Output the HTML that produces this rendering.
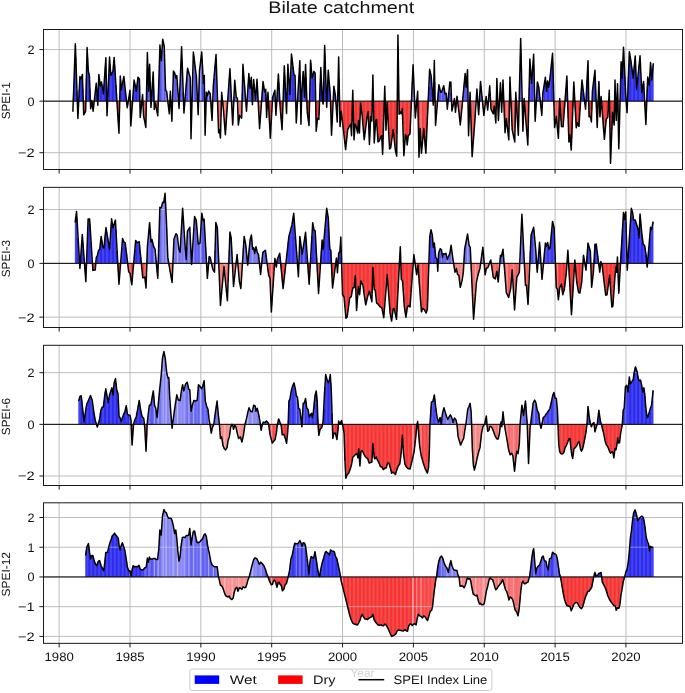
<!DOCTYPE html>
<html><head><meta charset="utf-8"><title>Bilate catchment</title>
<style>html,body{margin:0;padding:0;background:#fff}svg{display:block}text{font-family:"Liberation Sans",sans-serif;fill:#111;text-rendering:geometricPrecision;filter:grayscale(1)}</style></head><body>
<svg width="685" height="693" viewBox="0 0 685 693">
<rect width="685" height="693" fill="#fff"/>
<defs>
<clipPath id="ca0"><rect x="43.5" y="29.5" width="639.0" height="71.65"/></clipPath>
<clipPath id="cb0"><rect x="43.5" y="101.15" width="639.0" height="68.35"/></clipPath>
<linearGradient id="gb0" gradientUnits="userSpaceOnUse" x1="0" y1="0" x2="685" y2="0">
<stop offset="0.1066" stop-color="#2c2cee"/>
<stop offset="0.2044" stop-color="#2c2cee"/>
<stop offset="0.2131" stop-color="#3737ef"/>
<stop offset="0.2219" stop-color="#4141f0"/>
<stop offset="0.2380" stop-color="#5656f1"/>
<stop offset="0.2628" stop-color="#5a5af2"/>
<stop offset="0.2686" stop-color="#5454f1"/>
<stop offset="0.2774" stop-color="#4a4af0"/>
<stop offset="0.3095" stop-color="#4545f0"/>
<stop offset="0.3182" stop-color="#4c4cf1"/>
<stop offset="0.3241" stop-color="#5a5af2"/>
<stop offset="0.3650" stop-color="#5b5bf2"/>
<stop offset="0.3766" stop-color="#5656f1"/>
<stop offset="0.3854" stop-color="#4646f0"/>
<stop offset="0.3971" stop-color="#3939ef"/>
<stop offset="0.4088" stop-color="#2f2fee"/>
<stop offset="0.4380" stop-color="#3131ee"/>
<stop offset="0.4964" stop-color="#2c2cee"/>
<stop offset="0.6029" stop-color="#2c2cee"/>
<stop offset="0.6131" stop-color="#3333ef"/>
<stop offset="0.6365" stop-color="#3939ef"/>
<stop offset="0.6438" stop-color="#4141f0"/>
<stop offset="0.6526" stop-color="#5252f1"/>
<stop offset="0.6686" stop-color="#5656f1"/>
<stop offset="0.7095" stop-color="#5454f1"/>
<stop offset="0.7299" stop-color="#4a4af0"/>
<stop offset="0.7591" stop-color="#4545f0"/>
<stop offset="0.7679" stop-color="#4a4af0"/>
<stop offset="0.7752" stop-color="#3c3cef"/>
<stop offset="0.7956" stop-color="#3737ef"/>
<stop offset="0.8175" stop-color="#3131ee"/>
<stop offset="0.8234" stop-color="#2c2cee"/>
<stop offset="0.9562" stop-color="#2c2cee"/>
</linearGradient>
<linearGradient id="gr0" gradientUnits="userSpaceOnUse" x1="0" y1="0" x2="685" y2="0">
<stop offset="0.1066" stop-color="#f53434"/>
<stop offset="0.2044" stop-color="#f53434"/>
<stop offset="0.2131" stop-color="#f63e3e"/>
<stop offset="0.2219" stop-color="#f64848"/>
<stop offset="0.2380" stop-color="#f75d5d"/>
<stop offset="0.2628" stop-color="#f76161"/>
<stop offset="0.2686" stop-color="#f75b5b"/>
<stop offset="0.2774" stop-color="#f65050"/>
<stop offset="0.3095" stop-color="#f64c4c"/>
<stop offset="0.3182" stop-color="#f65252"/>
<stop offset="0.3241" stop-color="#f76161"/>
<stop offset="0.3650" stop-color="#f76262"/>
<stop offset="0.3766" stop-color="#f75d5d"/>
<stop offset="0.3854" stop-color="#f64d4d"/>
<stop offset="0.3971" stop-color="#f64040"/>
<stop offset="0.4088" stop-color="#f53737"/>
<stop offset="0.4380" stop-color="#f53939"/>
<stop offset="0.4964" stop-color="#f53434"/>
<stop offset="0.6029" stop-color="#f53434"/>
<stop offset="0.6131" stop-color="#f53b3b"/>
<stop offset="0.6365" stop-color="#f64040"/>
<stop offset="0.6438" stop-color="#f64848"/>
<stop offset="0.6526" stop-color="#f75959"/>
<stop offset="0.6686" stop-color="#f75d5d"/>
<stop offset="0.7095" stop-color="#f75b5b"/>
<stop offset="0.7299" stop-color="#f65050"/>
<stop offset="0.7591" stop-color="#f64c4c"/>
<stop offset="0.7679" stop-color="#f65050"/>
<stop offset="0.7752" stop-color="#f64343"/>
<stop offset="0.7956" stop-color="#f63e3e"/>
<stop offset="0.8175" stop-color="#f53939"/>
<stop offset="0.8234" stop-color="#f53434"/>
<stop offset="0.9562" stop-color="#f53434"/>
</linearGradient>
<clipPath id="ca1"><rect x="43.5" y="187.35" width="639.0" height="76.00000000000003"/></clipPath>
<clipPath id="cb1"><rect x="43.5" y="263.35" width="639.0" height="64.14999999999998"/></clipPath>
<linearGradient id="gb1" gradientUnits="userSpaceOnUse" x1="0" y1="0" x2="685" y2="0">
<stop offset="0.1066" stop-color="#2c2cee"/>
<stop offset="0.2044" stop-color="#2c2cee"/>
<stop offset="0.2131" stop-color="#3d3def"/>
<stop offset="0.2219" stop-color="#4e4ef1"/>
<stop offset="0.2380" stop-color="#7070f3"/>
<stop offset="0.2628" stop-color="#7676f4"/>
<stop offset="0.2686" stop-color="#6c6cf3"/>
<stop offset="0.2774" stop-color="#5b5bf2"/>
<stop offset="0.3095" stop-color="#5555f1"/>
<stop offset="0.3182" stop-color="#5f5ff2"/>
<stop offset="0.3241" stop-color="#7676f4"/>
<stop offset="0.3650" stop-color="#7878f4"/>
<stop offset="0.3766" stop-color="#7070f3"/>
<stop offset="0.3854" stop-color="#5656f1"/>
<stop offset="0.3971" stop-color="#4040f0"/>
<stop offset="0.4088" stop-color="#3131ee"/>
<stop offset="0.4380" stop-color="#3434ef"/>
<stop offset="0.4964" stop-color="#2c2cee"/>
<stop offset="0.6029" stop-color="#2c2cee"/>
<stop offset="0.6131" stop-color="#3838ef"/>
<stop offset="0.6365" stop-color="#4040f0"/>
<stop offset="0.6438" stop-color="#4e4ef1"/>
<stop offset="0.6526" stop-color="#6969f3"/>
<stop offset="0.6686" stop-color="#7070f3"/>
<stop offset="0.7095" stop-color="#6c6cf3"/>
<stop offset="0.7299" stop-color="#5b5bf2"/>
<stop offset="0.7591" stop-color="#5555f1"/>
<stop offset="0.7679" stop-color="#5b5bf2"/>
<stop offset="0.7752" stop-color="#4545f0"/>
<stop offset="0.7956" stop-color="#3d3def"/>
<stop offset="0.8175" stop-color="#3434ef"/>
<stop offset="0.8234" stop-color="#2c2cee"/>
<stop offset="0.9562" stop-color="#2c2cee"/>
</linearGradient>
<linearGradient id="gr1" gradientUnits="userSpaceOnUse" x1="0" y1="0" x2="685" y2="0">
<stop offset="0.1066" stop-color="#f53434"/>
<stop offset="0.2044" stop-color="#f53434"/>
<stop offset="0.2131" stop-color="#f64444"/>
<stop offset="0.2219" stop-color="#f75454"/>
<stop offset="0.2380" stop-color="#f87575"/>
<stop offset="0.2628" stop-color="#f97b7b"/>
<stop offset="0.2686" stop-color="#f87272"/>
<stop offset="0.2774" stop-color="#f76161"/>
<stop offset="0.3095" stop-color="#f75b5b"/>
<stop offset="0.3182" stop-color="#f76565"/>
<stop offset="0.3241" stop-color="#f97b7b"/>
<stop offset="0.3650" stop-color="#f97d7d"/>
<stop offset="0.3766" stop-color="#f87575"/>
<stop offset="0.3854" stop-color="#f75d5d"/>
<stop offset="0.3971" stop-color="#f64747"/>
<stop offset="0.4088" stop-color="#f53939"/>
<stop offset="0.4380" stop-color="#f53c3c"/>
<stop offset="0.4964" stop-color="#f53434"/>
<stop offset="0.6029" stop-color="#f53434"/>
<stop offset="0.6131" stop-color="#f63f3f"/>
<stop offset="0.6365" stop-color="#f64747"/>
<stop offset="0.6438" stop-color="#f75454"/>
<stop offset="0.6526" stop-color="#f86e6e"/>
<stop offset="0.6686" stop-color="#f87575"/>
<stop offset="0.7095" stop-color="#f87272"/>
<stop offset="0.7299" stop-color="#f76161"/>
<stop offset="0.7591" stop-color="#f75b5b"/>
<stop offset="0.7679" stop-color="#f76161"/>
<stop offset="0.7752" stop-color="#f64c4c"/>
<stop offset="0.7956" stop-color="#f64444"/>
<stop offset="0.8175" stop-color="#f53c3c"/>
<stop offset="0.8234" stop-color="#f53434"/>
<stop offset="0.9562" stop-color="#f53434"/>
</linearGradient>
<clipPath id="ca2"><rect x="43.5" y="345.3" width="639.0" height="79.05000000000001"/></clipPath>
<clipPath id="cb2"><rect x="43.5" y="424.35" width="639.0" height="61.14999999999998"/></clipPath>
<linearGradient id="gb2" gradientUnits="userSpaceOnUse" x1="0" y1="0" x2="685" y2="0">
<stop offset="0.1066" stop-color="#2c2cee"/>
<stop offset="0.2044" stop-color="#2c2cee"/>
<stop offset="0.2131" stop-color="#4141f0"/>
<stop offset="0.2219" stop-color="#5656f1"/>
<stop offset="0.2380" stop-color="#8080f5"/>
<stop offset="0.2628" stop-color="#8989f5"/>
<stop offset="0.2686" stop-color="#7c7cf4"/>
<stop offset="0.2774" stop-color="#6767f3"/>
<stop offset="0.3095" stop-color="#5f5ff2"/>
<stop offset="0.3182" stop-color="#6b6bf3"/>
<stop offset="0.3241" stop-color="#8989f5"/>
<stop offset="0.3650" stop-color="#8b8bf6"/>
<stop offset="0.3766" stop-color="#8080f5"/>
<stop offset="0.3854" stop-color="#6161f2"/>
<stop offset="0.3971" stop-color="#4545f0"/>
<stop offset="0.4088" stop-color="#3232ef"/>
<stop offset="0.4380" stop-color="#3737ef"/>
<stop offset="0.4964" stop-color="#2c2cee"/>
<stop offset="0.6029" stop-color="#2c2cee"/>
<stop offset="0.6131" stop-color="#3b3bef"/>
<stop offset="0.6365" stop-color="#4545f0"/>
<stop offset="0.6438" stop-color="#5656f1"/>
<stop offset="0.6526" stop-color="#7878f4"/>
<stop offset="0.6686" stop-color="#8080f5"/>
<stop offset="0.7095" stop-color="#7c7cf4"/>
<stop offset="0.7299" stop-color="#6767f3"/>
<stop offset="0.7591" stop-color="#5f5ff2"/>
<stop offset="0.7679" stop-color="#6767f3"/>
<stop offset="0.7752" stop-color="#4c4cf1"/>
<stop offset="0.7956" stop-color="#4141f0"/>
<stop offset="0.8175" stop-color="#3737ef"/>
<stop offset="0.8234" stop-color="#2c2cee"/>
<stop offset="0.9562" stop-color="#2c2cee"/>
</linearGradient>
<linearGradient id="gr2" gradientUnits="userSpaceOnUse" x1="0" y1="0" x2="685" y2="0">
<stop offset="0.1066" stop-color="#f53434"/>
<stop offset="0.2044" stop-color="#f53434"/>
<stop offset="0.2131" stop-color="#f64848"/>
<stop offset="0.2219" stop-color="#f75d5d"/>
<stop offset="0.2380" stop-color="#f98585"/>
<stop offset="0.2628" stop-color="#f98d8d"/>
<stop offset="0.2686" stop-color="#f98181"/>
<stop offset="0.2774" stop-color="#f86d6d"/>
<stop offset="0.3095" stop-color="#f76565"/>
<stop offset="0.3182" stop-color="#f87171"/>
<stop offset="0.3241" stop-color="#f98d8d"/>
<stop offset="0.3650" stop-color="#fa8f8f"/>
<stop offset="0.3766" stop-color="#f98585"/>
<stop offset="0.3854" stop-color="#f86767"/>
<stop offset="0.3971" stop-color="#f64c4c"/>
<stop offset="0.4088" stop-color="#f53a3a"/>
<stop offset="0.4380" stop-color="#f63e3e"/>
<stop offset="0.4964" stop-color="#f53434"/>
<stop offset="0.6029" stop-color="#f53434"/>
<stop offset="0.6131" stop-color="#f64242"/>
<stop offset="0.6365" stop-color="#f64c4c"/>
<stop offset="0.6438" stop-color="#f75d5d"/>
<stop offset="0.6526" stop-color="#f97d7d"/>
<stop offset="0.6686" stop-color="#f98585"/>
<stop offset="0.7095" stop-color="#f98181"/>
<stop offset="0.7299" stop-color="#f86d6d"/>
<stop offset="0.7591" stop-color="#f76565"/>
<stop offset="0.7679" stop-color="#f86d6d"/>
<stop offset="0.7752" stop-color="#f65252"/>
<stop offset="0.7956" stop-color="#f64848"/>
<stop offset="0.8175" stop-color="#f63e3e"/>
<stop offset="0.8234" stop-color="#f53434"/>
<stop offset="0.9562" stop-color="#f53434"/>
</linearGradient>
<clipPath id="ca3"><rect x="43.5" y="502.8" width="639.0" height="74.15000000000003"/></clipPath>
<clipPath id="cb3"><rect x="43.5" y="576.95" width="639.0" height="66.39999999999998"/></clipPath>
<linearGradient id="gb3" gradientUnits="userSpaceOnUse" x1="0" y1="0" x2="685" y2="0">
<stop offset="0.1066" stop-color="#2c2cee"/>
<stop offset="0.2044" stop-color="#2c2cee"/>
<stop offset="0.2131" stop-color="#4141f0"/>
<stop offset="0.2219" stop-color="#5656f1"/>
<stop offset="0.2380" stop-color="#8080f5"/>
<stop offset="0.2628" stop-color="#8989f5"/>
<stop offset="0.2686" stop-color="#7c7cf4"/>
<stop offset="0.2774" stop-color="#6767f3"/>
<stop offset="0.3095" stop-color="#5f5ff2"/>
<stop offset="0.3182" stop-color="#6b6bf3"/>
<stop offset="0.3241" stop-color="#8989f5"/>
<stop offset="0.3650" stop-color="#8b8bf6"/>
<stop offset="0.3766" stop-color="#8080f5"/>
<stop offset="0.3854" stop-color="#6161f2"/>
<stop offset="0.3971" stop-color="#4545f0"/>
<stop offset="0.4088" stop-color="#3232ef"/>
<stop offset="0.4380" stop-color="#3737ef"/>
<stop offset="0.4964" stop-color="#2c2cee"/>
<stop offset="0.6029" stop-color="#2c2cee"/>
<stop offset="0.6131" stop-color="#3b3bef"/>
<stop offset="0.6365" stop-color="#4545f0"/>
<stop offset="0.6438" stop-color="#5656f1"/>
<stop offset="0.6526" stop-color="#7878f4"/>
<stop offset="0.6686" stop-color="#8080f5"/>
<stop offset="0.7095" stop-color="#7c7cf4"/>
<stop offset="0.7299" stop-color="#6767f3"/>
<stop offset="0.7591" stop-color="#5f5ff2"/>
<stop offset="0.7679" stop-color="#6767f3"/>
<stop offset="0.7752" stop-color="#4c4cf1"/>
<stop offset="0.7956" stop-color="#4141f0"/>
<stop offset="0.8175" stop-color="#3737ef"/>
<stop offset="0.8234" stop-color="#2c2cee"/>
<stop offset="0.9562" stop-color="#2c2cee"/>
</linearGradient>
<linearGradient id="gr3" gradientUnits="userSpaceOnUse" x1="0" y1="0" x2="685" y2="0">
<stop offset="0.1066" stop-color="#f53434"/>
<stop offset="0.2044" stop-color="#f53434"/>
<stop offset="0.2131" stop-color="#f64848"/>
<stop offset="0.2219" stop-color="#f75d5d"/>
<stop offset="0.2380" stop-color="#f98585"/>
<stop offset="0.2628" stop-color="#f98d8d"/>
<stop offset="0.2686" stop-color="#f98181"/>
<stop offset="0.2774" stop-color="#f86d6d"/>
<stop offset="0.3095" stop-color="#f76565"/>
<stop offset="0.3182" stop-color="#f87171"/>
<stop offset="0.3241" stop-color="#f98d8d"/>
<stop offset="0.3650" stop-color="#fa8f8f"/>
<stop offset="0.3766" stop-color="#f98585"/>
<stop offset="0.3854" stop-color="#f86767"/>
<stop offset="0.3971" stop-color="#f64c4c"/>
<stop offset="0.4088" stop-color="#f53a3a"/>
<stop offset="0.4380" stop-color="#f63e3e"/>
<stop offset="0.4964" stop-color="#f53434"/>
<stop offset="0.6029" stop-color="#f53434"/>
<stop offset="0.6131" stop-color="#f64242"/>
<stop offset="0.6365" stop-color="#f64c4c"/>
<stop offset="0.6438" stop-color="#f75d5d"/>
<stop offset="0.6526" stop-color="#f97d7d"/>
<stop offset="0.6686" stop-color="#f98585"/>
<stop offset="0.7095" stop-color="#f98181"/>
<stop offset="0.7299" stop-color="#f86d6d"/>
<stop offset="0.7591" stop-color="#f76565"/>
<stop offset="0.7679" stop-color="#f86d6d"/>
<stop offset="0.7752" stop-color="#f65252"/>
<stop offset="0.7956" stop-color="#f64848"/>
<stop offset="0.8175" stop-color="#f63e3e"/>
<stop offset="0.8234" stop-color="#f53434"/>
<stop offset="0.9562" stop-color="#f53434"/>
</linearGradient>
</defs>
<text x="341.3" y="13.2" font-size="16.6" text-anchor="middle" textLength="146" lengthAdjust="spacingAndGlyphs">Bilate catchment</text>
<line x1="59.15" y1="29.5" x2="59.15" y2="169.5" stroke="#b4b4b4" stroke-width="0.9"/>
<line x1="130.00" y1="29.5" x2="130.00" y2="169.5" stroke="#b4b4b4" stroke-width="0.9"/>
<line x1="200.85" y1="29.5" x2="200.85" y2="169.5" stroke="#b4b4b4" stroke-width="0.9"/>
<line x1="271.70" y1="29.5" x2="271.70" y2="169.5" stroke="#b4b4b4" stroke-width="0.9"/>
<line x1="342.55" y1="29.5" x2="342.55" y2="169.5" stroke="#b4b4b4" stroke-width="0.9"/>
<line x1="413.40" y1="29.5" x2="413.40" y2="169.5" stroke="#b4b4b4" stroke-width="0.9"/>
<line x1="484.25" y1="29.5" x2="484.25" y2="169.5" stroke="#b4b4b4" stroke-width="0.9"/>
<line x1="555.10" y1="29.5" x2="555.10" y2="169.5" stroke="#b4b4b4" stroke-width="0.9"/>
<line x1="625.95" y1="29.5" x2="625.95" y2="169.5" stroke="#b4b4b4" stroke-width="0.9"/>
<line x1="43.5" y1="49.59" x2="682.5" y2="49.59" stroke="#b4b4b4" stroke-width="0.9"/>
<line x1="43.5" y1="101.15" x2="682.5" y2="101.15" stroke="#b4b4b4" stroke-width="0.9"/>
<line x1="43.5" y1="152.71" x2="682.5" y2="152.71" stroke="#b4b4b4" stroke-width="0.9"/>
<path d="M72.81,101.15V97.22H73.99V64.50H75.17V56.46H76.35V90.94H77.53V113.46H78.71V89.26H79.89V77.57H81.08V77.01H82.26V88.66H83.44V114.19H84.62V111.89H85.80V78.21H86.98V56.89H88.16V72.98H89.34V89.48H90.52V105.37H91.70V104.65H92.88V108.00H94.06V97.53H95.24V87.05H96.43V93.84H97.61V93.60H98.79V79.08H99.97V84.46H101.15V83.98H102.33V90.89H103.51V83.99H104.69V66.62H105.87V87.77H107.05V101.18H108.23V74.02H109.41V63.74H110.60V74.71H111.78V72.46H112.96V64.37H114.14V66.37H115.32V85.01H116.50V103.65H117.68V122.30H118.86V112.13H120.04V80.60H121.22V87.18H122.40V81.04H123.58V79.34H124.76V90.25H125.95V101.17H127.13V104.66H128.31V97.23H129.49V93.72H130.67V119.85H131.85V103.24H133.03V86.63H134.21V83.64H135.39V89.55H136.57V84.17H137.75V77.69H138.93V84.84H140.12V112.65H141.30V101.20H142.48V104.95H143.66V119.21H144.84V125.28H146.02V89.73H147.20V65.74H148.38V81.42H149.56V81.51H150.74V101.29H151.92V82.67H153.10V88.51H154.28V106.27H155.47V106.39H156.65V112.81H157.83V95.32H159.01V56.40H160.19V54.23H161.37V51.15H162.55V41.25H163.73V49.29H164.91V88.35H166.09V92.13H167.27V101.75H168.45V111.37H169.64V94.35H170.82V111.68H172.00V98.65H173.18V71.59H174.36V74.25H175.54V77.15H176.72V82.92H177.90V100.20H179.08V93.39H180.26V64.96H181.44V58.96H182.62V92.22H183.80V107.57H184.99V92.79H186.17V78.01H187.35V69.75H188.53V73.90H189.71V78.79H190.89V121.30H192.07V77.66H193.25V55.94H194.43V65.58H195.61V75.22H196.79V97.96H197.97V101.38H199.16V68.70H200.34V58.78H201.52V59.02H202.70V81.53H203.88V88.41H205.06V116.34H206.24V94.07H207.42V93.55H208.60V92.02H209.78V96.09H210.96V113.15H212.14V101.55H213.32V78.96H214.51V65.40H215.69V61.67H216.87V97.80H218.05V132.56H219.23V133.07H220.41V117.05H221.59V97.36H222.77V108.84H223.95V124.08H225.13V129.27H226.31V112.29H227.49V95.31H228.68V78.33H229.86V78.97H231.04V103.11H232.22V122.67H233.40V96.80H234.58V85.05H235.76V97.50H236.94V102.07H238.12V122.17H239.30V115.67H240.48V117.32H241.66V93.45H242.84V71.02H244.03V86.54H245.21V102.06H246.39V103.48H247.57V84.48H248.75V79.40H249.93V84.21H251.11V87.03H252.29V95.21H253.47V84.16H254.65V97.28H255.83V87.32H257.01V90.55H258.20V113.36H259.38V123.32H260.56V107.34H261.74V91.36H262.92V84.67H264.10V91.58H265.28V94.29H266.46V109.35H267.64V97.76H268.82V120.85H270.00V133.10H271.18V111.63H272.36V96.22H273.55V92.63H274.73V100.38H275.91V105.70H277.09V85.77H278.27V82.87H279.45V104.85H280.63V119.87H281.81V119.87H282.99V86.33H284.17V75.47H285.35V100.53H286.53V92.33H287.72V70.47H288.90V87.89H290.08V74.87H291.26V57.20H292.44V66.88H293.62V75.06H294.80V89.22H295.98V117.60H297.16V97.02H298.34V76.44H299.52V76.23H300.70V109.96H301.88V81.93H303.07V80.12H304.25V87.86H305.43V77.22H306.61V110.00H307.79V120.72H308.97V103.16H310.15V62.16H311.33V75.94H312.51V74.41H313.69V71.96H314.87V90.24H316.05V126.78H317.24V118.63H318.42V115.12H319.60V83.61H320.78V79.89H321.96V101.14H323.14V81.45H324.32V52.78H325.50V88.38H326.68V93.75H327.86V72.89H329.04V87.36H330.22V112.44H331.40V125.26H332.59V100.62H333.77V89.14H334.95V97.39H336.13V114.45H337.31V92.02H338.49V78.52H339.67V123.31H340.85V113.09H342.03V123.21H343.21V133.33H344.39V143.83H345.57V144.25H346.76V132.74H347.94V127.91H349.12V125.55H350.30V126.29H351.48V116.42H352.66V109.54H353.84V133.78H355.02V125.11H356.20V128.98H357.38V127.53H358.56V129.35H359.74V110.54H360.92V110.12H362.11V122.14H363.29V135.72H364.47V132.81H365.65V123.20H366.83V114.96H368.01V122.32H369.19V136.55H370.37V117.97H371.55V106.13H372.73V96.40H373.91V138.94H375.09V121.62H376.28V123.86H377.46V141.87H378.64V141.03H379.82V137.78H381.00V135.83H382.18V149.16H383.36V111.77H384.54V99.58H385.72V122.77H386.90V108.14H388.08V131.50H389.26V148.73H390.44V145.22H391.63V136.47H392.81V132.01H393.99V142.79H395.17V152.22H396.35V133.93H397.53V46.74H398.71V113.93H399.89V112.41H401.07V112.04H402.25V124.30H403.43V153.54H404.61V137.41H405.80V135.73H406.98V141.45H408.16V135.19H409.34V133.80H410.52V108.74H411.70V82.19H412.88V74.31H414.06V102.22H415.24V112.02H416.42V98.67H417.60V117.59H418.78V148.31H419.96V135.34H421.15V150.10H422.33V137.78H423.51V132.24H424.69V146.41H425.87V139.39H427.05V113.22H428.23V87.05H429.41V71.00H430.59V76.39H431.77V92.41H432.95V94.38H434.13V81.92H435.32V121.20H436.50V106.88H437.68V92.57H438.86V87.00H440.04V92.21H441.22V91.43H442.40V87.89H443.58V88.46H444.76V93.74H445.94V97.33H447.12V104.76H448.30V92.15H449.48V81.96H450.67V92.91H451.85V108.59H453.03V103.05H454.21V103.15H455.39V106.96H456.57V97.48H457.75V107.12H458.93V117.76H460.11V120.55H461.29V108.13H462.47V95.70H463.65V83.28H464.84V76.73H466.02V81.88H467.20V86.21H468.38V124.01H469.56V94.32H470.74V131.51H471.92V151.71H473.10V136.18H474.28V120.66H475.46V102.57H476.64V93.53H477.82V111.03H479.00V98.12H480.19V84.26H481.37V96.06H482.55V107.87H483.73V111.67H484.91V101.74H486.09V101.36H487.27V107.86H488.45V93.69H489.63V94.80H490.81V109.95H491.99V112.36H493.17V110.19H494.36V113.17H495.54V110.49H496.72V90.74H497.90V118.69H499.08V96.85H500.26V92.59H501.44V103.37H502.62V85.72H503.80V116.12H504.98V126.92H506.16V121.80H507.34V132.13H508.52V123.16H509.71V85.32H510.89V112.97H512.07V131.88H513.25V137.55H514.43V128.53H515.61V99.64H516.79V119.47H517.97V125.30H519.15V76.63H520.33V48.82H521.51V97.55H522.69V121.40H523.88V102.52H525.06V117.45H526.24V132.37H527.42V137.21H528.60V87.61H529.78V66.07H530.96V82.39H532.14V67.25H533.32V65.85H534.50V117.41H535.68V102.13H536.86V82.01H538.04V86.74H539.23V96.93H540.41V107.75H541.59V107.70H542.77V90.11H543.95V82.65H545.13V80.90H546.31V88.56H547.49V83.70H548.67V83.12H549.85V73.72H551.03V62.30H552.21V62.39H553.40V105.31H554.58V123.92H555.76V116.47H556.94V129.17H558.12V128.44H559.30V101.41H560.48V120.51H561.66V126.67H562.84V122.04H564.02V106.18H565.20V90.32H566.38V79.65H567.56V117.73H568.75V138.88H569.93V141.56H571.11V138.29H572.29V106.88H573.47V86.77H574.65V108.76H575.83V127.07H577.01V123.20H578.19V126.04H579.37V110.59H580.55V92.76H581.73V82.86H582.92V92.52H584.10V102.13H585.28V103.14H586.46V79.77H587.64V72.50H588.82V116.72H590.00V117.60H591.18V110.40H592.36V86.85H593.54V77.16H594.72V79.31H595.90V109.37H597.08V114.51H598.27V81.94H599.45V115.63H600.63V98.05H601.81V113.55H602.99V129.05H604.17V135.05H605.35V122.25H606.53V118.19H607.71V107.36H608.89V103.09H610.07V159.12H611.25V129.60H612.44V116.07H613.62V123.24H614.80V92.82H615.98V110.97H617.16V93.97H618.34V143.33H619.52V99.54H620.70V64.24H621.88V70.67H623.06V51.04H624.24V76.35H625.42V98.61H626.60V109.05H627.79V76.95H628.97V53.13H630.15V60.06H631.33V68.63H632.51V77.36H633.69V66.30H634.87V61.35H636.05V88.76H637.23V77.68H638.41V65.96H639.59V58.87H640.77V83.74H641.96V87.83H643.14V83.78H644.32V106.33H645.50V118.65H646.68V88.14H647.86V81.00H649.04V78.39H650.22V66.08H651.40V77.82H652.58V64.83H653.62V101.15Z" fill="url(#gb0)" clip-path="url(#ca0)"/>
<path d="M72.81,101.15V97.22H73.99V64.50H75.17V56.46H76.35V90.94H77.53V113.46H78.71V89.26H79.89V77.57H81.08V77.01H82.26V88.66H83.44V114.19H84.62V111.89H85.80V78.21H86.98V56.89H88.16V72.98H89.34V89.48H90.52V105.37H91.70V104.65H92.88V108.00H94.06V97.53H95.24V87.05H96.43V93.84H97.61V93.60H98.79V79.08H99.97V84.46H101.15V83.98H102.33V90.89H103.51V83.99H104.69V66.62H105.87V87.77H107.05V101.18H108.23V74.02H109.41V63.74H110.60V74.71H111.78V72.46H112.96V64.37H114.14V66.37H115.32V85.01H116.50V103.65H117.68V122.30H118.86V112.13H120.04V80.60H121.22V87.18H122.40V81.04H123.58V79.34H124.76V90.25H125.95V101.17H127.13V104.66H128.31V97.23H129.49V93.72H130.67V119.85H131.85V103.24H133.03V86.63H134.21V83.64H135.39V89.55H136.57V84.17H137.75V77.69H138.93V84.84H140.12V112.65H141.30V101.20H142.48V104.95H143.66V119.21H144.84V125.28H146.02V89.73H147.20V65.74H148.38V81.42H149.56V81.51H150.74V101.29H151.92V82.67H153.10V88.51H154.28V106.27H155.47V106.39H156.65V112.81H157.83V95.32H159.01V56.40H160.19V54.23H161.37V51.15H162.55V41.25H163.73V49.29H164.91V88.35H166.09V92.13H167.27V101.75H168.45V111.37H169.64V94.35H170.82V111.68H172.00V98.65H173.18V71.59H174.36V74.25H175.54V77.15H176.72V82.92H177.90V100.20H179.08V93.39H180.26V64.96H181.44V58.96H182.62V92.22H183.80V107.57H184.99V92.79H186.17V78.01H187.35V69.75H188.53V73.90H189.71V78.79H190.89V121.30H192.07V77.66H193.25V55.94H194.43V65.58H195.61V75.22H196.79V97.96H197.97V101.38H199.16V68.70H200.34V58.78H201.52V59.02H202.70V81.53H203.88V88.41H205.06V116.34H206.24V94.07H207.42V93.55H208.60V92.02H209.78V96.09H210.96V113.15H212.14V101.55H213.32V78.96H214.51V65.40H215.69V61.67H216.87V97.80H218.05V132.56H219.23V133.07H220.41V117.05H221.59V97.36H222.77V108.84H223.95V124.08H225.13V129.27H226.31V112.29H227.49V95.31H228.68V78.33H229.86V78.97H231.04V103.11H232.22V122.67H233.40V96.80H234.58V85.05H235.76V97.50H236.94V102.07H238.12V122.17H239.30V115.67H240.48V117.32H241.66V93.45H242.84V71.02H244.03V86.54H245.21V102.06H246.39V103.48H247.57V84.48H248.75V79.40H249.93V84.21H251.11V87.03H252.29V95.21H253.47V84.16H254.65V97.28H255.83V87.32H257.01V90.55H258.20V113.36H259.38V123.32H260.56V107.34H261.74V91.36H262.92V84.67H264.10V91.58H265.28V94.29H266.46V109.35H267.64V97.76H268.82V120.85H270.00V133.10H271.18V111.63H272.36V96.22H273.55V92.63H274.73V100.38H275.91V105.70H277.09V85.77H278.27V82.87H279.45V104.85H280.63V119.87H281.81V119.87H282.99V86.33H284.17V75.47H285.35V100.53H286.53V92.33H287.72V70.47H288.90V87.89H290.08V74.87H291.26V57.20H292.44V66.88H293.62V75.06H294.80V89.22H295.98V117.60H297.16V97.02H298.34V76.44H299.52V76.23H300.70V109.96H301.88V81.93H303.07V80.12H304.25V87.86H305.43V77.22H306.61V110.00H307.79V120.72H308.97V103.16H310.15V62.16H311.33V75.94H312.51V74.41H313.69V71.96H314.87V90.24H316.05V126.78H317.24V118.63H318.42V115.12H319.60V83.61H320.78V79.89H321.96V101.14H323.14V81.45H324.32V52.78H325.50V88.38H326.68V93.75H327.86V72.89H329.04V87.36H330.22V112.44H331.40V125.26H332.59V100.62H333.77V89.14H334.95V97.39H336.13V114.45H337.31V92.02H338.49V78.52H339.67V123.31H340.85V113.09H342.03V123.21H343.21V133.33H344.39V143.83H345.57V144.25H346.76V132.74H347.94V127.91H349.12V125.55H350.30V126.29H351.48V116.42H352.66V109.54H353.84V133.78H355.02V125.11H356.20V128.98H357.38V127.53H358.56V129.35H359.74V110.54H360.92V110.12H362.11V122.14H363.29V135.72H364.47V132.81H365.65V123.20H366.83V114.96H368.01V122.32H369.19V136.55H370.37V117.97H371.55V106.13H372.73V96.40H373.91V138.94H375.09V121.62H376.28V123.86H377.46V141.87H378.64V141.03H379.82V137.78H381.00V135.83H382.18V149.16H383.36V111.77H384.54V99.58H385.72V122.77H386.90V108.14H388.08V131.50H389.26V148.73H390.44V145.22H391.63V136.47H392.81V132.01H393.99V142.79H395.17V152.22H396.35V133.93H397.53V46.74H398.71V113.93H399.89V112.41H401.07V112.04H402.25V124.30H403.43V153.54H404.61V137.41H405.80V135.73H406.98V141.45H408.16V135.19H409.34V133.80H410.52V108.74H411.70V82.19H412.88V74.31H414.06V102.22H415.24V112.02H416.42V98.67H417.60V117.59H418.78V148.31H419.96V135.34H421.15V150.10H422.33V137.78H423.51V132.24H424.69V146.41H425.87V139.39H427.05V113.22H428.23V87.05H429.41V71.00H430.59V76.39H431.77V92.41H432.95V94.38H434.13V81.92H435.32V121.20H436.50V106.88H437.68V92.57H438.86V87.00H440.04V92.21H441.22V91.43H442.40V87.89H443.58V88.46H444.76V93.74H445.94V97.33H447.12V104.76H448.30V92.15H449.48V81.96H450.67V92.91H451.85V108.59H453.03V103.05H454.21V103.15H455.39V106.96H456.57V97.48H457.75V107.12H458.93V117.76H460.11V120.55H461.29V108.13H462.47V95.70H463.65V83.28H464.84V76.73H466.02V81.88H467.20V86.21H468.38V124.01H469.56V94.32H470.74V131.51H471.92V151.71H473.10V136.18H474.28V120.66H475.46V102.57H476.64V93.53H477.82V111.03H479.00V98.12H480.19V84.26H481.37V96.06H482.55V107.87H483.73V111.67H484.91V101.74H486.09V101.36H487.27V107.86H488.45V93.69H489.63V94.80H490.81V109.95H491.99V112.36H493.17V110.19H494.36V113.17H495.54V110.49H496.72V90.74H497.90V118.69H499.08V96.85H500.26V92.59H501.44V103.37H502.62V85.72H503.80V116.12H504.98V126.92H506.16V121.80H507.34V132.13H508.52V123.16H509.71V85.32H510.89V112.97H512.07V131.88H513.25V137.55H514.43V128.53H515.61V99.64H516.79V119.47H517.97V125.30H519.15V76.63H520.33V48.82H521.51V97.55H522.69V121.40H523.88V102.52H525.06V117.45H526.24V132.37H527.42V137.21H528.60V87.61H529.78V66.07H530.96V82.39H532.14V67.25H533.32V65.85H534.50V117.41H535.68V102.13H536.86V82.01H538.04V86.74H539.23V96.93H540.41V107.75H541.59V107.70H542.77V90.11H543.95V82.65H545.13V80.90H546.31V88.56H547.49V83.70H548.67V83.12H549.85V73.72H551.03V62.30H552.21V62.39H553.40V105.31H554.58V123.92H555.76V116.47H556.94V129.17H558.12V128.44H559.30V101.41H560.48V120.51H561.66V126.67H562.84V122.04H564.02V106.18H565.20V90.32H566.38V79.65H567.56V117.73H568.75V138.88H569.93V141.56H571.11V138.29H572.29V106.88H573.47V86.77H574.65V108.76H575.83V127.07H577.01V123.20H578.19V126.04H579.37V110.59H580.55V92.76H581.73V82.86H582.92V92.52H584.10V102.13H585.28V103.14H586.46V79.77H587.64V72.50H588.82V116.72H590.00V117.60H591.18V110.40H592.36V86.85H593.54V77.16H594.72V79.31H595.90V109.37H597.08V114.51H598.27V81.94H599.45V115.63H600.63V98.05H601.81V113.55H602.99V129.05H604.17V135.05H605.35V122.25H606.53V118.19H607.71V107.36H608.89V103.09H610.07V159.12H611.25V129.60H612.44V116.07H613.62V123.24H614.80V92.82H615.98V110.97H617.16V93.97H618.34V143.33H619.52V99.54H620.70V64.24H621.88V70.67H623.06V51.04H624.24V76.35H625.42V98.61H626.60V109.05H627.79V76.95H628.97V53.13H630.15V60.06H631.33V68.63H632.51V77.36H633.69V66.30H634.87V61.35H636.05V88.76H637.23V77.68H638.41V65.96H639.59V58.87H640.77V83.74H641.96V87.83H643.14V83.78H644.32V106.33H645.50V118.65H646.68V88.14H647.86V81.00H649.04V78.39H650.22V66.08H651.40V77.82H652.58V64.83H653.62V101.15Z" fill="url(#gr0)" clip-path="url(#cb0)"/>
<clipPath id="cf0"><path d="M72.81,101.15V97.22H73.99V64.50H75.17V56.46H76.35V90.94H77.53V113.46H78.71V89.26H79.89V77.57H81.08V77.01H82.26V88.66H83.44V114.19H84.62V111.89H85.80V78.21H86.98V56.89H88.16V72.98H89.34V89.48H90.52V105.37H91.70V104.65H92.88V108.00H94.06V97.53H95.24V87.05H96.43V93.84H97.61V93.60H98.79V79.08H99.97V84.46H101.15V83.98H102.33V90.89H103.51V83.99H104.69V66.62H105.87V87.77H107.05V101.18H108.23V74.02H109.41V63.74H110.60V74.71H111.78V72.46H112.96V64.37H114.14V66.37H115.32V85.01H116.50V103.65H117.68V122.30H118.86V112.13H120.04V80.60H121.22V87.18H122.40V81.04H123.58V79.34H124.76V90.25H125.95V101.17H127.13V104.66H128.31V97.23H129.49V93.72H130.67V119.85H131.85V103.24H133.03V86.63H134.21V83.64H135.39V89.55H136.57V84.17H137.75V77.69H138.93V84.84H140.12V112.65H141.30V101.20H142.48V104.95H143.66V119.21H144.84V125.28H146.02V89.73H147.20V65.74H148.38V81.42H149.56V81.51H150.74V101.29H151.92V82.67H153.10V88.51H154.28V106.27H155.47V106.39H156.65V112.81H157.83V95.32H159.01V56.40H160.19V54.23H161.37V51.15H162.55V41.25H163.73V49.29H164.91V88.35H166.09V92.13H167.27V101.75H168.45V111.37H169.64V94.35H170.82V111.68H172.00V98.65H173.18V71.59H174.36V74.25H175.54V77.15H176.72V82.92H177.90V100.20H179.08V93.39H180.26V64.96H181.44V58.96H182.62V92.22H183.80V107.57H184.99V92.79H186.17V78.01H187.35V69.75H188.53V73.90H189.71V78.79H190.89V121.30H192.07V77.66H193.25V55.94H194.43V65.58H195.61V75.22H196.79V97.96H197.97V101.38H199.16V68.70H200.34V58.78H201.52V59.02H202.70V81.53H203.88V88.41H205.06V116.34H206.24V94.07H207.42V93.55H208.60V92.02H209.78V96.09H210.96V113.15H212.14V101.55H213.32V78.96H214.51V65.40H215.69V61.67H216.87V97.80H218.05V132.56H219.23V133.07H220.41V117.05H221.59V97.36H222.77V108.84H223.95V124.08H225.13V129.27H226.31V112.29H227.49V95.31H228.68V78.33H229.86V78.97H231.04V103.11H232.22V122.67H233.40V96.80H234.58V85.05H235.76V97.50H236.94V102.07H238.12V122.17H239.30V115.67H240.48V117.32H241.66V93.45H242.84V71.02H244.03V86.54H245.21V102.06H246.39V103.48H247.57V84.48H248.75V79.40H249.93V84.21H251.11V87.03H252.29V95.21H253.47V84.16H254.65V97.28H255.83V87.32H257.01V90.55H258.20V113.36H259.38V123.32H260.56V107.34H261.74V91.36H262.92V84.67H264.10V91.58H265.28V94.29H266.46V109.35H267.64V97.76H268.82V120.85H270.00V133.10H271.18V111.63H272.36V96.22H273.55V92.63H274.73V100.38H275.91V105.70H277.09V85.77H278.27V82.87H279.45V104.85H280.63V119.87H281.81V119.87H282.99V86.33H284.17V75.47H285.35V100.53H286.53V92.33H287.72V70.47H288.90V87.89H290.08V74.87H291.26V57.20H292.44V66.88H293.62V75.06H294.80V89.22H295.98V117.60H297.16V97.02H298.34V76.44H299.52V76.23H300.70V109.96H301.88V81.93H303.07V80.12H304.25V87.86H305.43V77.22H306.61V110.00H307.79V120.72H308.97V103.16H310.15V62.16H311.33V75.94H312.51V74.41H313.69V71.96H314.87V90.24H316.05V126.78H317.24V118.63H318.42V115.12H319.60V83.61H320.78V79.89H321.96V101.14H323.14V81.45H324.32V52.78H325.50V88.38H326.68V93.75H327.86V72.89H329.04V87.36H330.22V112.44H331.40V125.26H332.59V100.62H333.77V89.14H334.95V97.39H336.13V114.45H337.31V92.02H338.49V78.52H339.67V123.31H340.85V113.09H342.03V123.21H343.21V133.33H344.39V143.83H345.57V144.25H346.76V132.74H347.94V127.91H349.12V125.55H350.30V126.29H351.48V116.42H352.66V109.54H353.84V133.78H355.02V125.11H356.20V128.98H357.38V127.53H358.56V129.35H359.74V110.54H360.92V110.12H362.11V122.14H363.29V135.72H364.47V132.81H365.65V123.20H366.83V114.96H368.01V122.32H369.19V136.55H370.37V117.97H371.55V106.13H372.73V96.40H373.91V138.94H375.09V121.62H376.28V123.86H377.46V141.87H378.64V141.03H379.82V137.78H381.00V135.83H382.18V149.16H383.36V111.77H384.54V99.58H385.72V122.77H386.90V108.14H388.08V131.50H389.26V148.73H390.44V145.22H391.63V136.47H392.81V132.01H393.99V142.79H395.17V152.22H396.35V133.93H397.53V46.74H398.71V113.93H399.89V112.41H401.07V112.04H402.25V124.30H403.43V153.54H404.61V137.41H405.80V135.73H406.98V141.45H408.16V135.19H409.34V133.80H410.52V108.74H411.70V82.19H412.88V74.31H414.06V102.22H415.24V112.02H416.42V98.67H417.60V117.59H418.78V148.31H419.96V135.34H421.15V150.10H422.33V137.78H423.51V132.24H424.69V146.41H425.87V139.39H427.05V113.22H428.23V87.05H429.41V71.00H430.59V76.39H431.77V92.41H432.95V94.38H434.13V81.92H435.32V121.20H436.50V106.88H437.68V92.57H438.86V87.00H440.04V92.21H441.22V91.43H442.40V87.89H443.58V88.46H444.76V93.74H445.94V97.33H447.12V104.76H448.30V92.15H449.48V81.96H450.67V92.91H451.85V108.59H453.03V103.05H454.21V103.15H455.39V106.96H456.57V97.48H457.75V107.12H458.93V117.76H460.11V120.55H461.29V108.13H462.47V95.70H463.65V83.28H464.84V76.73H466.02V81.88H467.20V86.21H468.38V124.01H469.56V94.32H470.74V131.51H471.92V151.71H473.10V136.18H474.28V120.66H475.46V102.57H476.64V93.53H477.82V111.03H479.00V98.12H480.19V84.26H481.37V96.06H482.55V107.87H483.73V111.67H484.91V101.74H486.09V101.36H487.27V107.86H488.45V93.69H489.63V94.80H490.81V109.95H491.99V112.36H493.17V110.19H494.36V113.17H495.54V110.49H496.72V90.74H497.90V118.69H499.08V96.85H500.26V92.59H501.44V103.37H502.62V85.72H503.80V116.12H504.98V126.92H506.16V121.80H507.34V132.13H508.52V123.16H509.71V85.32H510.89V112.97H512.07V131.88H513.25V137.55H514.43V128.53H515.61V99.64H516.79V119.47H517.97V125.30H519.15V76.63H520.33V48.82H521.51V97.55H522.69V121.40H523.88V102.52H525.06V117.45H526.24V132.37H527.42V137.21H528.60V87.61H529.78V66.07H530.96V82.39H532.14V67.25H533.32V65.85H534.50V117.41H535.68V102.13H536.86V82.01H538.04V86.74H539.23V96.93H540.41V107.75H541.59V107.70H542.77V90.11H543.95V82.65H545.13V80.90H546.31V88.56H547.49V83.70H548.67V83.12H549.85V73.72H551.03V62.30H552.21V62.39H553.40V105.31H554.58V123.92H555.76V116.47H556.94V129.17H558.12V128.44H559.30V101.41H560.48V120.51H561.66V126.67H562.84V122.04H564.02V106.18H565.20V90.32H566.38V79.65H567.56V117.73H568.75V138.88H569.93V141.56H571.11V138.29H572.29V106.88H573.47V86.77H574.65V108.76H575.83V127.07H577.01V123.20H578.19V126.04H579.37V110.59H580.55V92.76H581.73V82.86H582.92V92.52H584.10V102.13H585.28V103.14H586.46V79.77H587.64V72.50H588.82V116.72H590.00V117.60H591.18V110.40H592.36V86.85H593.54V77.16H594.72V79.31H595.90V109.37H597.08V114.51H598.27V81.94H599.45V115.63H600.63V98.05H601.81V113.55H602.99V129.05H604.17V135.05H605.35V122.25H606.53V118.19H607.71V107.36H608.89V103.09H610.07V159.12H611.25V129.60H612.44V116.07H613.62V123.24H614.80V92.82H615.98V110.97H617.16V93.97H618.34V143.33H619.52V99.54H620.70V64.24H621.88V70.67H623.06V51.04H624.24V76.35H625.42V98.61H626.60V109.05H627.79V76.95H628.97V53.13H630.15V60.06H631.33V68.63H632.51V77.36H633.69V66.30H634.87V61.35H636.05V88.76H637.23V77.68H638.41V65.96H639.59V58.87H640.77V83.74H641.96V87.83H643.14V83.78H644.32V106.33H645.50V118.65H646.68V88.14H647.86V81.00H649.04V78.39H650.22V66.08H651.40V77.82H652.58V64.83H653.62V101.15Z"/></clipPath>
<path d="M71.70,29.5V169.5 M75.62,29.5V169.5 M79.54,29.5V169.5 M83.46,29.5V169.5 M87.38,29.5V169.5 M91.30,29.5V169.5 M95.22,29.5V169.5 M99.14,29.5V169.5 M103.06,29.5V169.5 M106.98,29.5V169.5 M110.90,29.5V169.5 M114.82,29.5V169.5 M118.74,29.5V169.5 M122.66,29.5V169.5 M126.58,29.5V169.5 M130.50,29.5V169.5 M134.42,29.5V169.5 M138.34,29.5V169.5 M142.26,29.5V169.5 M146.18,29.5V169.5 M150.10,29.5V169.5 M154.02,29.5V169.5 M157.94,29.5V169.5 M161.86,29.5V169.5 M165.78,29.5V169.5 M169.70,29.5V169.5 M173.62,29.5V169.5 M177.54,29.5V169.5 M181.46,29.5V169.5 M185.38,29.5V169.5 M189.30,29.5V169.5 M193.22,29.5V169.5 M197.14,29.5V169.5 M201.06,29.5V169.5 M204.98,29.5V169.5 M208.90,29.5V169.5 M212.82,29.5V169.5 M216.74,29.5V169.5 M220.66,29.5V169.5 M224.58,29.5V169.5 M228.50,29.5V169.5 M232.42,29.5V169.5 M236.34,29.5V169.5 M240.26,29.5V169.5 M244.18,29.5V169.5 M248.10,29.5V169.5 M252.02,29.5V169.5 M255.94,29.5V169.5 M259.86,29.5V169.5 M263.78,29.5V169.5 M267.70,29.5V169.5 M271.62,29.5V169.5 M275.54,29.5V169.5 M279.46,29.5V169.5 M283.38,29.5V169.5 M287.30,29.5V169.5 M291.22,29.5V169.5 M295.14,29.5V169.5 M299.06,29.5V169.5 M302.98,29.5V169.5 M306.90,29.5V169.5 M310.82,29.5V169.5 M314.74,29.5V169.5 M318.66,29.5V169.5 M322.58,29.5V169.5 M326.50,29.5V169.5 M330.42,29.5V169.5 M334.34,29.5V169.5 M338.26,29.5V169.5 M342.18,29.5V169.5 M346.10,29.5V169.5 M350.02,29.5V169.5 M353.94,29.5V169.5 M357.86,29.5V169.5 M361.78,29.5V169.5 M365.70,29.5V169.5 M369.62,29.5V169.5 M373.54,29.5V169.5 M377.46,29.5V169.5 M381.38,29.5V169.5 M385.30,29.5V169.5 M389.22,29.5V169.5 M393.14,29.5V169.5 M397.06,29.5V169.5 M400.98,29.5V169.5 M404.90,29.5V169.5 M408.82,29.5V169.5 M412.74,29.5V169.5 M416.66,29.5V169.5 M420.58,29.5V169.5 M424.50,29.5V169.5 M428.42,29.5V169.5 M432.34,29.5V169.5 M436.26,29.5V169.5 M440.18,29.5V169.5 M444.10,29.5V169.5 M448.02,29.5V169.5 M451.94,29.5V169.5 M455.86,29.5V169.5 M459.78,29.5V169.5 M463.70,29.5V169.5 M467.62,29.5V169.5 M471.54,29.5V169.5 M475.46,29.5V169.5 M479.38,29.5V169.5 M483.30,29.5V169.5 M487.22,29.5V169.5 M491.14,29.5V169.5 M495.06,29.5V169.5 M498.98,29.5V169.5 M502.90,29.5V169.5 M506.82,29.5V169.5 M510.74,29.5V169.5 M514.66,29.5V169.5 M518.58,29.5V169.5 M522.50,29.5V169.5 M526.42,29.5V169.5 M530.34,29.5V169.5 M534.26,29.5V169.5 M538.18,29.5V169.5 M542.10,29.5V169.5 M546.02,29.5V169.5 M549.94,29.5V169.5 M553.86,29.5V169.5 M557.78,29.5V169.5 M561.70,29.5V169.5 M565.62,29.5V169.5 M569.54,29.5V169.5 M573.46,29.5V169.5 M577.38,29.5V169.5 M581.30,29.5V169.5 M585.22,29.5V169.5 M589.14,29.5V169.5 M593.06,29.5V169.5 M596.98,29.5V169.5 M600.90,29.5V169.5 M604.82,29.5V169.5 M608.74,29.5V169.5 M612.66,29.5V169.5 M616.58,29.5V169.5 M620.50,29.5V169.5 M624.42,29.5V169.5 M628.34,29.5V169.5 M632.26,29.5V169.5 M636.18,29.5V169.5 M640.10,29.5V169.5 M644.02,29.5V169.5 M647.94,29.5V169.5 M651.86,29.5V169.5 M655.78,29.5V169.5 M659.70,29.5V169.5" stroke="#fff" stroke-opacity="0.12" stroke-width="1.9" fill="none" clip-path="url(#cf0)"/>
<path d="M144.97,29.5V169.5 M148.92,29.5V169.5 M154.38,29.5V169.5 M158.09,29.5V169.5 M163.20,29.5V169.5 M166.17,29.5V169.5 M172.96,29.5V169.5 M177.63,29.5V169.5 M184.08,29.5V169.5 M188.89,29.5V169.5 M193.80,29.5V169.5 M200.21,29.5V169.5 M208.43,29.5V169.5 M213.49,29.5V169.5 M218.99,29.5V169.5 M224.84,29.5V169.5 M232.15,29.5V169.5 M238.74,29.5V169.5 M247.64,29.5V169.5 M252.83,29.5V169.5 M261.26,29.5V169.5 M296.43,29.5V169.5 M300.11,29.5V169.5 M304.07,29.5V169.5 M412.54,29.5V169.5 M416.79,29.5V169.5 M421.14,29.5V169.5 M441.64,29.5V169.5 M446.89,29.5V169.5 M452.13,29.5V169.5 M457.96,29.5V169.5 M461.28,29.5V169.5 M467.85,29.5V169.5 M475.78,29.5V169.5 M483.05,29.5V169.5 M489.55,29.5V169.5 M498.52,29.5V169.5 M507.01,29.5V169.5 M513.23,29.5V169.5 M521.11,29.5V169.5 M528.73,29.5V169.5 M534.19,29.5V169.5 M543.20,29.5V169.5 M557.07,29.5V169.5" stroke="#fff" stroke-opacity="0.55" stroke-width="0.7" fill="none" clip-path="url(#cf0)"/>
<g clip-path="url(#cf0)">
<line x1="59.15" y1="29.5" x2="59.15" y2="169.5" stroke="#dcdcf0" stroke-width="0.9" stroke-opacity="0.55"/>
<line x1="130.00" y1="29.5" x2="130.00" y2="169.5" stroke="#dcdcf0" stroke-width="0.9" stroke-opacity="0.55"/>
<line x1="200.85" y1="29.5" x2="200.85" y2="169.5" stroke="#dcdcf0" stroke-width="0.9" stroke-opacity="0.55"/>
<line x1="271.70" y1="29.5" x2="271.70" y2="169.5" stroke="#dcdcf0" stroke-width="0.9" stroke-opacity="0.55"/>
<line x1="342.55" y1="29.5" x2="342.55" y2="169.5" stroke="#dcdcf0" stroke-width="0.9" stroke-opacity="0.55"/>
<line x1="413.40" y1="29.5" x2="413.40" y2="169.5" stroke="#dcdcf0" stroke-width="0.9" stroke-opacity="0.55"/>
<line x1="484.25" y1="29.5" x2="484.25" y2="169.5" stroke="#dcdcf0" stroke-width="0.9" stroke-opacity="0.55"/>
<line x1="555.10" y1="29.5" x2="555.10" y2="169.5" stroke="#dcdcf0" stroke-width="0.9" stroke-opacity="0.55"/>
<line x1="625.95" y1="29.5" x2="625.95" y2="169.5" stroke="#dcdcf0" stroke-width="0.9" stroke-opacity="0.55"/>
<line x1="43.5" y1="49.59" x2="682.5" y2="49.59" stroke="#dcdcf0" stroke-width="0.9" stroke-opacity="0.55"/>
<line x1="43.5" y1="152.71" x2="682.5" y2="152.71" stroke="#dcdcf0" stroke-width="0.9" stroke-opacity="0.55"/>
</g>
<line x1="43.5" y1="101.15" x2="682.5" y2="101.15" stroke="#000" stroke-width="1"/>
<path d="M72.88,111.75 L75.33,43.80 L77.88,118.39 L79.93,76.49 L81.15,78.85 L82.38,74.45 L83.71,114.82 L85.65,111.04 L87.08,47.58 L88.31,70.87 L89.43,76.19 L90.66,108.69 L91.78,100.51 L93.11,111.24 L96.28,83.14 L97.81,105.31 L98.83,74.45 L100.16,85.69 L101.39,81.91 L103.43,93.87 L105.88,57.79 L107.01,115.84 L109.56,57.08 L110.79,75.47 L112.93,71.39 L114.16,57.39 L118.96,133.21 L120.29,75.98 L121.31,89.78 L123.87,76.49 L127.24,107.66 L130.00,90.29 L130.82,126.06 L134.09,80.07 L136.34,91.31 L137.97,77.21 L139.40,79.05 L140.22,117.37 L142.57,94.58 L143.59,115.84 L145.84,127.39 L147.37,52.48 L148.60,91.31 L149.62,64.23 L150.95,107.36 L153.20,71.90 L154.32,109.40 L155.44,103.07 L157.79,115.84 L159.94,45.12 L161.37,60.66 L162.70,39.20 L164.23,46.35 L165.56,90.29 L166.58,91.31 L169.34,113.80 L170.36,91.31 L171.90,121.25 L173.43,71.08 L174.66,72.92 L175.78,78.03 L176.80,75.47 L179.05,108.38 L181.60,46.86 L183.95,113.08 L187.53,68.32 L190.29,78.03 L191.01,138.83 L193.36,51.97 L196.42,77.01 L198.16,114.82 L199.49,70.87 L201.74,51.97 L203.37,83.14 L204.29,75.47 L205.11,135.25 L206.34,92.33 L207.36,95.91 L208.69,91.11 L210.22,93.87 L212.06,120.44 L213.28,86.20 L216.04,54.52 L218.60,132.70 L219.42,129.84 L220.44,138.01 L221.66,92.33 L223.50,110.22 L225.34,134.74 L229.94,68.63 L232.70,125.04 L234.74,80.28 L236.28,97.44 L237.40,98.26 L238.32,125.04 L239.65,115.33 L241.69,118.19 L242.92,64.23 L246.49,111.24 L248.85,73.43 L250.07,88.25 L251.30,77.21 L252.42,104.60 L253.65,79.56 L255.49,100.00 L257.02,79.25 L259.57,128.61 L263.05,81.60 L264.58,91.82 L265.71,89.27 L266.63,117.37 L267.95,92.33 L270.31,138.32 L272.55,97.44 L274.90,90.29 L275.93,115.33 L278.38,73.94 L280.22,108.17 L282.06,129.63 L284.31,65.77 L286.55,113.49 L287.88,64.23 L289.93,94.38 L291.46,54.01 L294.01,74.96 L295.04,75.47 L296.26,122.99 L299.84,60.66 L300.96,124.32 L301.68,93.36 L303.21,71.39 L304.54,97.44 L305.56,64.54 L307.30,112.77 L309.04,125.55 L310.57,60.15 L312.10,78.03 L313.94,71.39 L315.17,73.43 L316.19,131.17 L317.52,118.39 L318.85,119.42 L320.79,67.60 L322.32,100.00 L323.14,104.09 L324.67,45.53 L326.71,107.15 L328.25,70.36 L330.29,95.40 L331.52,135.25 L333.87,86.20 L335.40,95.40 L337.24,121.97 L338.67,57.08 L340.00,126.57 L341.23,111.24 L344.09,135.77 L345.62,149.56 L347.66,129.63 L349.71,125.55 L350.73,124.01 L351.55,135.77 L352.77,90.29 L354.00,139.85 L355.12,124.01 L356.35,126.77 L357.58,132.90 L358.50,120.44 L359.42,132.90 L360.64,103.07 L361.97,113.80 L364.22,139.65 L367.08,116.35 L368.20,111.75 L369.43,144.45 L370.66,116.86 L371.78,120.95 L372.90,74.96 L374.23,142.92 L375.77,120.44 L376.58,119.42 L378.01,141.90 L379.44,140.87 L380.87,136.28 L381.69,135.77 L382.61,154.16 L384.76,86.20 L385.98,130.15 L387.21,102.55 L389.56,149.05 L390.68,147.82 L393.14,129.63 L395.49,151.09 L396.71,156.20 L397.94,35.11 L399.17,114.31 L400.09,111.75 L401.31,113.80 L402.33,108.69 L403.87,155.69 L405.40,134.74 L406.42,135.77 L407.14,144.96 L408.26,135.77 L410.00,133.72 L413.07,64.74 L415.31,117.88 L417.66,91.31 L418.99,157.22 L420.22,128.61 L421.44,153.14 L423.80,128.61 L425.84,153.14 L429.62,69.34 L431.15,75.98 L433.30,105.11 L434.32,60.45 L435.55,125.55 L438.92,84.67 L440.66,92.33 L441.68,91.82 L443.72,85.69 L445.05,93.87 L446.28,93.36 L447.30,109.20 L449.85,81.91 L450.87,82.12 L451.90,111.04 L453.43,104.09 L454.45,98.47 L455.47,112.26 L457.01,96.22 L458.85,111.24 L460.28,125.04 L465.18,73.43 L466.20,87.22 L467.53,69.65 L468.55,135.77 L470.09,92.33 L472.13,156.71 L474.89,120.44 L476.93,89.06 L478.67,114.82 L480.51,81.60 L483.88,115.33 L486.13,96.42 L487.66,110.22 L489.71,85.69 L491.04,109.20 L493.28,113.80 L494.31,106.13 L495.84,122.99 L496.86,78.54 L498.39,120.44 L500.44,82.63 L501.66,112.26 L502.99,80.07 L505.04,132.70 L506.36,118.39 L508.82,139.85 L509.94,77.01 L512.19,129.63 L514.74,141.90 L515.77,92.33 L518.32,135.25 L520.67,38.38 L522.92,131.17 L524.14,98.47 L527.82,144.96 L529.87,59.12 L531.60,83.14 L533.65,54.32 L535.18,121.25 L537.43,81.91 L538.76,87.22 L541.82,115.33 L542.84,93.36 L545.40,77.21 L546.63,91.31 L547.65,81.09 L548.67,87.22 L550.00,78.03 L552.55,53.30 L554.60,127.59 L556.34,116.35 L558.38,138.32 L559.71,98.47 L561.44,126.57 L563.08,126.77 L566.86,75.98 L568.90,141.90 L569.93,134.74 L571.25,150.07 L573.81,82.12 L576.26,127.79 L577.39,122.69 L578.92,126.36 L581.98,80.07 L584.23,98.47 L585.56,109.20 L588.01,60.66 L589.04,116.86 L590.36,116.35 L591.39,121.97 L592.41,91.31 L594.96,70.36 L597.21,127.59 L598.85,81.60 L599.97,116.86 L601.09,96.42 L604.36,139.34 L606.20,119.42 L607.74,117.37 L609.27,90.29 L610.49,163.36 L612.54,112.26 L614.17,125.04 L615.00,80.07 L616.23,120.44 L617.55,83.65 L618.78,148.85 L621.13,61.68 L622.15,78.03 L623.48,47.37 L625.63,93.36 L627.06,112.77 L629.31,51.66 L630.84,60.66 L633.19,78.03 L635.23,56.06 L636.66,89.27 L638.30,72.92 L640.04,55.75 L641.77,92.33 L643.61,81.60 L645.86,124.52 L647.70,77.01 L649.23,85.18 L650.56,62.50 L651.79,80.07 L653.32,63.21" fill="none" stroke="#000" stroke-width="1.5" stroke-linejoin="round" stroke-linecap="butt"/>
<rect x="43.5" y="29.5" width="639.00" height="140.00" fill="none" stroke="#1a1a1a" stroke-width="1"/>
<line x1="59.15" y1="169.5" x2="59.15" y2="173.6" stroke="#000" stroke-width="0.9"/>
<line x1="130.00" y1="169.5" x2="130.00" y2="173.6" stroke="#000" stroke-width="0.9"/>
<line x1="200.85" y1="169.5" x2="200.85" y2="173.6" stroke="#000" stroke-width="0.9"/>
<line x1="271.70" y1="169.5" x2="271.70" y2="173.6" stroke="#000" stroke-width="0.9"/>
<line x1="342.55" y1="169.5" x2="342.55" y2="173.6" stroke="#000" stroke-width="0.9"/>
<line x1="413.40" y1="169.5" x2="413.40" y2="173.6" stroke="#000" stroke-width="0.9"/>
<line x1="484.25" y1="169.5" x2="484.25" y2="173.6" stroke="#000" stroke-width="0.9"/>
<line x1="555.10" y1="169.5" x2="555.10" y2="173.6" stroke="#000" stroke-width="0.9"/>
<line x1="625.95" y1="169.5" x2="625.95" y2="173.6" stroke="#000" stroke-width="0.9"/>
<line x1="39.4" y1="49.59" x2="43.5" y2="49.59" stroke="#000" stroke-width="0.9"/>
<text x="34.5" y="53.99" font-size="12.3" text-anchor="end" textLength="7.0" lengthAdjust="spacingAndGlyphs">2</text>
<line x1="39.4" y1="101.15" x2="43.5" y2="101.15" stroke="#000" stroke-width="0.9"/>
<text x="34.5" y="105.55" font-size="12.3" text-anchor="end" textLength="7.0" lengthAdjust="spacingAndGlyphs">0</text>
<line x1="39.4" y1="152.71" x2="43.5" y2="152.71" stroke="#000" stroke-width="0.9"/>
<text x="34.5" y="157.11" font-size="12.3" text-anchor="end" textLength="16.6" lengthAdjust="spacingAndGlyphs">−2</text>
<text transform="translate(9.8,100.70) rotate(-90)" font-size="11.9" text-anchor="middle" textLength="37.2" lengthAdjust="spacingAndGlyphs">SPEI-1</text>
<line x1="59.15" y1="187.35" x2="59.15" y2="327.5" stroke="#b4b4b4" stroke-width="0.9"/>
<line x1="130.00" y1="187.35" x2="130.00" y2="327.5" stroke="#b4b4b4" stroke-width="0.9"/>
<line x1="200.85" y1="187.35" x2="200.85" y2="327.5" stroke="#b4b4b4" stroke-width="0.9"/>
<line x1="271.70" y1="187.35" x2="271.70" y2="327.5" stroke="#b4b4b4" stroke-width="0.9"/>
<line x1="342.55" y1="187.35" x2="342.55" y2="327.5" stroke="#b4b4b4" stroke-width="0.9"/>
<line x1="413.40" y1="187.35" x2="413.40" y2="327.5" stroke="#b4b4b4" stroke-width="0.9"/>
<line x1="484.25" y1="187.35" x2="484.25" y2="327.5" stroke="#b4b4b4" stroke-width="0.9"/>
<line x1="555.10" y1="187.35" x2="555.10" y2="327.5" stroke="#b4b4b4" stroke-width="0.9"/>
<line x1="625.95" y1="187.35" x2="625.95" y2="327.5" stroke="#b4b4b4" stroke-width="0.9"/>
<line x1="43.5" y1="209.55" x2="682.5" y2="209.55" stroke="#b4b4b4" stroke-width="0.9"/>
<line x1="43.5" y1="263.35" x2="682.5" y2="263.35" stroke="#b4b4b4" stroke-width="0.9"/>
<line x1="43.5" y1="317.15" x2="682.5" y2="317.15" stroke="#b4b4b4" stroke-width="0.9"/>
<path d="M74.87,263.35V222.66H75.17V217.64H76.35V217.97H77.53V237.90H78.71V257.83H79.89V260.28H81.08V243.23H82.26V241.93H83.44V257.51H84.62V273.10H85.80V266.72H86.98V233.87H88.16V219.08H89.34V223.74H90.52V242.26H91.70V260.79H92.88V270.28H94.06V270.07H95.24V262.83H96.43V256.29H97.61V252.06H98.79V249.87H99.97V241.85H101.15V240.06H102.33V247.69H103.51V246.58H104.69V234.66H105.87V230.48H107.05V237.68H108.23V244.81H109.41V242.61H110.60V225.01H111.78V223.93H112.96V225.85H114.14V222.16H115.32V229.50H116.50V250.68H117.68V271.87H118.86V278.01H120.04V262.90H121.22V247.78H122.40V239.72H123.58V242.19H124.76V243.92H125.95V253.82H127.13V263.72H128.31V271.97H129.49V273.73H130.67V281.08H131.85V277.67H133.03V263.89H134.21V250.10H135.39V241.02H136.57V242.58H137.75V242.11H138.93V245.07H140.12V256.98H141.30V268.89H142.48V277.74H143.66V277.32H144.84V282.58H146.02V270.63H147.20V242.61H148.38V229.73H149.56V230.43H150.74V241.11H151.92V241.87H153.10V246.54H154.28V248.90H155.47V259.99H156.65V272.46H157.83V256.71H159.01V215.67H160.19V207.69H161.37V204.93H162.55V202.44H163.73V198.44H164.91V202.20H166.09V228.13H167.27V257.74H168.45V264.98H169.64V272.12H170.82V278.62H172.00V270.96H173.18V243.07H174.36V236.38H175.54V233.84H176.72V235.79H177.90V246.13H179.08V251.29H180.26V238.79H181.44V218.39H182.62V217.13H183.80V235.18H184.99V251.92H186.17V246.75H187.35V230.46H188.53V228.40H189.71V237.80H190.89V261.74H192.07V247.66H193.25V228.53H194.43V217.49H195.61V220.07H196.79V233.81H197.97V243.94H199.16V243.24H200.34V228.05H201.52V214.86H202.70V220.28H203.88V225.99H205.06V247.39H206.24V268.80H207.42V270.61H208.60V256.64H209.78V258.11H210.96V263.54H212.14V268.97H213.32V271.17H214.51V250.28H215.69V223.97H216.87V229.94H218.05V259.85H219.23V289.77H220.41V299.32H221.59V286.50H222.77V273.68H223.95V271.93H225.13V283.85H226.31V295.76H227.49V281.87H228.68V250.18H229.86V234.50H231.04V247.49H232.22V271.88H233.40V282.31H234.58V271.75H235.76V261.19H236.94V259.77H238.12V273.88H239.30V283.99H240.48V285.40H241.66V266.58H242.84V247.76H244.03V238.96H245.21V245.31H246.39V257.43H247.57V260.41H248.75V247.83H249.93V238.30H251.11V238.43H252.29V248.84H253.47V249.97H254.65V250.45H255.83V248.62H257.01V252.92H258.20V257.47H259.38V268.55H260.56V269.04H261.74V257.39H262.92V251.76H264.10V250.81H265.28V253.85H266.46V262.89H267.64V271.93H268.82V277.00H270.00V293.45H271.18V305.38H272.36V287.67H273.55V269.96H274.73V260.92H275.91V265.69H277.09V258.59H278.27V255.52H279.45V256.79H280.63V269.13H281.81V281.48H282.99V284.07H284.17V273.51H285.35V262.94H286.53V252.38H287.72V241.81H288.90V234.22H290.08V229.69H291.26V225.17H292.44V217.73H293.62V220.05H294.80V236.01H295.98V251.98H297.16V267.95H298.34V262.01H299.52V238.54H300.70V247.53H301.88V252.47H303.07V244.78H304.25V237.08H305.43V238.99H306.61V256.13H307.79V273.27H308.97V277.00H310.15V256.65H311.33V236.31H312.51V224.92H313.69V230.09H314.87V236.36H316.05V258.29H317.24V280.23H318.42V286.48H319.60V268.84H320.78V251.19H321.96V243.93H323.14V242.45H324.32V228.96H325.50V215.46H326.68V211.70H327.86V221.81H329.04V246.21H330.22V250.53H331.40V276.24H332.59V283.11H333.77V273.94H334.95V264.77H336.13V262.22H337.31V265.51H338.49V252.68H339.67V246.68H340.85V257.71H342.03V294.81H343.21V296.78H344.39V307.46H345.57V318.00H346.76V315.72H347.94V306.74H349.12V297.77H350.30V296.98H351.48V292.05H352.66V287.87H353.84V284.40H355.02V283.82H356.20V307.43H357.38V292.02H358.56V291.59H359.74V287.28H360.92V282.18H362.11V284.84H363.29V292.31H364.47V300.46H365.65V302.75H366.83V297.50H368.01V293.66H369.19V292.66H370.37V297.82H371.55V293.14H372.73V274.55H373.91V289.73H375.09V294.24H376.28V303.12H377.46V304.17H378.64V305.54H379.82V306.99H381.00V307.78H382.18V312.59H383.36V315.04H384.54V300.46H385.72V285.87H386.90V278.56H388.08V294.37H389.26V310.19H390.44V318.10H391.63V316.25H392.81V308.88H393.99V310.41H395.17V315.80H396.35V310.97H397.53V288.32H398.71V265.66H399.89V252.79H401.07V279.81H402.25V285.22H403.43V301.95H404.61V312.48H405.80V314.01H406.98V306.81H408.16V305.52H409.34V306.88H410.52V291.97H411.70V276.04H412.88V260.11H414.06V260.17H415.24V268.83H416.42V272.06H417.60V268.07H418.78V283.98H419.96V299.88H421.15V311.13H422.33V308.59H423.51V309.38H424.69V311.41H425.87V312.05H427.05V300.78H428.23V264.59H429.41V235.33H430.59V230.71H431.77V235.96H432.95V246.20H434.13V247.14H435.32V257.64H436.50V259.56H437.68V260.86H438.86V250.80H440.04V249.09H441.22V252.26H442.40V255.67H443.58V253.99H444.76V253.72H445.94V255.91H447.12V258.45H448.30V255.61H449.48V251.83H450.67V246.50H451.85V255.55H453.03V263.34H454.21V271.14H455.39V269.85H456.57V272.30H457.75V274.90H458.93V280.98H460.11V285.73H461.29V281.27H462.47V274.07H463.65V256.58H464.84V245.23H466.02V238.99H467.20V235.94H468.38V244.45H469.56V247.40H470.74V270.43H471.92V296.26H473.10V317.54H474.28V302.36H475.46V287.18H476.64V278.65H477.82V273.67H479.00V269.54H480.19V262.44H481.37V253.80H482.55V250.57H483.73V265.07H484.91V272.82H486.09V268.36H487.27V267.37H488.45V264.68H489.63V261.37H490.81V264.54H491.99V272.57H493.17V277.69H494.36V278.57H495.54V274.87H496.72V274.80H497.90V278.40H499.08V264.44H500.26V255.77H501.44V253.71H502.62V252.05H503.80V267.26H504.98V282.46H506.16V293.51H507.34V296.08H508.52V295.35H509.71V290.15H510.89V278.45H512.07V277.71H513.25V297.99H514.43V303.05H515.61V285.87H516.79V276.14H517.97V273.78H519.15V263.14H520.33V236.35H521.51V218.41H522.69V241.92H523.88V265.44H525.06V285.42H526.24V289.20H527.42V304.16H528.60V278.09H529.78V251.33H530.96V233.55H532.14V230.01H533.32V230.09H534.50V242.79H535.68V257.95H536.86V269.29H538.04V254.25H539.23V245.92H540.41V263.78H541.59V277.76H542.77V265.05H543.95V252.35H545.13V244.05H546.31V244.76H547.49V244.75H548.67V248.94H549.85V243.56H551.03V231.18H552.21V222.46H553.40V227.34H554.58V256.46H555.76V287.56H556.94V290.87H558.12V296.77H559.30V287.17H560.48V284.74H561.66V290.48H562.84V292.50H564.02V286.98H565.20V276.95H566.38V263.27H567.56V255.15H568.75V276.41H569.93V297.66H571.11V310.76H572.29V291.62H573.47V272.47H574.65V264.69H575.83V278.36H577.01V287.04H578.19V292.73H579.37V292.44H580.55V285.55H581.73V272.91H582.92V255.53H584.10V262.42H585.28V269.56H586.46V255.89H587.64V243.84H588.82V247.95H590.00V257.93H591.18V285.85H592.36V276.14H593.54V259.42H594.72V244.26H595.90V246.52H597.08V255.80H598.27V265.08H599.45V269.36H600.63V262.65H601.81V267.47H602.99V277.51H604.17V287.45H605.35V295.11H606.53V293.93H607.71V284.96H608.89V275.98H610.07V290.63H611.25V306.95H612.44V303.88H613.62V287.05H614.80V272.34H615.98V271.81H617.16V265.23H618.34V290.46H619.52V270.22H620.70V249.98H621.88V229.74H623.06V213.64H624.24V217.53H625.42V222.75H626.60V267.62H627.79V253.33H628.97V235.47H630.15V217.61H631.33V210.24H632.51V216.36H633.69V220.10H634.87V220.84H636.05V224.66H637.23V228.34H638.41V237.86H639.59V215.58H640.77V228.43H641.96V239.41H643.14V244.74H644.32V247.38H645.50V254.86H646.68V266.16H647.86V252.21H649.04V238.25H650.22V227.88H651.40V227.63H652.58V221.63H653.42V263.35Z" fill="url(#gb1)" clip-path="url(#ca1)"/>
<path d="M74.87,263.35V222.66H75.17V217.64H76.35V217.97H77.53V237.90H78.71V257.83H79.89V260.28H81.08V243.23H82.26V241.93H83.44V257.51H84.62V273.10H85.80V266.72H86.98V233.87H88.16V219.08H89.34V223.74H90.52V242.26H91.70V260.79H92.88V270.28H94.06V270.07H95.24V262.83H96.43V256.29H97.61V252.06H98.79V249.87H99.97V241.85H101.15V240.06H102.33V247.69H103.51V246.58H104.69V234.66H105.87V230.48H107.05V237.68H108.23V244.81H109.41V242.61H110.60V225.01H111.78V223.93H112.96V225.85H114.14V222.16H115.32V229.50H116.50V250.68H117.68V271.87H118.86V278.01H120.04V262.90H121.22V247.78H122.40V239.72H123.58V242.19H124.76V243.92H125.95V253.82H127.13V263.72H128.31V271.97H129.49V273.73H130.67V281.08H131.85V277.67H133.03V263.89H134.21V250.10H135.39V241.02H136.57V242.58H137.75V242.11H138.93V245.07H140.12V256.98H141.30V268.89H142.48V277.74H143.66V277.32H144.84V282.58H146.02V270.63H147.20V242.61H148.38V229.73H149.56V230.43H150.74V241.11H151.92V241.87H153.10V246.54H154.28V248.90H155.47V259.99H156.65V272.46H157.83V256.71H159.01V215.67H160.19V207.69H161.37V204.93H162.55V202.44H163.73V198.44H164.91V202.20H166.09V228.13H167.27V257.74H168.45V264.98H169.64V272.12H170.82V278.62H172.00V270.96H173.18V243.07H174.36V236.38H175.54V233.84H176.72V235.79H177.90V246.13H179.08V251.29H180.26V238.79H181.44V218.39H182.62V217.13H183.80V235.18H184.99V251.92H186.17V246.75H187.35V230.46H188.53V228.40H189.71V237.80H190.89V261.74H192.07V247.66H193.25V228.53H194.43V217.49H195.61V220.07H196.79V233.81H197.97V243.94H199.16V243.24H200.34V228.05H201.52V214.86H202.70V220.28H203.88V225.99H205.06V247.39H206.24V268.80H207.42V270.61H208.60V256.64H209.78V258.11H210.96V263.54H212.14V268.97H213.32V271.17H214.51V250.28H215.69V223.97H216.87V229.94H218.05V259.85H219.23V289.77H220.41V299.32H221.59V286.50H222.77V273.68H223.95V271.93H225.13V283.85H226.31V295.76H227.49V281.87H228.68V250.18H229.86V234.50H231.04V247.49H232.22V271.88H233.40V282.31H234.58V271.75H235.76V261.19H236.94V259.77H238.12V273.88H239.30V283.99H240.48V285.40H241.66V266.58H242.84V247.76H244.03V238.96H245.21V245.31H246.39V257.43H247.57V260.41H248.75V247.83H249.93V238.30H251.11V238.43H252.29V248.84H253.47V249.97H254.65V250.45H255.83V248.62H257.01V252.92H258.20V257.47H259.38V268.55H260.56V269.04H261.74V257.39H262.92V251.76H264.10V250.81H265.28V253.85H266.46V262.89H267.64V271.93H268.82V277.00H270.00V293.45H271.18V305.38H272.36V287.67H273.55V269.96H274.73V260.92H275.91V265.69H277.09V258.59H278.27V255.52H279.45V256.79H280.63V269.13H281.81V281.48H282.99V284.07H284.17V273.51H285.35V262.94H286.53V252.38H287.72V241.81H288.90V234.22H290.08V229.69H291.26V225.17H292.44V217.73H293.62V220.05H294.80V236.01H295.98V251.98H297.16V267.95H298.34V262.01H299.52V238.54H300.70V247.53H301.88V252.47H303.07V244.78H304.25V237.08H305.43V238.99H306.61V256.13H307.79V273.27H308.97V277.00H310.15V256.65H311.33V236.31H312.51V224.92H313.69V230.09H314.87V236.36H316.05V258.29H317.24V280.23H318.42V286.48H319.60V268.84H320.78V251.19H321.96V243.93H323.14V242.45H324.32V228.96H325.50V215.46H326.68V211.70H327.86V221.81H329.04V246.21H330.22V250.53H331.40V276.24H332.59V283.11H333.77V273.94H334.95V264.77H336.13V262.22H337.31V265.51H338.49V252.68H339.67V246.68H340.85V257.71H342.03V294.81H343.21V296.78H344.39V307.46H345.57V318.00H346.76V315.72H347.94V306.74H349.12V297.77H350.30V296.98H351.48V292.05H352.66V287.87H353.84V284.40H355.02V283.82H356.20V307.43H357.38V292.02H358.56V291.59H359.74V287.28H360.92V282.18H362.11V284.84H363.29V292.31H364.47V300.46H365.65V302.75H366.83V297.50H368.01V293.66H369.19V292.66H370.37V297.82H371.55V293.14H372.73V274.55H373.91V289.73H375.09V294.24H376.28V303.12H377.46V304.17H378.64V305.54H379.82V306.99H381.00V307.78H382.18V312.59H383.36V315.04H384.54V300.46H385.72V285.87H386.90V278.56H388.08V294.37H389.26V310.19H390.44V318.10H391.63V316.25H392.81V308.88H393.99V310.41H395.17V315.80H396.35V310.97H397.53V288.32H398.71V265.66H399.89V252.79H401.07V279.81H402.25V285.22H403.43V301.95H404.61V312.48H405.80V314.01H406.98V306.81H408.16V305.52H409.34V306.88H410.52V291.97H411.70V276.04H412.88V260.11H414.06V260.17H415.24V268.83H416.42V272.06H417.60V268.07H418.78V283.98H419.96V299.88H421.15V311.13H422.33V308.59H423.51V309.38H424.69V311.41H425.87V312.05H427.05V300.78H428.23V264.59H429.41V235.33H430.59V230.71H431.77V235.96H432.95V246.20H434.13V247.14H435.32V257.64H436.50V259.56H437.68V260.86H438.86V250.80H440.04V249.09H441.22V252.26H442.40V255.67H443.58V253.99H444.76V253.72H445.94V255.91H447.12V258.45H448.30V255.61H449.48V251.83H450.67V246.50H451.85V255.55H453.03V263.34H454.21V271.14H455.39V269.85H456.57V272.30H457.75V274.90H458.93V280.98H460.11V285.73H461.29V281.27H462.47V274.07H463.65V256.58H464.84V245.23H466.02V238.99H467.20V235.94H468.38V244.45H469.56V247.40H470.74V270.43H471.92V296.26H473.10V317.54H474.28V302.36H475.46V287.18H476.64V278.65H477.82V273.67H479.00V269.54H480.19V262.44H481.37V253.80H482.55V250.57H483.73V265.07H484.91V272.82H486.09V268.36H487.27V267.37H488.45V264.68H489.63V261.37H490.81V264.54H491.99V272.57H493.17V277.69H494.36V278.57H495.54V274.87H496.72V274.80H497.90V278.40H499.08V264.44H500.26V255.77H501.44V253.71H502.62V252.05H503.80V267.26H504.98V282.46H506.16V293.51H507.34V296.08H508.52V295.35H509.71V290.15H510.89V278.45H512.07V277.71H513.25V297.99H514.43V303.05H515.61V285.87H516.79V276.14H517.97V273.78H519.15V263.14H520.33V236.35H521.51V218.41H522.69V241.92H523.88V265.44H525.06V285.42H526.24V289.20H527.42V304.16H528.60V278.09H529.78V251.33H530.96V233.55H532.14V230.01H533.32V230.09H534.50V242.79H535.68V257.95H536.86V269.29H538.04V254.25H539.23V245.92H540.41V263.78H541.59V277.76H542.77V265.05H543.95V252.35H545.13V244.05H546.31V244.76H547.49V244.75H548.67V248.94H549.85V243.56H551.03V231.18H552.21V222.46H553.40V227.34H554.58V256.46H555.76V287.56H556.94V290.87H558.12V296.77H559.30V287.17H560.48V284.74H561.66V290.48H562.84V292.50H564.02V286.98H565.20V276.95H566.38V263.27H567.56V255.15H568.75V276.41H569.93V297.66H571.11V310.76H572.29V291.62H573.47V272.47H574.65V264.69H575.83V278.36H577.01V287.04H578.19V292.73H579.37V292.44H580.55V285.55H581.73V272.91H582.92V255.53H584.10V262.42H585.28V269.56H586.46V255.89H587.64V243.84H588.82V247.95H590.00V257.93H591.18V285.85H592.36V276.14H593.54V259.42H594.72V244.26H595.90V246.52H597.08V255.80H598.27V265.08H599.45V269.36H600.63V262.65H601.81V267.47H602.99V277.51H604.17V287.45H605.35V295.11H606.53V293.93H607.71V284.96H608.89V275.98H610.07V290.63H611.25V306.95H612.44V303.88H613.62V287.05H614.80V272.34H615.98V271.81H617.16V265.23H618.34V290.46H619.52V270.22H620.70V249.98H621.88V229.74H623.06V213.64H624.24V217.53H625.42V222.75H626.60V267.62H627.79V253.33H628.97V235.47H630.15V217.61H631.33V210.24H632.51V216.36H633.69V220.10H634.87V220.84H636.05V224.66H637.23V228.34H638.41V237.86H639.59V215.58H640.77V228.43H641.96V239.41H643.14V244.74H644.32V247.38H645.50V254.86H646.68V266.16H647.86V252.21H649.04V238.25H650.22V227.88H651.40V227.63H652.58V221.63H653.42V263.35Z" fill="url(#gr1)" clip-path="url(#cb1)"/>
<clipPath id="cf1"><path d="M74.87,263.35V222.66H75.17V217.64H76.35V217.97H77.53V237.90H78.71V257.83H79.89V260.28H81.08V243.23H82.26V241.93H83.44V257.51H84.62V273.10H85.80V266.72H86.98V233.87H88.16V219.08H89.34V223.74H90.52V242.26H91.70V260.79H92.88V270.28H94.06V270.07H95.24V262.83H96.43V256.29H97.61V252.06H98.79V249.87H99.97V241.85H101.15V240.06H102.33V247.69H103.51V246.58H104.69V234.66H105.87V230.48H107.05V237.68H108.23V244.81H109.41V242.61H110.60V225.01H111.78V223.93H112.96V225.85H114.14V222.16H115.32V229.50H116.50V250.68H117.68V271.87H118.86V278.01H120.04V262.90H121.22V247.78H122.40V239.72H123.58V242.19H124.76V243.92H125.95V253.82H127.13V263.72H128.31V271.97H129.49V273.73H130.67V281.08H131.85V277.67H133.03V263.89H134.21V250.10H135.39V241.02H136.57V242.58H137.75V242.11H138.93V245.07H140.12V256.98H141.30V268.89H142.48V277.74H143.66V277.32H144.84V282.58H146.02V270.63H147.20V242.61H148.38V229.73H149.56V230.43H150.74V241.11H151.92V241.87H153.10V246.54H154.28V248.90H155.47V259.99H156.65V272.46H157.83V256.71H159.01V215.67H160.19V207.69H161.37V204.93H162.55V202.44H163.73V198.44H164.91V202.20H166.09V228.13H167.27V257.74H168.45V264.98H169.64V272.12H170.82V278.62H172.00V270.96H173.18V243.07H174.36V236.38H175.54V233.84H176.72V235.79H177.90V246.13H179.08V251.29H180.26V238.79H181.44V218.39H182.62V217.13H183.80V235.18H184.99V251.92H186.17V246.75H187.35V230.46H188.53V228.40H189.71V237.80H190.89V261.74H192.07V247.66H193.25V228.53H194.43V217.49H195.61V220.07H196.79V233.81H197.97V243.94H199.16V243.24H200.34V228.05H201.52V214.86H202.70V220.28H203.88V225.99H205.06V247.39H206.24V268.80H207.42V270.61H208.60V256.64H209.78V258.11H210.96V263.54H212.14V268.97H213.32V271.17H214.51V250.28H215.69V223.97H216.87V229.94H218.05V259.85H219.23V289.77H220.41V299.32H221.59V286.50H222.77V273.68H223.95V271.93H225.13V283.85H226.31V295.76H227.49V281.87H228.68V250.18H229.86V234.50H231.04V247.49H232.22V271.88H233.40V282.31H234.58V271.75H235.76V261.19H236.94V259.77H238.12V273.88H239.30V283.99H240.48V285.40H241.66V266.58H242.84V247.76H244.03V238.96H245.21V245.31H246.39V257.43H247.57V260.41H248.75V247.83H249.93V238.30H251.11V238.43H252.29V248.84H253.47V249.97H254.65V250.45H255.83V248.62H257.01V252.92H258.20V257.47H259.38V268.55H260.56V269.04H261.74V257.39H262.92V251.76H264.10V250.81H265.28V253.85H266.46V262.89H267.64V271.93H268.82V277.00H270.00V293.45H271.18V305.38H272.36V287.67H273.55V269.96H274.73V260.92H275.91V265.69H277.09V258.59H278.27V255.52H279.45V256.79H280.63V269.13H281.81V281.48H282.99V284.07H284.17V273.51H285.35V262.94H286.53V252.38H287.72V241.81H288.90V234.22H290.08V229.69H291.26V225.17H292.44V217.73H293.62V220.05H294.80V236.01H295.98V251.98H297.16V267.95H298.34V262.01H299.52V238.54H300.70V247.53H301.88V252.47H303.07V244.78H304.25V237.08H305.43V238.99H306.61V256.13H307.79V273.27H308.97V277.00H310.15V256.65H311.33V236.31H312.51V224.92H313.69V230.09H314.87V236.36H316.05V258.29H317.24V280.23H318.42V286.48H319.60V268.84H320.78V251.19H321.96V243.93H323.14V242.45H324.32V228.96H325.50V215.46H326.68V211.70H327.86V221.81H329.04V246.21H330.22V250.53H331.40V276.24H332.59V283.11H333.77V273.94H334.95V264.77H336.13V262.22H337.31V265.51H338.49V252.68H339.67V246.68H340.85V257.71H342.03V294.81H343.21V296.78H344.39V307.46H345.57V318.00H346.76V315.72H347.94V306.74H349.12V297.77H350.30V296.98H351.48V292.05H352.66V287.87H353.84V284.40H355.02V283.82H356.20V307.43H357.38V292.02H358.56V291.59H359.74V287.28H360.92V282.18H362.11V284.84H363.29V292.31H364.47V300.46H365.65V302.75H366.83V297.50H368.01V293.66H369.19V292.66H370.37V297.82H371.55V293.14H372.73V274.55H373.91V289.73H375.09V294.24H376.28V303.12H377.46V304.17H378.64V305.54H379.82V306.99H381.00V307.78H382.18V312.59H383.36V315.04H384.54V300.46H385.72V285.87H386.90V278.56H388.08V294.37H389.26V310.19H390.44V318.10H391.63V316.25H392.81V308.88H393.99V310.41H395.17V315.80H396.35V310.97H397.53V288.32H398.71V265.66H399.89V252.79H401.07V279.81H402.25V285.22H403.43V301.95H404.61V312.48H405.80V314.01H406.98V306.81H408.16V305.52H409.34V306.88H410.52V291.97H411.70V276.04H412.88V260.11H414.06V260.17H415.24V268.83H416.42V272.06H417.60V268.07H418.78V283.98H419.96V299.88H421.15V311.13H422.33V308.59H423.51V309.38H424.69V311.41H425.87V312.05H427.05V300.78H428.23V264.59H429.41V235.33H430.59V230.71H431.77V235.96H432.95V246.20H434.13V247.14H435.32V257.64H436.50V259.56H437.68V260.86H438.86V250.80H440.04V249.09H441.22V252.26H442.40V255.67H443.58V253.99H444.76V253.72H445.94V255.91H447.12V258.45H448.30V255.61H449.48V251.83H450.67V246.50H451.85V255.55H453.03V263.34H454.21V271.14H455.39V269.85H456.57V272.30H457.75V274.90H458.93V280.98H460.11V285.73H461.29V281.27H462.47V274.07H463.65V256.58H464.84V245.23H466.02V238.99H467.20V235.94H468.38V244.45H469.56V247.40H470.74V270.43H471.92V296.26H473.10V317.54H474.28V302.36H475.46V287.18H476.64V278.65H477.82V273.67H479.00V269.54H480.19V262.44H481.37V253.80H482.55V250.57H483.73V265.07H484.91V272.82H486.09V268.36H487.27V267.37H488.45V264.68H489.63V261.37H490.81V264.54H491.99V272.57H493.17V277.69H494.36V278.57H495.54V274.87H496.72V274.80H497.90V278.40H499.08V264.44H500.26V255.77H501.44V253.71H502.62V252.05H503.80V267.26H504.98V282.46H506.16V293.51H507.34V296.08H508.52V295.35H509.71V290.15H510.89V278.45H512.07V277.71H513.25V297.99H514.43V303.05H515.61V285.87H516.79V276.14H517.97V273.78H519.15V263.14H520.33V236.35H521.51V218.41H522.69V241.92H523.88V265.44H525.06V285.42H526.24V289.20H527.42V304.16H528.60V278.09H529.78V251.33H530.96V233.55H532.14V230.01H533.32V230.09H534.50V242.79H535.68V257.95H536.86V269.29H538.04V254.25H539.23V245.92H540.41V263.78H541.59V277.76H542.77V265.05H543.95V252.35H545.13V244.05H546.31V244.76H547.49V244.75H548.67V248.94H549.85V243.56H551.03V231.18H552.21V222.46H553.40V227.34H554.58V256.46H555.76V287.56H556.94V290.87H558.12V296.77H559.30V287.17H560.48V284.74H561.66V290.48H562.84V292.50H564.02V286.98H565.20V276.95H566.38V263.27H567.56V255.15H568.75V276.41H569.93V297.66H571.11V310.76H572.29V291.62H573.47V272.47H574.65V264.69H575.83V278.36H577.01V287.04H578.19V292.73H579.37V292.44H580.55V285.55H581.73V272.91H582.92V255.53H584.10V262.42H585.28V269.56H586.46V255.89H587.64V243.84H588.82V247.95H590.00V257.93H591.18V285.85H592.36V276.14H593.54V259.42H594.72V244.26H595.90V246.52H597.08V255.80H598.27V265.08H599.45V269.36H600.63V262.65H601.81V267.47H602.99V277.51H604.17V287.45H605.35V295.11H606.53V293.93H607.71V284.96H608.89V275.98H610.07V290.63H611.25V306.95H612.44V303.88H613.62V287.05H614.80V272.34H615.98V271.81H617.16V265.23H618.34V290.46H619.52V270.22H620.70V249.98H621.88V229.74H623.06V213.64H624.24V217.53H625.42V222.75H626.60V267.62H627.79V253.33H628.97V235.47H630.15V217.61H631.33V210.24H632.51V216.36H633.69V220.10H634.87V220.84H636.05V224.66H637.23V228.34H638.41V237.86H639.59V215.58H640.77V228.43H641.96V239.41H643.14V244.74H644.32V247.38H645.50V254.86H646.68V266.16H647.86V252.21H649.04V238.25H650.22V227.88H651.40V227.63H652.58V221.63H653.42V263.35Z"/></clipPath>
<path d="M71.70,187.35V327.5 M75.62,187.35V327.5 M79.54,187.35V327.5 M83.46,187.35V327.5 M87.38,187.35V327.5 M91.30,187.35V327.5 M95.22,187.35V327.5 M99.14,187.35V327.5 M103.06,187.35V327.5 M106.98,187.35V327.5 M110.90,187.35V327.5 M114.82,187.35V327.5 M118.74,187.35V327.5 M122.66,187.35V327.5 M126.58,187.35V327.5 M130.50,187.35V327.5 M134.42,187.35V327.5 M138.34,187.35V327.5 M142.26,187.35V327.5 M146.18,187.35V327.5 M150.10,187.35V327.5 M154.02,187.35V327.5 M157.94,187.35V327.5 M161.86,187.35V327.5 M165.78,187.35V327.5 M169.70,187.35V327.5 M173.62,187.35V327.5 M177.54,187.35V327.5 M181.46,187.35V327.5 M185.38,187.35V327.5 M189.30,187.35V327.5 M193.22,187.35V327.5 M197.14,187.35V327.5 M201.06,187.35V327.5 M204.98,187.35V327.5 M208.90,187.35V327.5 M212.82,187.35V327.5 M216.74,187.35V327.5 M220.66,187.35V327.5 M224.58,187.35V327.5 M228.50,187.35V327.5 M232.42,187.35V327.5 M236.34,187.35V327.5 M240.26,187.35V327.5 M244.18,187.35V327.5 M248.10,187.35V327.5 M252.02,187.35V327.5 M255.94,187.35V327.5 M259.86,187.35V327.5 M263.78,187.35V327.5 M267.70,187.35V327.5 M271.62,187.35V327.5 M275.54,187.35V327.5 M279.46,187.35V327.5 M283.38,187.35V327.5 M287.30,187.35V327.5 M291.22,187.35V327.5 M295.14,187.35V327.5 M299.06,187.35V327.5 M302.98,187.35V327.5 M306.90,187.35V327.5 M310.82,187.35V327.5 M314.74,187.35V327.5 M318.66,187.35V327.5 M322.58,187.35V327.5 M326.50,187.35V327.5 M330.42,187.35V327.5 M334.34,187.35V327.5 M338.26,187.35V327.5 M342.18,187.35V327.5 M346.10,187.35V327.5 M350.02,187.35V327.5 M353.94,187.35V327.5 M357.86,187.35V327.5 M361.78,187.35V327.5 M365.70,187.35V327.5 M369.62,187.35V327.5 M373.54,187.35V327.5 M377.46,187.35V327.5 M381.38,187.35V327.5 M385.30,187.35V327.5 M389.22,187.35V327.5 M393.14,187.35V327.5 M397.06,187.35V327.5 M400.98,187.35V327.5 M404.90,187.35V327.5 M408.82,187.35V327.5 M412.74,187.35V327.5 M416.66,187.35V327.5 M420.58,187.35V327.5 M424.50,187.35V327.5 M428.42,187.35V327.5 M432.34,187.35V327.5 M436.26,187.35V327.5 M440.18,187.35V327.5 M444.10,187.35V327.5 M448.02,187.35V327.5 M451.94,187.35V327.5 M455.86,187.35V327.5 M459.78,187.35V327.5 M463.70,187.35V327.5 M467.62,187.35V327.5 M471.54,187.35V327.5 M475.46,187.35V327.5 M479.38,187.35V327.5 M483.30,187.35V327.5 M487.22,187.35V327.5 M491.14,187.35V327.5 M495.06,187.35V327.5 M498.98,187.35V327.5 M502.90,187.35V327.5 M506.82,187.35V327.5 M510.74,187.35V327.5 M514.66,187.35V327.5 M518.58,187.35V327.5 M522.50,187.35V327.5 M526.42,187.35V327.5 M530.34,187.35V327.5 M534.26,187.35V327.5 M538.18,187.35V327.5 M542.10,187.35V327.5 M546.02,187.35V327.5 M549.94,187.35V327.5 M553.86,187.35V327.5 M557.78,187.35V327.5 M561.70,187.35V327.5 M565.62,187.35V327.5 M569.54,187.35V327.5 M573.46,187.35V327.5 M577.38,187.35V327.5 M581.30,187.35V327.5 M585.22,187.35V327.5 M589.14,187.35V327.5 M593.06,187.35V327.5 M596.98,187.35V327.5 M600.90,187.35V327.5 M604.82,187.35V327.5 M608.74,187.35V327.5 M612.66,187.35V327.5 M616.58,187.35V327.5 M620.50,187.35V327.5 M624.42,187.35V327.5 M628.34,187.35V327.5 M632.26,187.35V327.5 M636.18,187.35V327.5 M640.10,187.35V327.5 M644.02,187.35V327.5 M647.94,187.35V327.5 M651.86,187.35V327.5 M655.78,187.35V327.5 M659.70,187.35V327.5" stroke="#fff" stroke-opacity="0.12" stroke-width="1.9" fill="none" clip-path="url(#cf1)"/>
<path d="M144.97,187.35V327.5 M148.92,187.35V327.5 M154.38,187.35V327.5 M158.09,187.35V327.5 M163.20,187.35V327.5 M166.17,187.35V327.5 M172.96,187.35V327.5 M177.63,187.35V327.5 M184.08,187.35V327.5 M188.89,187.35V327.5 M193.80,187.35V327.5 M200.21,187.35V327.5 M208.43,187.35V327.5 M213.49,187.35V327.5 M218.99,187.35V327.5 M224.84,187.35V327.5 M232.15,187.35V327.5 M238.74,187.35V327.5 M247.64,187.35V327.5 M252.83,187.35V327.5 M261.26,187.35V327.5 M296.43,187.35V327.5 M300.11,187.35V327.5 M304.07,187.35V327.5 M412.54,187.35V327.5 M416.79,187.35V327.5 M421.14,187.35V327.5 M441.64,187.35V327.5 M446.89,187.35V327.5 M452.13,187.35V327.5 M457.96,187.35V327.5 M461.28,187.35V327.5 M467.85,187.35V327.5 M475.78,187.35V327.5 M483.05,187.35V327.5 M489.55,187.35V327.5 M498.52,187.35V327.5 M507.01,187.35V327.5 M513.23,187.35V327.5 M521.11,187.35V327.5 M528.73,187.35V327.5 M534.19,187.35V327.5 M543.20,187.35V327.5 M557.07,187.35V327.5" stroke="#fff" stroke-opacity="0.55" stroke-width="0.7" fill="none" clip-path="url(#cf1)"/>
<g clip-path="url(#cf1)">
<line x1="59.15" y1="187.35" x2="59.15" y2="327.5" stroke="#dcdcf0" stroke-width="0.9" stroke-opacity="0.55"/>
<line x1="130.00" y1="187.35" x2="130.00" y2="327.5" stroke="#dcdcf0" stroke-width="0.9" stroke-opacity="0.55"/>
<line x1="200.85" y1="187.35" x2="200.85" y2="327.5" stroke="#dcdcf0" stroke-width="0.9" stroke-opacity="0.55"/>
<line x1="271.70" y1="187.35" x2="271.70" y2="327.5" stroke="#dcdcf0" stroke-width="0.9" stroke-opacity="0.55"/>
<line x1="342.55" y1="187.35" x2="342.55" y2="327.5" stroke="#dcdcf0" stroke-width="0.9" stroke-opacity="0.55"/>
<line x1="413.40" y1="187.35" x2="413.40" y2="327.5" stroke="#dcdcf0" stroke-width="0.9" stroke-opacity="0.55"/>
<line x1="484.25" y1="187.35" x2="484.25" y2="327.5" stroke="#dcdcf0" stroke-width="0.9" stroke-opacity="0.55"/>
<line x1="555.10" y1="187.35" x2="555.10" y2="327.5" stroke="#dcdcf0" stroke-width="0.9" stroke-opacity="0.55"/>
<line x1="625.95" y1="187.35" x2="625.95" y2="327.5" stroke="#dcdcf0" stroke-width="0.9" stroke-opacity="0.55"/>
<line x1="43.5" y1="209.55" x2="682.5" y2="209.55" stroke="#dcdcf0" stroke-width="0.9" stroke-opacity="0.55"/>
<line x1="43.5" y1="317.15" x2="682.5" y2="317.15" stroke="#dcdcf0" stroke-width="0.9" stroke-opacity="0.55"/>
</g>
<line x1="43.5" y1="263.35" x2="682.5" y2="263.35" stroke="#000" stroke-width="1"/>
<path d="M75.12,222.66 L76.55,211.42 L79.93,268.34 L82.28,234.41 L85.85,281.62 L88.10,219.08 L89.63,219.08 L92.90,270.38 L95.25,269.97 L96.28,257.40 L97.30,255.87 L98.63,250.25 L99.65,249.74 L101.18,236.45 L102.92,247.69 L103.94,248.20 L105.98,227.56 L108.03,240.03 L109.56,249.22 L111.60,218.77 L112.93,227.77 L115.39,220.10 L118.96,284.28 L122.54,238.49 L123.87,242.07 L125.20,242.58 L128.67,271.71 L130.00,273.24 L131.84,284.69 L135.62,240.54 L137.15,242.58 L139.20,241.76 L142.77,277.84 L144.82,277.12 L146.04,288.06 L147.37,247.18 L149.62,222.66 L150.95,242.07 L151.97,239.52 L153.50,246.16 L155.04,249.22 L157.79,278.35 L159.84,207.33 L161.17,207.84 L162.70,202.22 L163.72,202.73 L165.05,193.23 L166.28,217.55 L167.81,257.40 L170.06,271.20 L172.10,282.44 L173.94,239.01 L175.98,233.69 L177.21,234.92 L178.85,249.22 L180.07,252.29 L182.63,208.15 L185.18,247.18 L186.20,259.44 L187.43,231.34 L189.78,227.25 L191.62,264.55 L194.58,216.52 L196.22,220.10 L198.26,244.12 L200.00,243.09 L201.84,213.25 L203.07,220.61 L204.09,219.08 L207.36,278.35 L209.20,256.58 L210.22,257.40 L212.77,269.15 L214.51,272.22 L215.84,222.45 L217.37,227.77 L220.44,305.43 L224.01,266.60 L227.39,300.63 L229.94,232.06 L231.17,237.98 L233.52,286.52 L237.09,254.54 L239.34,281.42 L240.87,288.57 L244.14,236.45 L245.78,245.14 L247.72,265.07 L250.07,240.03 L251.40,234.92 L252.63,249.22 L253.65,247.69 L254.67,253.31 L256.00,246.67 L257.22,252.29 L258.45,254.33 L260.60,274.47 L262.84,252.29 L265.40,250.25 L268.67,275.28 L270.00,278.35 L271.33,312.07 L274.90,258.42 L276.34,267.11 L277.15,259.95 L279.71,253.31 L283.08,288.57 L288.90,236.45 L291.97,224.70 L293.71,213.25 L298.41,276.82 L299.84,236.45 L302.19,254.33 L305.56,232.36 L309.14,284.28 L312.71,222.66 L313.94,229.81 L315.17,230.83 L318.54,293.47 L322.12,240.03 L323.14,249.22 L326.71,208.35 L328.25,217.55 L329.78,249.22 L330.80,250.25 L332.54,288.06 L336.42,257.91 L337.44,272.73 L338.67,253.31 L340.00,251.27 L340.82,236.96 L342.55,294.70 L344.09,297.25 L345.93,318.20 L347.15,317.18 L349.71,297.77 L351.24,296.74 L352.77,288.06 L354.10,287.55 L355.33,275.80 L356.55,310.54 L358.39,286.52 L359.62,294.70 L360.95,280.90 L362.99,285.50 L364.32,295.72 L365.75,304.92 L367.59,296.74 L369.43,291.12 L371.88,301.85 L372.90,267.62 L374.23,289.59 L375.25,290.10 L376.58,302.87 L378.32,304.41 L380.36,306.96 L381.90,307.98 L383.74,317.69 L387.21,274.77 L390.07,313.09 L391.60,321.06 L393.14,309.01 L394.16,308.49 L396.51,319.22 L400.29,246.67 L401.31,279.37 L402.54,280.90 L404.38,306.96 L405.91,317.18 L407.44,306.96 L408.67,305.43 L410.00,306.96 L413.88,254.54 L416.64,274.77 L417.97,265.07 L421.44,311.87 L422.77,308.49 L424.31,309.52 L426.15,313.09 L427.37,309.01 L429.72,236.96 L430.95,229.81 L432.28,234.92 L433.30,247.18 L434.32,243.09 L435.75,257.40 L437.08,259.44 L437.79,271.20 L438.61,253.31 L440.15,248.71 L441.47,249.74 L442.50,257.40 L443.52,253.82 L444.74,254.13 L445.97,253.31 L447.30,259.44 L449.85,253.31 L451.08,245.14 L452.41,255.36 L454.96,272.22 L456.49,268.64 L457.52,274.26 L458.85,275.28 L460.28,287.34 L462.12,280.39 L463.34,272.22 L464.67,249.22 L467.53,234.10 L469.06,245.14 L470.29,247.69 L473.56,319.22 L476.42,282.44 L477.95,275.28 L480.00,268.13 L482.86,247.18 L485.11,274.77 L486.34,268.64 L488.17,267.11 L490.73,259.95 L493.28,277.33 L495.33,278.86 L496.86,271.20 L498.19,281.93 L500.44,255.36 L501.46,256.38 L502.99,249.22 L506.36,292.66 L508.61,297.56 L510.66,288.57 L512.19,269.66 L514.54,310.03 L516.79,277.33 L519.34,272.22 L521.90,214.28 L525.47,285.50 L526.49,284.99 L528.03,304.41 L531.09,234.92 L533.65,227.25 L535.69,249.22 L537.22,272.22 L539.57,242.28 L542.03,279.37 L545.40,243.09 L546.42,246.16 L547.65,242.58 L548.98,249.22 L550.00,248.20 L552.55,221.43 L554.09,227.77 L556.34,287.55 L557.36,289.08 L558.38,299.81 L559.71,287.55 L561.44,283.97 L562.77,294.70 L564.31,289.59 L566.35,272.22 L567.88,250.25 L571.46,314.63 L574.83,259.95 L576.77,282.44 L578.61,292.66 L579.84,293.17 L581.68,282.44 L583.52,255.36 L585.97,270.17 L588.01,243.09 L590.36,251.27 L591.59,287.34 L593.43,272.22 L594.96,244.32 L596.19,244.12 L599.76,272.22 L600.79,261.49 L602.12,265.07 L604.16,282.44 L605.69,295.21 L607.02,294.70 L609.57,275.28 L611.82,306.96 L612.84,306.45 L614.89,277.33 L615.91,267.11 L616.63,272.22 L617.44,256.89 L618.77,293.17 L623.48,212.44 L624.50,219.59 L625.73,211.93 L627.26,270.17 L631.35,208.35 L632.58,212.44 L633.60,220.10 L635.23,220.10 L636.97,225.72 L638.30,229.81 L639.01,237.98 L640.04,213.97 L641.77,232.87 L643.10,244.12 L644.63,245.65 L646.17,255.36 L647.19,267.11 L650.56,227.25 L651.58,229.81 L653.12,221.63" fill="none" stroke="#000" stroke-width="1.5" stroke-linejoin="round" stroke-linecap="butt"/>
<rect x="43.5" y="187.35" width="639.00" height="140.15" fill="none" stroke="#1a1a1a" stroke-width="1"/>
<line x1="59.15" y1="327.5" x2="59.15" y2="331.6" stroke="#000" stroke-width="0.9"/>
<line x1="130.00" y1="327.5" x2="130.00" y2="331.6" stroke="#000" stroke-width="0.9"/>
<line x1="200.85" y1="327.5" x2="200.85" y2="331.6" stroke="#000" stroke-width="0.9"/>
<line x1="271.70" y1="327.5" x2="271.70" y2="331.6" stroke="#000" stroke-width="0.9"/>
<line x1="342.55" y1="327.5" x2="342.55" y2="331.6" stroke="#000" stroke-width="0.9"/>
<line x1="413.40" y1="327.5" x2="413.40" y2="331.6" stroke="#000" stroke-width="0.9"/>
<line x1="484.25" y1="327.5" x2="484.25" y2="331.6" stroke="#000" stroke-width="0.9"/>
<line x1="555.10" y1="327.5" x2="555.10" y2="331.6" stroke="#000" stroke-width="0.9"/>
<line x1="625.95" y1="327.5" x2="625.95" y2="331.6" stroke="#000" stroke-width="0.9"/>
<line x1="39.4" y1="209.55" x2="43.5" y2="209.55" stroke="#000" stroke-width="0.9"/>
<text x="34.5" y="213.95" font-size="12.3" text-anchor="end" textLength="7.0" lengthAdjust="spacingAndGlyphs">2</text>
<line x1="39.4" y1="263.35" x2="43.5" y2="263.35" stroke="#000" stroke-width="0.9"/>
<text x="34.5" y="267.75" font-size="12.3" text-anchor="end" textLength="7.0" lengthAdjust="spacingAndGlyphs">0</text>
<line x1="39.4" y1="317.15" x2="43.5" y2="317.15" stroke="#000" stroke-width="0.9"/>
<text x="34.5" y="321.55" font-size="12.3" text-anchor="end" textLength="16.6" lengthAdjust="spacingAndGlyphs">−2</text>
<text transform="translate(9.8,258.62) rotate(-90)" font-size="11.9" text-anchor="middle" textLength="37.2" lengthAdjust="spacingAndGlyphs">SPEI-3</text>
<line x1="59.15" y1="345.3" x2="59.15" y2="485.5" stroke="#b4b4b4" stroke-width="0.9"/>
<line x1="130.00" y1="345.3" x2="130.00" y2="485.5" stroke="#b4b4b4" stroke-width="0.9"/>
<line x1="200.85" y1="345.3" x2="200.85" y2="485.5" stroke="#b4b4b4" stroke-width="0.9"/>
<line x1="271.70" y1="345.3" x2="271.70" y2="485.5" stroke="#b4b4b4" stroke-width="0.9"/>
<line x1="342.55" y1="345.3" x2="342.55" y2="485.5" stroke="#b4b4b4" stroke-width="0.9"/>
<line x1="413.40" y1="345.3" x2="413.40" y2="485.5" stroke="#b4b4b4" stroke-width="0.9"/>
<line x1="484.25" y1="345.3" x2="484.25" y2="485.5" stroke="#b4b4b4" stroke-width="0.9"/>
<line x1="555.10" y1="345.3" x2="555.10" y2="485.5" stroke="#b4b4b4" stroke-width="0.9"/>
<line x1="625.95" y1="345.3" x2="625.95" y2="485.5" stroke="#b4b4b4" stroke-width="0.9"/>
<line x1="43.5" y1="372.69" x2="682.5" y2="372.69" stroke="#b4b4b4" stroke-width="0.9"/>
<line x1="43.5" y1="424.35" x2="682.5" y2="424.35" stroke="#b4b4b4" stroke-width="0.9"/>
<line x1="43.5" y1="476.01" x2="682.5" y2="476.01" stroke="#b4b4b4" stroke-width="0.9"/>
<path d="M78.35,424.35V401.09H78.71V398.65H79.89V396.19H81.08V399.61H82.26V410.77H83.44V421.99H84.62V413.69H85.80V406.40H86.98V402.39H88.16V399.73H89.34V396.77H90.52V397.22H91.70V400.83H92.88V409.49H94.06V416.91H95.24V422.35H96.43V426.10H97.61V424.14H98.79V420.27H99.97V412.40H101.15V408.13H102.33V406.91H103.51V400.84H104.69V392.00H105.87V392.81H107.05V399.44H108.23V399.21H109.41V393.60H110.60V389.98H111.78V390.47H112.96V390.04H114.14V380.95H115.32V382.47H116.50V391.01H117.68V398.96H118.86V416.91H120.04V419.17H121.22V419.97H122.40V416.19H123.58V413.20H124.76V409.67H125.95V407.95H127.13V414.49H128.31V414.96H129.49V415.80H130.67V426.22H131.85V439.72H133.03V424.17H134.21V420.03H135.39V417.25H136.57V411.97H137.75V405.42H138.93V402.66H140.12V410.14H141.30V415.63H142.48V417.61H143.66V422.79H144.84V439.69H146.02V437.67H147.20V418.26H148.38V408.51H149.56V404.94H150.74V402.17H151.92V395.10H153.10V395.49H154.28V406.06H155.47V410.36H156.65V415.75H157.83V403.03H159.01V390.24H160.19V379.17H161.37V365.18H162.55V355.18H163.73V353.51H164.91V360.65H166.09V372.46H167.27V377.54H168.45V382.40H169.64V404.16H170.82V419.80H172.00V424.51H173.18V415.50H174.36V407.00H175.54V399.20H176.72V396.65H177.90V400.14H179.08V400.47H180.26V394.87H181.44V387.71H182.62V387.68H183.80V388.67H184.99V384.13H186.17V382.74H187.35V385.52H188.53V389.52H189.71V398.25H190.89V409.45H192.07V404.20H193.25V400.66H194.43V400.87H195.61V400.87H196.79V398.26H197.97V384.84H199.16V386.02H200.34V387.82H201.52V387.51H202.70V383.99H203.88V387.01H205.06V402.39H206.24V406.64H207.42V409.64H208.60V420.46H209.78V426.90H210.96V431.61H212.14V426.62H213.32V423.44H214.51V414.59H215.69V406.35H216.87V405.32H218.05V417.54H219.23V429.91H220.41V437.73H221.59V440.29H222.77V446.44H223.95V448.88H225.13V449.62H226.31V447.89H227.49V440.60H228.68V436.90H229.86V428.77H231.04V424.93H232.22V425.69H233.40V427.75H234.58V426.00H235.76V428.95H236.94V434.22H238.12V438.36H239.30V437.32H240.48V439.27H241.66V440.46H242.84V435.33H244.03V426.83H245.21V421.66H246.39V416.35H247.57V411.08H248.75V408.41H249.93V411.17H251.11V411.64H252.29V409.01H253.47V405.40H254.65V406.40H255.83V410.25H257.01V409.83H258.20V415.16H259.38V421.91H260.56V430.07H261.74V424.36H262.92V422.14H264.10V422.53H265.28V421.62H266.46V421.70H267.64V423.27H268.82V429.94H270.00V436.73H271.18V441.26H272.36V442.22H273.55V440.76H274.73V438.42H275.91V431.90H277.09V423.05H278.27V419.48H279.45V422.63H280.63V425.92H281.81V434.81H282.99V434.42H284.17V436.93H285.35V440.90H286.53V437.75H287.72V420.56H288.90V399.93H290.08V394.49H291.26V388.65H292.44V385.07H293.62V383.78H294.80V389.17H295.98V396.19H297.16V400.36H298.34V408.51H299.52V411.61H300.70V421.68H301.88V416.18H303.07V403.14H304.25V401.05H305.43V402.15H306.61V408.59H307.79V411.38H308.97V416.61H310.15V414.65H311.33V415.50H312.51V413.27H313.69V402.77H314.87V393.98H316.05V395.55H317.24V418.59H318.42V434.57H319.60V429.12H320.78V427.94H321.96V424.59H323.14V408.66H324.32V387.15H325.50V376.06H326.68V380.26H327.86V382.29H329.04V378.46H330.22V382.91H331.40V413.24H332.59V436.78H333.77V433.26H334.95V433.69H336.13V438.57H337.31V430.76H338.49V422.08H339.67V423.69H340.85V420.78H342.03V424.73H343.21V431.66H344.39V460.54H345.57V477.37H346.76V474.52H347.94V473.34H349.12V470.46H350.30V466.86H351.48V461.41H352.66V456.87H353.84V455.68H355.02V454.50H356.20V453.91H357.38V456.84H358.56V455.08H359.74V460.32H360.92V451.29H362.11V451.60H363.29V454.09H364.47V456.35H365.65V457.71H366.83V458.29H368.01V461.39H369.19V462.74H370.37V462.32H371.55V457.26H372.73V447.90H373.91V457.92H375.09V457.74H376.28V458.60H377.46V461.14H378.64V463.51H379.82V466.55H381.00V466.95H382.18V468.50H383.36V469.08H384.54V468.07H385.72V467.60H386.90V463.05H388.08V462.96H389.26V466.33H390.44V470.90H391.63V472.71H392.81V472.55H393.99V473.57H395.17V473.46H396.35V469.51H397.53V466.37H398.71V464.62H399.89V458.58H401.07V445.44H402.25V443.01H403.43V457.33H404.61V464.62H405.80V466.98H406.98V468.19H408.16V468.78H409.34V469.08H410.52V464.65H411.70V459.81H412.88V454.50H414.06V446.84H415.24V436.19H416.42V424.09H417.60V428.01H418.78V442.51H419.96V451.70H421.15V457.54H422.33V461.68H423.51V465.40H424.69V468.94H425.87V471.36H427.05V471.84H428.23V462.04H429.41V423.25H430.59V406.13H431.77V401.51H432.95V398.55H434.13V398.43H435.32V408.41H436.50V417.46H437.68V421.04H438.86V419.56H440.04V420.71H441.22V419.02H442.40V411.41H443.58V408.58H444.76V412.63H445.94V416.27H447.12V419.25H448.30V417.32H449.48V415.32H450.67V416.60H451.85V420.57H453.03V420.48H454.21V418.42H455.39V419.99H456.57V426.15H457.75V437.49H458.93V441.54H460.11V444.80H461.29V442.04H462.47V439.61H463.65V434.46H464.84V426.75H466.02V418.71H467.20V409.15H468.38V406.42H469.56V403.83H470.74V416.97H471.92V451.48H473.10V466.68H474.28V468.14H475.46V463.32H476.64V457.81H477.82V452.95H479.00V448.84H480.19V440.38H481.37V431.35H482.55V426.09H483.73V424.67H484.91V419.99H486.09V420.66H487.27V431.13H488.45V429.98H489.63V426.37H490.81V427.14H491.99V429.08H493.17V432.23H494.36V435.37H495.54V437.72H496.72V438.95H497.90V437.58H499.08V431.10H500.26V422.92H501.44V423.48H502.62V413.89H503.80V424.74H504.98V431.44H506.16V438.53H507.34V445.61H508.52V451.35H509.71V454.64H510.89V453.46H512.07V455.30H513.25V464.57H514.43V466.34H515.61V455.62H516.79V452.45H517.97V449.55H519.15V432.79H520.33V415.32H521.51V406.56H522.69V414.44H523.88V408.04H525.06V403.23H526.24V419.16H527.42V447.84H528.60V448.52H529.78V425.95H530.96V416.30H532.14V406.51H533.32V401.59H534.50V401.05H535.68V404.74H536.86V410.75H538.04V413.11H539.23V423.26H540.41V428.18H541.59V422.81H542.77V417.44H543.95V416.65H545.13V414.76H546.31V413.06H547.49V411.54H548.67V409.66H549.85V406.17H551.03V400.67H552.21V395.22H553.40V392.88H554.58V398.05H555.76V398.66H556.94V413.46H558.12V443.73H559.30V452.00H560.48V453.77H561.66V453.97H562.84V453.03H564.02V449.60H565.20V446.52H566.38V444.03H567.56V440.97H568.75V438.73H569.93V444.34H571.11V453.90H572.29V456.95H573.47V448.62H574.65V447.71H575.83V446.09H577.01V443.68H578.19V441.98H579.37V446.10H580.55V450.39H581.73V449.44H582.92V444.90H584.10V439.08H585.28V432.58H586.46V423.35H587.64V408.29H588.82V418.34H590.00V423.90H591.18V425.80H592.36V423.42H593.54V424.33H594.72V430.48H595.90V426.34H597.08V420.34H598.27V410.36H599.45V418.38H600.63V423.83H601.81V428.52H602.99V433.06H604.17V439.32H605.35V443.70H606.53V445.79H607.71V448.12H608.89V451.15H610.07V453.06H611.25V451.73H612.44V453.23H613.62V455.07H614.80V449.05H615.98V446.59H617.16V437.93H618.34V442.89H619.52V437.92H620.70V429.97H621.88V422.37H623.06V409.33H624.24V397.10H625.42V386.10H626.60V387.47H627.79V388.32H628.97V378.71H630.15V383.18H631.33V381.59H632.51V379.77H633.69V372.17H634.87V366.93H636.05V370.47H637.23V376.05H638.41V380.02H639.59V380.30H640.77V383.89H641.96V390.40H643.14V388.17H644.32V395.91H645.50V409.80H646.68V416.90H647.86V414.94H649.04V410.96H650.22V407.11H651.40V401.23H652.58V390.36H653.42V424.35Z" fill="url(#gb2)" clip-path="url(#ca2)"/>
<path d="M78.35,424.35V401.09H78.71V398.65H79.89V396.19H81.08V399.61H82.26V410.77H83.44V421.99H84.62V413.69H85.80V406.40H86.98V402.39H88.16V399.73H89.34V396.77H90.52V397.22H91.70V400.83H92.88V409.49H94.06V416.91H95.24V422.35H96.43V426.10H97.61V424.14H98.79V420.27H99.97V412.40H101.15V408.13H102.33V406.91H103.51V400.84H104.69V392.00H105.87V392.81H107.05V399.44H108.23V399.21H109.41V393.60H110.60V389.98H111.78V390.47H112.96V390.04H114.14V380.95H115.32V382.47H116.50V391.01H117.68V398.96H118.86V416.91H120.04V419.17H121.22V419.97H122.40V416.19H123.58V413.20H124.76V409.67H125.95V407.95H127.13V414.49H128.31V414.96H129.49V415.80H130.67V426.22H131.85V439.72H133.03V424.17H134.21V420.03H135.39V417.25H136.57V411.97H137.75V405.42H138.93V402.66H140.12V410.14H141.30V415.63H142.48V417.61H143.66V422.79H144.84V439.69H146.02V437.67H147.20V418.26H148.38V408.51H149.56V404.94H150.74V402.17H151.92V395.10H153.10V395.49H154.28V406.06H155.47V410.36H156.65V415.75H157.83V403.03H159.01V390.24H160.19V379.17H161.37V365.18H162.55V355.18H163.73V353.51H164.91V360.65H166.09V372.46H167.27V377.54H168.45V382.40H169.64V404.16H170.82V419.80H172.00V424.51H173.18V415.50H174.36V407.00H175.54V399.20H176.72V396.65H177.90V400.14H179.08V400.47H180.26V394.87H181.44V387.71H182.62V387.68H183.80V388.67H184.99V384.13H186.17V382.74H187.35V385.52H188.53V389.52H189.71V398.25H190.89V409.45H192.07V404.20H193.25V400.66H194.43V400.87H195.61V400.87H196.79V398.26H197.97V384.84H199.16V386.02H200.34V387.82H201.52V387.51H202.70V383.99H203.88V387.01H205.06V402.39H206.24V406.64H207.42V409.64H208.60V420.46H209.78V426.90H210.96V431.61H212.14V426.62H213.32V423.44H214.51V414.59H215.69V406.35H216.87V405.32H218.05V417.54H219.23V429.91H220.41V437.73H221.59V440.29H222.77V446.44H223.95V448.88H225.13V449.62H226.31V447.89H227.49V440.60H228.68V436.90H229.86V428.77H231.04V424.93H232.22V425.69H233.40V427.75H234.58V426.00H235.76V428.95H236.94V434.22H238.12V438.36H239.30V437.32H240.48V439.27H241.66V440.46H242.84V435.33H244.03V426.83H245.21V421.66H246.39V416.35H247.57V411.08H248.75V408.41H249.93V411.17H251.11V411.64H252.29V409.01H253.47V405.40H254.65V406.40H255.83V410.25H257.01V409.83H258.20V415.16H259.38V421.91H260.56V430.07H261.74V424.36H262.92V422.14H264.10V422.53H265.28V421.62H266.46V421.70H267.64V423.27H268.82V429.94H270.00V436.73H271.18V441.26H272.36V442.22H273.55V440.76H274.73V438.42H275.91V431.90H277.09V423.05H278.27V419.48H279.45V422.63H280.63V425.92H281.81V434.81H282.99V434.42H284.17V436.93H285.35V440.90H286.53V437.75H287.72V420.56H288.90V399.93H290.08V394.49H291.26V388.65H292.44V385.07H293.62V383.78H294.80V389.17H295.98V396.19H297.16V400.36H298.34V408.51H299.52V411.61H300.70V421.68H301.88V416.18H303.07V403.14H304.25V401.05H305.43V402.15H306.61V408.59H307.79V411.38H308.97V416.61H310.15V414.65H311.33V415.50H312.51V413.27H313.69V402.77H314.87V393.98H316.05V395.55H317.24V418.59H318.42V434.57H319.60V429.12H320.78V427.94H321.96V424.59H323.14V408.66H324.32V387.15H325.50V376.06H326.68V380.26H327.86V382.29H329.04V378.46H330.22V382.91H331.40V413.24H332.59V436.78H333.77V433.26H334.95V433.69H336.13V438.57H337.31V430.76H338.49V422.08H339.67V423.69H340.85V420.78H342.03V424.73H343.21V431.66H344.39V460.54H345.57V477.37H346.76V474.52H347.94V473.34H349.12V470.46H350.30V466.86H351.48V461.41H352.66V456.87H353.84V455.68H355.02V454.50H356.20V453.91H357.38V456.84H358.56V455.08H359.74V460.32H360.92V451.29H362.11V451.60H363.29V454.09H364.47V456.35H365.65V457.71H366.83V458.29H368.01V461.39H369.19V462.74H370.37V462.32H371.55V457.26H372.73V447.90H373.91V457.92H375.09V457.74H376.28V458.60H377.46V461.14H378.64V463.51H379.82V466.55H381.00V466.95H382.18V468.50H383.36V469.08H384.54V468.07H385.72V467.60H386.90V463.05H388.08V462.96H389.26V466.33H390.44V470.90H391.63V472.71H392.81V472.55H393.99V473.57H395.17V473.46H396.35V469.51H397.53V466.37H398.71V464.62H399.89V458.58H401.07V445.44H402.25V443.01H403.43V457.33H404.61V464.62H405.80V466.98H406.98V468.19H408.16V468.78H409.34V469.08H410.52V464.65H411.70V459.81H412.88V454.50H414.06V446.84H415.24V436.19H416.42V424.09H417.60V428.01H418.78V442.51H419.96V451.70H421.15V457.54H422.33V461.68H423.51V465.40H424.69V468.94H425.87V471.36H427.05V471.84H428.23V462.04H429.41V423.25H430.59V406.13H431.77V401.51H432.95V398.55H434.13V398.43H435.32V408.41H436.50V417.46H437.68V421.04H438.86V419.56H440.04V420.71H441.22V419.02H442.40V411.41H443.58V408.58H444.76V412.63H445.94V416.27H447.12V419.25H448.30V417.32H449.48V415.32H450.67V416.60H451.85V420.57H453.03V420.48H454.21V418.42H455.39V419.99H456.57V426.15H457.75V437.49H458.93V441.54H460.11V444.80H461.29V442.04H462.47V439.61H463.65V434.46H464.84V426.75H466.02V418.71H467.20V409.15H468.38V406.42H469.56V403.83H470.74V416.97H471.92V451.48H473.10V466.68H474.28V468.14H475.46V463.32H476.64V457.81H477.82V452.95H479.00V448.84H480.19V440.38H481.37V431.35H482.55V426.09H483.73V424.67H484.91V419.99H486.09V420.66H487.27V431.13H488.45V429.98H489.63V426.37H490.81V427.14H491.99V429.08H493.17V432.23H494.36V435.37H495.54V437.72H496.72V438.95H497.90V437.58H499.08V431.10H500.26V422.92H501.44V423.48H502.62V413.89H503.80V424.74H504.98V431.44H506.16V438.53H507.34V445.61H508.52V451.35H509.71V454.64H510.89V453.46H512.07V455.30H513.25V464.57H514.43V466.34H515.61V455.62H516.79V452.45H517.97V449.55H519.15V432.79H520.33V415.32H521.51V406.56H522.69V414.44H523.88V408.04H525.06V403.23H526.24V419.16H527.42V447.84H528.60V448.52H529.78V425.95H530.96V416.30H532.14V406.51H533.32V401.59H534.50V401.05H535.68V404.74H536.86V410.75H538.04V413.11H539.23V423.26H540.41V428.18H541.59V422.81H542.77V417.44H543.95V416.65H545.13V414.76H546.31V413.06H547.49V411.54H548.67V409.66H549.85V406.17H551.03V400.67H552.21V395.22H553.40V392.88H554.58V398.05H555.76V398.66H556.94V413.46H558.12V443.73H559.30V452.00H560.48V453.77H561.66V453.97H562.84V453.03H564.02V449.60H565.20V446.52H566.38V444.03H567.56V440.97H568.75V438.73H569.93V444.34H571.11V453.90H572.29V456.95H573.47V448.62H574.65V447.71H575.83V446.09H577.01V443.68H578.19V441.98H579.37V446.10H580.55V450.39H581.73V449.44H582.92V444.90H584.10V439.08H585.28V432.58H586.46V423.35H587.64V408.29H588.82V418.34H590.00V423.90H591.18V425.80H592.36V423.42H593.54V424.33H594.72V430.48H595.90V426.34H597.08V420.34H598.27V410.36H599.45V418.38H600.63V423.83H601.81V428.52H602.99V433.06H604.17V439.32H605.35V443.70H606.53V445.79H607.71V448.12H608.89V451.15H610.07V453.06H611.25V451.73H612.44V453.23H613.62V455.07H614.80V449.05H615.98V446.59H617.16V437.93H618.34V442.89H619.52V437.92H620.70V429.97H621.88V422.37H623.06V409.33H624.24V397.10H625.42V386.10H626.60V387.47H627.79V388.32H628.97V378.71H630.15V383.18H631.33V381.59H632.51V379.77H633.69V372.17H634.87V366.93H636.05V370.47H637.23V376.05H638.41V380.02H639.59V380.30H640.77V383.89H641.96V390.40H643.14V388.17H644.32V395.91H645.50V409.80H646.68V416.90H647.86V414.94H649.04V410.96H650.22V407.11H651.40V401.23H652.58V390.36H653.42V424.35Z" fill="url(#gr2)" clip-path="url(#cb2)"/>
<clipPath id="cf2"><path d="M78.35,424.35V401.09H78.71V398.65H79.89V396.19H81.08V399.61H82.26V410.77H83.44V421.99H84.62V413.69H85.80V406.40H86.98V402.39H88.16V399.73H89.34V396.77H90.52V397.22H91.70V400.83H92.88V409.49H94.06V416.91H95.24V422.35H96.43V426.10H97.61V424.14H98.79V420.27H99.97V412.40H101.15V408.13H102.33V406.91H103.51V400.84H104.69V392.00H105.87V392.81H107.05V399.44H108.23V399.21H109.41V393.60H110.60V389.98H111.78V390.47H112.96V390.04H114.14V380.95H115.32V382.47H116.50V391.01H117.68V398.96H118.86V416.91H120.04V419.17H121.22V419.97H122.40V416.19H123.58V413.20H124.76V409.67H125.95V407.95H127.13V414.49H128.31V414.96H129.49V415.80H130.67V426.22H131.85V439.72H133.03V424.17H134.21V420.03H135.39V417.25H136.57V411.97H137.75V405.42H138.93V402.66H140.12V410.14H141.30V415.63H142.48V417.61H143.66V422.79H144.84V439.69H146.02V437.67H147.20V418.26H148.38V408.51H149.56V404.94H150.74V402.17H151.92V395.10H153.10V395.49H154.28V406.06H155.47V410.36H156.65V415.75H157.83V403.03H159.01V390.24H160.19V379.17H161.37V365.18H162.55V355.18H163.73V353.51H164.91V360.65H166.09V372.46H167.27V377.54H168.45V382.40H169.64V404.16H170.82V419.80H172.00V424.51H173.18V415.50H174.36V407.00H175.54V399.20H176.72V396.65H177.90V400.14H179.08V400.47H180.26V394.87H181.44V387.71H182.62V387.68H183.80V388.67H184.99V384.13H186.17V382.74H187.35V385.52H188.53V389.52H189.71V398.25H190.89V409.45H192.07V404.20H193.25V400.66H194.43V400.87H195.61V400.87H196.79V398.26H197.97V384.84H199.16V386.02H200.34V387.82H201.52V387.51H202.70V383.99H203.88V387.01H205.06V402.39H206.24V406.64H207.42V409.64H208.60V420.46H209.78V426.90H210.96V431.61H212.14V426.62H213.32V423.44H214.51V414.59H215.69V406.35H216.87V405.32H218.05V417.54H219.23V429.91H220.41V437.73H221.59V440.29H222.77V446.44H223.95V448.88H225.13V449.62H226.31V447.89H227.49V440.60H228.68V436.90H229.86V428.77H231.04V424.93H232.22V425.69H233.40V427.75H234.58V426.00H235.76V428.95H236.94V434.22H238.12V438.36H239.30V437.32H240.48V439.27H241.66V440.46H242.84V435.33H244.03V426.83H245.21V421.66H246.39V416.35H247.57V411.08H248.75V408.41H249.93V411.17H251.11V411.64H252.29V409.01H253.47V405.40H254.65V406.40H255.83V410.25H257.01V409.83H258.20V415.16H259.38V421.91H260.56V430.07H261.74V424.36H262.92V422.14H264.10V422.53H265.28V421.62H266.46V421.70H267.64V423.27H268.82V429.94H270.00V436.73H271.18V441.26H272.36V442.22H273.55V440.76H274.73V438.42H275.91V431.90H277.09V423.05H278.27V419.48H279.45V422.63H280.63V425.92H281.81V434.81H282.99V434.42H284.17V436.93H285.35V440.90H286.53V437.75H287.72V420.56H288.90V399.93H290.08V394.49H291.26V388.65H292.44V385.07H293.62V383.78H294.80V389.17H295.98V396.19H297.16V400.36H298.34V408.51H299.52V411.61H300.70V421.68H301.88V416.18H303.07V403.14H304.25V401.05H305.43V402.15H306.61V408.59H307.79V411.38H308.97V416.61H310.15V414.65H311.33V415.50H312.51V413.27H313.69V402.77H314.87V393.98H316.05V395.55H317.24V418.59H318.42V434.57H319.60V429.12H320.78V427.94H321.96V424.59H323.14V408.66H324.32V387.15H325.50V376.06H326.68V380.26H327.86V382.29H329.04V378.46H330.22V382.91H331.40V413.24H332.59V436.78H333.77V433.26H334.95V433.69H336.13V438.57H337.31V430.76H338.49V422.08H339.67V423.69H340.85V420.78H342.03V424.73H343.21V431.66H344.39V460.54H345.57V477.37H346.76V474.52H347.94V473.34H349.12V470.46H350.30V466.86H351.48V461.41H352.66V456.87H353.84V455.68H355.02V454.50H356.20V453.91H357.38V456.84H358.56V455.08H359.74V460.32H360.92V451.29H362.11V451.60H363.29V454.09H364.47V456.35H365.65V457.71H366.83V458.29H368.01V461.39H369.19V462.74H370.37V462.32H371.55V457.26H372.73V447.90H373.91V457.92H375.09V457.74H376.28V458.60H377.46V461.14H378.64V463.51H379.82V466.55H381.00V466.95H382.18V468.50H383.36V469.08H384.54V468.07H385.72V467.60H386.90V463.05H388.08V462.96H389.26V466.33H390.44V470.90H391.63V472.71H392.81V472.55H393.99V473.57H395.17V473.46H396.35V469.51H397.53V466.37H398.71V464.62H399.89V458.58H401.07V445.44H402.25V443.01H403.43V457.33H404.61V464.62H405.80V466.98H406.98V468.19H408.16V468.78H409.34V469.08H410.52V464.65H411.70V459.81H412.88V454.50H414.06V446.84H415.24V436.19H416.42V424.09H417.60V428.01H418.78V442.51H419.96V451.70H421.15V457.54H422.33V461.68H423.51V465.40H424.69V468.94H425.87V471.36H427.05V471.84H428.23V462.04H429.41V423.25H430.59V406.13H431.77V401.51H432.95V398.55H434.13V398.43H435.32V408.41H436.50V417.46H437.68V421.04H438.86V419.56H440.04V420.71H441.22V419.02H442.40V411.41H443.58V408.58H444.76V412.63H445.94V416.27H447.12V419.25H448.30V417.32H449.48V415.32H450.67V416.60H451.85V420.57H453.03V420.48H454.21V418.42H455.39V419.99H456.57V426.15H457.75V437.49H458.93V441.54H460.11V444.80H461.29V442.04H462.47V439.61H463.65V434.46H464.84V426.75H466.02V418.71H467.20V409.15H468.38V406.42H469.56V403.83H470.74V416.97H471.92V451.48H473.10V466.68H474.28V468.14H475.46V463.32H476.64V457.81H477.82V452.95H479.00V448.84H480.19V440.38H481.37V431.35H482.55V426.09H483.73V424.67H484.91V419.99H486.09V420.66H487.27V431.13H488.45V429.98H489.63V426.37H490.81V427.14H491.99V429.08H493.17V432.23H494.36V435.37H495.54V437.72H496.72V438.95H497.90V437.58H499.08V431.10H500.26V422.92H501.44V423.48H502.62V413.89H503.80V424.74H504.98V431.44H506.16V438.53H507.34V445.61H508.52V451.35H509.71V454.64H510.89V453.46H512.07V455.30H513.25V464.57H514.43V466.34H515.61V455.62H516.79V452.45H517.97V449.55H519.15V432.79H520.33V415.32H521.51V406.56H522.69V414.44H523.88V408.04H525.06V403.23H526.24V419.16H527.42V447.84H528.60V448.52H529.78V425.95H530.96V416.30H532.14V406.51H533.32V401.59H534.50V401.05H535.68V404.74H536.86V410.75H538.04V413.11H539.23V423.26H540.41V428.18H541.59V422.81H542.77V417.44H543.95V416.65H545.13V414.76H546.31V413.06H547.49V411.54H548.67V409.66H549.85V406.17H551.03V400.67H552.21V395.22H553.40V392.88H554.58V398.05H555.76V398.66H556.94V413.46H558.12V443.73H559.30V452.00H560.48V453.77H561.66V453.97H562.84V453.03H564.02V449.60H565.20V446.52H566.38V444.03H567.56V440.97H568.75V438.73H569.93V444.34H571.11V453.90H572.29V456.95H573.47V448.62H574.65V447.71H575.83V446.09H577.01V443.68H578.19V441.98H579.37V446.10H580.55V450.39H581.73V449.44H582.92V444.90H584.10V439.08H585.28V432.58H586.46V423.35H587.64V408.29H588.82V418.34H590.00V423.90H591.18V425.80H592.36V423.42H593.54V424.33H594.72V430.48H595.90V426.34H597.08V420.34H598.27V410.36H599.45V418.38H600.63V423.83H601.81V428.52H602.99V433.06H604.17V439.32H605.35V443.70H606.53V445.79H607.71V448.12H608.89V451.15H610.07V453.06H611.25V451.73H612.44V453.23H613.62V455.07H614.80V449.05H615.98V446.59H617.16V437.93H618.34V442.89H619.52V437.92H620.70V429.97H621.88V422.37H623.06V409.33H624.24V397.10H625.42V386.10H626.60V387.47H627.79V388.32H628.97V378.71H630.15V383.18H631.33V381.59H632.51V379.77H633.69V372.17H634.87V366.93H636.05V370.47H637.23V376.05H638.41V380.02H639.59V380.30H640.77V383.89H641.96V390.40H643.14V388.17H644.32V395.91H645.50V409.80H646.68V416.90H647.86V414.94H649.04V410.96H650.22V407.11H651.40V401.23H652.58V390.36H653.42V424.35Z"/></clipPath>
<path d="M71.70,345.3V485.5 M75.62,345.3V485.5 M79.54,345.3V485.5 M83.46,345.3V485.5 M87.38,345.3V485.5 M91.30,345.3V485.5 M95.22,345.3V485.5 M99.14,345.3V485.5 M103.06,345.3V485.5 M106.98,345.3V485.5 M110.90,345.3V485.5 M114.82,345.3V485.5 M118.74,345.3V485.5 M122.66,345.3V485.5 M126.58,345.3V485.5 M130.50,345.3V485.5 M134.42,345.3V485.5 M138.34,345.3V485.5 M142.26,345.3V485.5 M146.18,345.3V485.5 M150.10,345.3V485.5 M154.02,345.3V485.5 M157.94,345.3V485.5 M161.86,345.3V485.5 M165.78,345.3V485.5 M169.70,345.3V485.5 M173.62,345.3V485.5 M177.54,345.3V485.5 M181.46,345.3V485.5 M185.38,345.3V485.5 M189.30,345.3V485.5 M193.22,345.3V485.5 M197.14,345.3V485.5 M201.06,345.3V485.5 M204.98,345.3V485.5 M208.90,345.3V485.5 M212.82,345.3V485.5 M216.74,345.3V485.5 M220.66,345.3V485.5 M224.58,345.3V485.5 M228.50,345.3V485.5 M232.42,345.3V485.5 M236.34,345.3V485.5 M240.26,345.3V485.5 M244.18,345.3V485.5 M248.10,345.3V485.5 M252.02,345.3V485.5 M255.94,345.3V485.5 M259.86,345.3V485.5 M263.78,345.3V485.5 M267.70,345.3V485.5 M271.62,345.3V485.5 M275.54,345.3V485.5 M279.46,345.3V485.5 M283.38,345.3V485.5 M287.30,345.3V485.5 M291.22,345.3V485.5 M295.14,345.3V485.5 M299.06,345.3V485.5 M302.98,345.3V485.5 M306.90,345.3V485.5 M310.82,345.3V485.5 M314.74,345.3V485.5 M318.66,345.3V485.5 M322.58,345.3V485.5 M326.50,345.3V485.5 M330.42,345.3V485.5 M334.34,345.3V485.5 M338.26,345.3V485.5 M342.18,345.3V485.5 M346.10,345.3V485.5 M350.02,345.3V485.5 M353.94,345.3V485.5 M357.86,345.3V485.5 M361.78,345.3V485.5 M365.70,345.3V485.5 M369.62,345.3V485.5 M373.54,345.3V485.5 M377.46,345.3V485.5 M381.38,345.3V485.5 M385.30,345.3V485.5 M389.22,345.3V485.5 M393.14,345.3V485.5 M397.06,345.3V485.5 M400.98,345.3V485.5 M404.90,345.3V485.5 M408.82,345.3V485.5 M412.74,345.3V485.5 M416.66,345.3V485.5 M420.58,345.3V485.5 M424.50,345.3V485.5 M428.42,345.3V485.5 M432.34,345.3V485.5 M436.26,345.3V485.5 M440.18,345.3V485.5 M444.10,345.3V485.5 M448.02,345.3V485.5 M451.94,345.3V485.5 M455.86,345.3V485.5 M459.78,345.3V485.5 M463.70,345.3V485.5 M467.62,345.3V485.5 M471.54,345.3V485.5 M475.46,345.3V485.5 M479.38,345.3V485.5 M483.30,345.3V485.5 M487.22,345.3V485.5 M491.14,345.3V485.5 M495.06,345.3V485.5 M498.98,345.3V485.5 M502.90,345.3V485.5 M506.82,345.3V485.5 M510.74,345.3V485.5 M514.66,345.3V485.5 M518.58,345.3V485.5 M522.50,345.3V485.5 M526.42,345.3V485.5 M530.34,345.3V485.5 M534.26,345.3V485.5 M538.18,345.3V485.5 M542.10,345.3V485.5 M546.02,345.3V485.5 M549.94,345.3V485.5 M553.86,345.3V485.5 M557.78,345.3V485.5 M561.70,345.3V485.5 M565.62,345.3V485.5 M569.54,345.3V485.5 M573.46,345.3V485.5 M577.38,345.3V485.5 M581.30,345.3V485.5 M585.22,345.3V485.5 M589.14,345.3V485.5 M593.06,345.3V485.5 M596.98,345.3V485.5 M600.90,345.3V485.5 M604.82,345.3V485.5 M608.74,345.3V485.5 M612.66,345.3V485.5 M616.58,345.3V485.5 M620.50,345.3V485.5 M624.42,345.3V485.5 M628.34,345.3V485.5 M632.26,345.3V485.5 M636.18,345.3V485.5 M640.10,345.3V485.5 M644.02,345.3V485.5 M647.94,345.3V485.5 M651.86,345.3V485.5 M655.78,345.3V485.5 M659.70,345.3V485.5" stroke="#fff" stroke-opacity="0.12" stroke-width="1.9" fill="none" clip-path="url(#cf2)"/>
<path d="M144.97,345.3V485.5 M148.92,345.3V485.5 M154.38,345.3V485.5 M158.09,345.3V485.5 M163.20,345.3V485.5 M166.17,345.3V485.5 M172.96,345.3V485.5 M177.63,345.3V485.5 M184.08,345.3V485.5 M188.89,345.3V485.5 M193.80,345.3V485.5 M200.21,345.3V485.5 M208.43,345.3V485.5 M213.49,345.3V485.5 M218.99,345.3V485.5 M224.84,345.3V485.5 M232.15,345.3V485.5 M238.74,345.3V485.5 M247.64,345.3V485.5 M252.83,345.3V485.5 M261.26,345.3V485.5 M296.43,345.3V485.5 M300.11,345.3V485.5 M304.07,345.3V485.5 M412.54,345.3V485.5 M416.79,345.3V485.5 M421.14,345.3V485.5 M441.64,345.3V485.5 M446.89,345.3V485.5 M452.13,345.3V485.5 M457.96,345.3V485.5 M461.28,345.3V485.5 M467.85,345.3V485.5 M475.78,345.3V485.5 M483.05,345.3V485.5 M489.55,345.3V485.5 M498.52,345.3V485.5 M507.01,345.3V485.5 M513.23,345.3V485.5 M521.11,345.3V485.5 M528.73,345.3V485.5 M534.19,345.3V485.5 M543.20,345.3V485.5 M557.07,345.3V485.5" stroke="#fff" stroke-opacity="0.55" stroke-width="0.7" fill="none" clip-path="url(#cf2)"/>
<g clip-path="url(#cf2)">
<line x1="59.15" y1="345.3" x2="59.15" y2="485.5" stroke="#dcdcf0" stroke-width="0.9" stroke-opacity="0.55"/>
<line x1="130.00" y1="345.3" x2="130.00" y2="485.5" stroke="#dcdcf0" stroke-width="0.9" stroke-opacity="0.55"/>
<line x1="200.85" y1="345.3" x2="200.85" y2="485.5" stroke="#dcdcf0" stroke-width="0.9" stroke-opacity="0.55"/>
<line x1="271.70" y1="345.3" x2="271.70" y2="485.5" stroke="#dcdcf0" stroke-width="0.9" stroke-opacity="0.55"/>
<line x1="342.55" y1="345.3" x2="342.55" y2="485.5" stroke="#dcdcf0" stroke-width="0.9" stroke-opacity="0.55"/>
<line x1="413.40" y1="345.3" x2="413.40" y2="485.5" stroke="#dcdcf0" stroke-width="0.9" stroke-opacity="0.55"/>
<line x1="484.25" y1="345.3" x2="484.25" y2="485.5" stroke="#dcdcf0" stroke-width="0.9" stroke-opacity="0.55"/>
<line x1="555.10" y1="345.3" x2="555.10" y2="485.5" stroke="#dcdcf0" stroke-width="0.9" stroke-opacity="0.55"/>
<line x1="625.95" y1="345.3" x2="625.95" y2="485.5" stroke="#dcdcf0" stroke-width="0.9" stroke-opacity="0.55"/>
<line x1="43.5" y1="372.69" x2="682.5" y2="372.69" stroke="#dcdcf0" stroke-width="0.9" stroke-opacity="0.55"/>
<line x1="43.5" y1="476.01" x2="682.5" y2="476.01" stroke="#dcdcf0" stroke-width="0.9" stroke-opacity="0.55"/>
</g>
<line x1="43.5" y1="424.35" x2="682.5" y2="424.35" stroke="#000" stroke-width="1"/>
<path d="M78.60,401.09 L79.93,396.49 L81.25,395.78 L82.48,407.22 L84.01,422.09 L85.55,411.31 L86.77,404.16 L88.61,400.07 L90.45,395.47 L92.19,400.07 L93.72,411.31 L95.25,420.51 L97.30,426.99 L99.34,420.51 L100.87,410.29 L102.10,407.22 L103.43,406.71 L104.66,395.98 L105.78,388.83 L107.01,395.98 L108.23,402.63 L109.56,394.96 L110.89,390.87 L111.91,387.81 L113.14,394.96 L114.16,382.70 L115.49,378.61 L116.71,389.85 L118.04,393.94 L119.06,416.42 L120.29,417.95 L121.31,421.58 L123.56,414.38 L124.89,411.82 L126.22,405.69 L127.44,414.38 L130.00,415.40 L131.02,420.51 L132.04,445.08 L133.58,424.34 L134.60,420.51 L136.34,416.42 L137.66,409.27 L139.20,400.58 L140.73,410.29 L142.06,416.42 L143.80,418.47 L144.82,428.22 L146.04,451.21 L147.17,424.34 L148.19,414.38 L149.42,405.18 L150.95,404.67 L151.97,398.03 L153.30,390.87 L154.52,405.18 L155.75,408.25 L157.08,417.44 L158.41,403.14 L159.63,389.85 L161.17,375.55 L162.50,358.17 L163.93,351.53 L165.25,358.17 L166.79,373.50 L168.01,378.10 L168.83,377.59 L169.65,395.98 L170.87,413.36 L172.10,428.22 L174.45,410.29 L176.80,394.76 L178.23,400.07 L180.07,400.58 L181.40,390.87 L182.63,384.74 L183.85,390.87 L185.49,384.23 L187.22,382.19 L188.76,389.34 L189.78,389.85 L191.11,411.31 L192.33,405.18 L193.87,400.58 L195.91,401.09 L197.24,400.07 L198.47,384.74 L200.00,386.28 L201.53,388.83 L202.86,385.77 L204.09,380.66 L205.31,401.09 L206.64,406.20 L207.97,409.27 L209.20,420.51 L210.01,424.34 L211.24,433.12 L212.47,427.20 L213.80,424.34 L214.31,420.51 L215.53,411.31 L217.07,401.09 L218.39,415.40 L219.42,424.34 L220.44,438.44 L221.66,436.90 L222.99,445.59 L224.32,448.66 L225.55,449.88 L227.08,447.63 L228.10,440.48 L229.43,436.39 L230.66,427.20 L231.88,424.34 L232.70,425.15 L233.52,429.24 L234.74,425.36 L235.97,427.20 L237.30,433.33 L238.63,438.44 L240.36,436.90 L241.90,442.01 L243.43,435.37 L244.96,424.34 L245.98,421.07 L247.82,412.33 L249.05,407.74 L250.58,411.31 L252.32,411.82 L253.65,405.18 L255.18,406.00 L256.00,411.31 L257.22,408.25 L258.45,413.36 L259.78,420.51 L260.29,424.34 L261.11,430.26 L262.33,424.34 L263.36,422.09 L264.89,422.60 L266.42,421.07 L267.95,422.60 L268.67,424.34 L270.00,434.35 L271.02,438.44 L272.25,443.04 L273.58,441.50 L275.11,439.46 L276.34,433.33 L277.36,424.34 L278.69,419.02 L280.22,423.11 L281.04,424.34 L282.26,434.86 L283.80,434.35 L285.33,438.44 L286.55,443.34 L287.58,433.33 L288.19,424.34 L288.90,401.09 L289.93,399.05 L291.25,390.87 L292.48,386.28 L294.01,382.90 L295.34,388.83 L296.36,395.98 L297.39,397.01 L298.61,408.25 L299.84,409.27 L301.88,426.69 L303.21,403.14 L304.23,403.14 L305.56,398.54 L306.79,408.25 L308.01,409.27 L309.34,416.93 L310.36,415.40 L311.39,413.36 L312.41,417.44 L313.43,411.31 L314.96,395.98 L316.19,391.08 L317.21,401.09 L318.03,424.34 L318.85,435.37 L320.07,429.24 L321.60,427.71 L322.63,424.34 L323.14,420.51 L324.36,395.98 L325.69,374.52 L327.02,379.63 L328.25,382.70 L329.27,380.66 L330.29,374.52 L331.31,390.87 L332.33,424.34 L332.84,438.44 L333.87,433.33 L335.40,433.12 L336.93,439.46 L337.95,430.26 L338.67,421.07 L340.00,424.34 L341.53,420.55 L342.55,424.34 L344.09,433.33 L344.90,458.87 L345.82,478.29 L347.15,474.71 L348.69,473.18 L350.22,469.09 L351.44,465.01 L352.77,457.34 L354.31,455.81 L355.84,454.28 L357.17,453.77 L357.88,457.85 L358.70,448.66 L359.93,466.03 L360.95,451.72 L362.28,450.70 L363.71,453.77 L365.04,456.32 L366.36,457.85 L367.59,458.36 L369.12,462.96 L370.66,462.45 L371.88,461.94 L372.90,443.55 L374.23,457.34 L374.95,458.87 L376.28,456.83 L377.30,459.90 L378.83,462.45 L380.36,466.54 L381.90,467.05 L383.43,469.60 L384.96,468.07 L386.19,468.07 L387.52,462.96 L388.85,462.96 L390.07,467.05 L391.60,473.18 L392.93,472.16 L394.16,473.18 L395.49,474.41 L396.71,470.12 L398.25,466.03 L399.78,463.98 L401.11,453.77 L402.33,435.37 L403.56,453.77 L404.89,463.98 L406.42,467.05 L407.95,468.58 L410.00,469.09 L412.04,460.92 L414.09,451.72 L415.62,438.44 L416.95,424.34 L417.66,421.58 L418.38,430.26 L419.71,446.61 L421.24,455.81 L423.28,462.96 L425.33,469.09 L427.37,473.18 L428.60,467.05 L429.42,448.66 L429.93,424.34 L431.46,402.12 L432.99,401.09 L434.32,394.96 L435.75,407.22 L437.08,417.44 L438.61,422.09 L440.15,417.44 L441.17,424.34 L442.50,413.36 L443.93,407.74 L445.25,412.33 L446.58,416.42 L447.81,419.49 L449.34,416.42 L450.36,414.89 L451.69,417.44 L452.92,422.60 L454.45,417.95 L455.98,420.00 L457.01,424.34 L458.03,436.39 L459.05,439.97 L460.58,445.08 L462.12,441.50 L463.65,438.44 L465.18,428.22 L466.20,422.09 L467.74,409.27 L469.06,406.20 L470.09,403.34 L471.11,411.31 L471.62,424.34 L472.33,448.66 L473.36,465.01 L474.38,470.12 L475.91,463.98 L477.44,456.83 L478.98,450.70 L480.00,447.63 L481.53,433.33 L483.07,426.17 L484.60,424.34 L486.34,415.96 L486.95,424.34 L487.66,431.28 L488.99,430.26 L489.71,426.17 L491.04,426.69 L492.26,428.22 L493.80,432.31 L495.33,436.39 L496.86,438.95 L498.19,438.95 L499.42,433.33 L500.44,424.34 L501.15,421.88 L501.77,426.69 L502.99,411.82 L504.32,424.34 L505.55,431.28 L507.08,440.48 L508.61,449.68 L510.15,454.79 L511.68,453.25 L512.90,455.81 L514.54,471.14 L515.77,458.87 L516.79,451.21 L518.01,453.77 L519.34,443.55 L520.06,424.34 L521.90,405.18 L523.43,415.40 L525.47,400.89 L527.21,424.34 L528.54,463.47 L530.07,428.22 L530.58,424.34 L533.14,403.14 L534.67,400.07 L536.00,403.14 L537.22,410.29 L538.76,413.36 L539.78,423.11 L541.01,428.22 L542.33,422.09 L543.36,417.44 L544.89,416.42 L545.91,414.38 L547.44,412.33 L548.67,410.80 L550.00,408.25 L551.53,401.09 L552.86,394.96 L553.88,392.41 L555.11,398.03 L556.34,398.54 L557.36,409.27 L557.97,424.34 L558.69,443.55 L559.71,451.72 L561.04,453.77 L562.26,453.97 L563.80,452.74 L565.12,447.63 L566.35,445.59 L567.58,442.52 L568.90,438.95 L569.93,438.44 L570.95,448.66 L571.97,455.81 L572.69,458.36 L574.01,448.66 L575.34,447.63 L576.77,445.59 L578.10,442.52 L579.12,441.71 L580.45,448.66 L581.47,451.21 L582.70,448.66 L584.23,441.50 L585.77,433.33 L586.99,424.34 L588.01,406.41 L589.34,418.00 L590.36,423.11 L591.39,426.69 L592.71,423.62 L593.94,422.60 L594.96,431.80 L596.19,427.20 L597.21,424.34 L598.85,410.29 L600.58,422.09 L601.40,424.34 L602.32,428.22 L603.65,433.33 L604.98,440.48 L606.20,444.57 L607.74,446.61 L609.27,450.70 L610.49,453.25 L611.82,451.72 L612.84,452.23 L613.87,457.85 L614.99,448.66 L616.01,449.68 L616.93,444.57 L617.75,437.93 L618.67,443.04 L619.60,442.52 L620.62,433.33 L621.64,428.22 L622.36,424.34 L623.17,410.29 L624.20,408.25 L625.42,386.79 L626.75,385.25 L628.08,391.90 L629.31,377.08 L630.33,383.72 L631.86,381.68 L633.19,379.63 L634.21,372.48 L635.44,366.86 L636.97,371.46 L638.30,378.61 L639.32,380.66 L640.55,380.15 L641.77,385.77 L642.79,391.90 L643.82,387.81 L644.84,394.96 L645.66,406.20 L646.88,416.42 L647.70,417.44 L649.23,412.33 L650.56,407.74 L651.58,405.18 L653.12,390.36" fill="none" stroke="#000" stroke-width="1.5" stroke-linejoin="round" stroke-linecap="butt"/>
<rect x="43.5" y="345.3" width="639.00" height="140.20" fill="none" stroke="#1a1a1a" stroke-width="1"/>
<line x1="59.15" y1="485.5" x2="59.15" y2="489.6" stroke="#000" stroke-width="0.9"/>
<line x1="130.00" y1="485.5" x2="130.00" y2="489.6" stroke="#000" stroke-width="0.9"/>
<line x1="200.85" y1="485.5" x2="200.85" y2="489.6" stroke="#000" stroke-width="0.9"/>
<line x1="271.70" y1="485.5" x2="271.70" y2="489.6" stroke="#000" stroke-width="0.9"/>
<line x1="342.55" y1="485.5" x2="342.55" y2="489.6" stroke="#000" stroke-width="0.9"/>
<line x1="413.40" y1="485.5" x2="413.40" y2="489.6" stroke="#000" stroke-width="0.9"/>
<line x1="484.25" y1="485.5" x2="484.25" y2="489.6" stroke="#000" stroke-width="0.9"/>
<line x1="555.10" y1="485.5" x2="555.10" y2="489.6" stroke="#000" stroke-width="0.9"/>
<line x1="625.95" y1="485.5" x2="625.95" y2="489.6" stroke="#000" stroke-width="0.9"/>
<line x1="39.4" y1="372.69" x2="43.5" y2="372.69" stroke="#000" stroke-width="0.9"/>
<text x="34.5" y="377.09" font-size="12.3" text-anchor="end" textLength="7.0" lengthAdjust="spacingAndGlyphs">2</text>
<line x1="39.4" y1="424.35" x2="43.5" y2="424.35" stroke="#000" stroke-width="0.9"/>
<text x="34.5" y="428.75" font-size="12.3" text-anchor="end" textLength="7.0" lengthAdjust="spacingAndGlyphs">0</text>
<line x1="39.4" y1="476.01" x2="43.5" y2="476.01" stroke="#000" stroke-width="0.9"/>
<text x="34.5" y="480.41" font-size="12.3" text-anchor="end" textLength="16.6" lengthAdjust="spacingAndGlyphs">−2</text>
<text transform="translate(9.8,416.60) rotate(-90)" font-size="11.9" text-anchor="middle" textLength="37.2" lengthAdjust="spacingAndGlyphs">SPEI-6</text>
<line x1="59.15" y1="502.8" x2="59.15" y2="643.35" stroke="#b4b4b4" stroke-width="0.9"/>
<line x1="130.00" y1="502.8" x2="130.00" y2="643.35" stroke="#b4b4b4" stroke-width="0.9"/>
<line x1="200.85" y1="502.8" x2="200.85" y2="643.35" stroke="#b4b4b4" stroke-width="0.9"/>
<line x1="271.70" y1="502.8" x2="271.70" y2="643.35" stroke="#b4b4b4" stroke-width="0.9"/>
<line x1="342.55" y1="502.8" x2="342.55" y2="643.35" stroke="#b4b4b4" stroke-width="0.9"/>
<line x1="413.40" y1="502.8" x2="413.40" y2="643.35" stroke="#b4b4b4" stroke-width="0.9"/>
<line x1="484.25" y1="502.8" x2="484.25" y2="643.35" stroke="#b4b4b4" stroke-width="0.9"/>
<line x1="555.10" y1="502.8" x2="555.10" y2="643.35" stroke="#b4b4b4" stroke-width="0.9"/>
<line x1="625.95" y1="502.8" x2="625.95" y2="643.35" stroke="#b4b4b4" stroke-width="0.9"/>
<line x1="43.5" y1="517.51" x2="682.5" y2="517.51" stroke="#b4b4b4" stroke-width="0.9"/>
<line x1="43.5" y1="547.23" x2="682.5" y2="547.23" stroke="#b4b4b4" stroke-width="0.9"/>
<line x1="43.5" y1="576.95" x2="682.5" y2="576.95" stroke="#b4b4b4" stroke-width="0.9"/>
<line x1="43.5" y1="606.67" x2="682.5" y2="606.67" stroke="#b4b4b4" stroke-width="0.9"/>
<line x1="43.5" y1="636.39" x2="682.5" y2="636.39" stroke="#b4b4b4" stroke-width="0.9"/>
<path d="M85.30,576.95V555.52H85.80V549.90H86.98V545.50H88.16V546.19H89.34V554.74H90.52V557.76H91.70V555.52H92.88V557.93H94.06V562.11H95.24V564.55H96.43V565.05H97.61V561.51H98.79V560.73H99.97V564.04H101.15V566.95H102.33V569.28H103.51V567.96H104.69V557.74H105.87V552.33H107.05V551.64H108.23V546.92H109.41V542.40H110.60V539.36H111.78V535.85H112.96V534.45H114.14V533.47H115.32V535.33H116.50V536.70H117.68V538.35H118.86V547.52H120.04V547.71H121.22V544.05H122.40V544.67H123.58V548.21H124.76V553.46H125.95V561.22H127.13V568.07H128.31V570.84H129.49V571.25H130.67V574.67H131.85V568.47H133.03V566.11H134.21V566.72H135.39V566.48H136.57V566.66H137.75V565.97H138.93V567.00H140.12V569.47H141.30V569.82H142.48V569.82H143.66V568.54H144.84V567.54H146.02V563.79H147.20V559.75H148.38V559.27H149.56V558.52H150.74V559.09H151.92V558.91H153.10V558.58H154.28V558.58H155.47V559.37H156.65V559.60H157.83V552.37H159.01V534.41H160.19V533.59H161.37V523.79H162.55V513.18H163.73V510.29H164.91V512.21H166.09V513.85H167.27V517.01H168.45V518.22H169.64V518.22H170.82V518.79H172.00V522.60H173.18V528.37H174.36V532.61H175.54V532.94H176.72V544.76H177.90V556.48H179.08V558.65H180.26V548.46H181.44V539.54H182.62V537.29H183.80V537.43H184.99V536.55H186.17V535.59H187.35V535.49H188.53V532.73H189.71V535.37H190.89V541.87H192.07V534.98H193.25V531.30H194.43V533.19H195.61V538.95H196.79V542.41H197.97V542.56H199.16V541.87H200.34V540.56H201.52V539.17H202.70V536.68H203.88V534.44H205.06V535.01H206.24V540.04H207.42V547.43H208.60V552.94H209.78V559.23H210.96V563.36H212.14V565.39H213.32V566.47H214.51V566.71H215.69V566.76H216.87V569.10H218.05V577.55H219.23V582.39H220.41V585.45H221.59V586.72H222.77V589.42H223.95V592.93H225.13V595.58H226.31V596.51H227.49V596.96H228.68V596.24H229.86V598.70H231.04V599.38H232.22V598.46H233.40V593.71H234.58V589.49H235.76V587.63H236.94V589.74H238.12V589.47H239.30V587.99H240.48V588.62H241.66V588.56H242.84V586.99H244.03V587.71H245.21V587.21H246.39V583.77H247.57V579.29H248.75V576.33H249.93V571.61H251.11V566.88H252.29V562.41H253.47V559.13H254.65V557.90H255.83V558.45H257.01V560.36H258.20V563.00H259.38V563.27H260.56V562.51H261.74V563.69H262.92V565.26H264.10V567.66H265.28V570.88H266.46V574.68H267.64V577.47H268.82V580.69H270.00V583.39H271.18V584.50H272.36V582.79H273.55V580.34H274.73V581.55H275.91V585.53H277.09V584.53H278.27V582.32H279.45V584.26H280.63V585.21H281.81V590.54H282.99V589.55H284.17V585.96H285.35V584.02H286.53V580.97H287.72V576.17H288.90V570.79H290.08V561.34H291.26V556.33H292.44V551.25H293.62V545.64H294.80V543.51H295.98V543.70H297.16V543.43H298.34V542.16H299.52V541.07H300.70V543.64H301.88V545.32H303.07V542.91H304.25V544.15H305.43V549.74H306.61V558.91H307.79V569.58H308.97V566.32H310.15V558.34H311.33V557.16H312.51V557.83H313.69V555.24H314.87V554.75H316.05V562.25H317.24V569.95H318.42V575.72H319.60V572.78H320.78V566.67H321.96V561.74H323.14V557.77H324.32V553.44H325.50V551.54H326.68V552.77H327.86V553.36H329.04V554.68H330.22V550.14H331.40V550.94H332.59V551.10H333.77V551.92H334.95V556.30H336.13V558.67H337.31V563.56H338.49V569.08H339.67V575.05H340.85V581.96H342.03V586.51H343.21V591.23H344.39V595.96H345.57V600.68H346.76V605.44H347.94V610.37H349.12V615.36H350.30V618.90H351.48V621.62H352.66V623.35H353.84V624.09H355.02V624.48H356.20V624.88H357.38V624.07H358.56V621.96H359.74V619.05H360.92V615.81H362.11V615.22H363.29V617.47H364.47V618.94H365.65V618.94H366.83V619.38H368.01V618.44H369.19V617.70H370.37V617.15H371.55V615.87H372.73V616.11H373.91V620.38H375.09V622.16H376.28V623.64H377.46V625.08H378.64V625.26H379.82V624.99H381.00V625.28H382.18V625.74H383.36V625.26H384.54V624.19H385.72V625.31H386.90V627.58H388.08V629.85H389.26V632.70H390.44V635.17H391.63V636.11H392.81V635.63H393.99V634.84H395.17V633.94H396.35V631.41H397.53V630.18H398.71V630.18H399.89V630.24H401.07V630.64H402.25V630.90H403.43V630.42H404.61V629.91H405.80V630.76H406.98V630.69H408.16V625.97H409.34V624.16H410.52V624.05H411.70V625.53H412.88V624.17H414.06V623.88H415.24V624.62H416.42V619.75H417.60V614.36H418.78V615.54H419.96V616.20H421.15V617.14H422.33V617.23H423.51V616.11H424.69V617.15H425.87V619.08H427.05V620.25H428.23V616.16H429.41V612.08H430.59V610.60H431.77V607.11H432.95V597.07H434.13V587.61H435.32V579.13H436.50V572.51H437.68V564.34H438.86V559.44H440.04V557.00H441.22V556.59H442.40V559.04H443.58V562.82H444.76V565.87H445.94V567.44H447.12V570.56H448.30V569.29H449.48V563.62H450.67V562.37H451.85V567.02H453.03V569.44H454.21V570.22H455.39V570.44H456.57V571.28H457.75V575.87H458.93V581.18H460.11V586.03H461.29V585.84H462.47V586.40H463.65V587.57H464.84V584.82H466.02V580.54H467.20V578.34H468.38V578.98H469.56V579.50H470.74V584.30H471.92V590.70H473.10V594.35H474.28V595.26H475.46V595.81H476.64V596.20H477.82V600.99H479.00V603.91H480.19V603.88H481.37V604.63H482.55V604.57H483.73V603.45H484.91V596.37H486.09V590.03H487.27V585.33H488.45V580.00H489.63V578.07H490.81V579.16H491.99V579.91H493.17V583.09H494.36V587.58H495.54V589.49H496.72V588.05H497.90V586.11H499.08V584.54H500.26V583.13H501.44V581.00H502.62V581.42H503.80V585.65H504.98V589.69H506.16V591.89H507.34V595.56H508.52V599.54H509.71V597.09H510.89V598.00H512.07V599.47H513.25V604.27H514.43V609.26H515.61V611.35H516.79V614.07H517.97V612.59H519.15V602.67H520.33V589.99H521.51V582.76H522.69V581.89H523.88V583.69H525.06V583.55H526.24V582.65H527.42V582.16H528.60V577.73H529.78V570.88H530.96V560.38H532.14V552.13H533.32V551.89H534.50V566.21H535.68V570.49H536.86V567.15H538.04V565.82H539.23V564.17H540.41V560.54H541.59V557.00H542.77V556.80H543.95V560.68H545.13V561.07H546.31V566.09H547.49V569.34H548.67V561.06H549.85V558.40H551.03V556.30H552.21V552.39H553.40V553.52H554.58V554.03H555.76V555.05H556.94V560.29H558.12V568.55H559.30V574.96H560.48V580.20H561.66V587.20H562.84V594.13H564.02V599.53H565.20V603.19H566.38V605.69H567.56V606.09H568.75V606.17H569.93V608.21H571.11V609.66H572.29V606.71H573.47V604.23H574.65V602.99H575.83V602.42H577.01V603.12H578.19V605.58H579.37V607.42H580.55V608.47H581.73V607.30H582.92V603.99H584.10V599.67H585.28V596.07H586.46V593.25H587.64V591.35H588.82V590.77H590.00V588.96H591.18V586.87H592.36V580.88H593.54V575.28H594.72V573.40H595.90V575.84H597.08V575.20H598.27V573.40H599.45V572.90H600.63V573.58H601.81V582.30H602.99V584.58H604.17V586.85H605.35V589.67H606.53V593.39H607.71V596.76H608.89V599.37H610.07V601.34H611.25V602.96H612.44V604.53H613.62V605.77H614.80V606.16H615.98V609.58H617.16V607.77H618.34V608.05H619.52V602.79H620.70V593.31H621.88V586.42H623.06V580.21H624.24V576.14H625.42V571.72H626.60V568.51H627.79V561.24H628.97V548.68H630.15V535.79H631.33V526.29H632.51V516.60H633.69V511.65H634.87V511.03H636.05V515.55H637.23V520.56H638.41V518.75H639.59V517.38H640.77V516.32H641.96V516.68H643.14V519.70H644.32V526.77H645.50V536.45H646.68V540.94H647.86V543.63H649.04V550.51H650.22V546.53H651.40V547.34H652.58V547.34H653.62V576.95Z" fill="url(#gb3)" clip-path="url(#ca3)"/>
<path d="M85.30,576.95V555.52H85.80V549.90H86.98V545.50H88.16V546.19H89.34V554.74H90.52V557.76H91.70V555.52H92.88V557.93H94.06V562.11H95.24V564.55H96.43V565.05H97.61V561.51H98.79V560.73H99.97V564.04H101.15V566.95H102.33V569.28H103.51V567.96H104.69V557.74H105.87V552.33H107.05V551.64H108.23V546.92H109.41V542.40H110.60V539.36H111.78V535.85H112.96V534.45H114.14V533.47H115.32V535.33H116.50V536.70H117.68V538.35H118.86V547.52H120.04V547.71H121.22V544.05H122.40V544.67H123.58V548.21H124.76V553.46H125.95V561.22H127.13V568.07H128.31V570.84H129.49V571.25H130.67V574.67H131.85V568.47H133.03V566.11H134.21V566.72H135.39V566.48H136.57V566.66H137.75V565.97H138.93V567.00H140.12V569.47H141.30V569.82H142.48V569.82H143.66V568.54H144.84V567.54H146.02V563.79H147.20V559.75H148.38V559.27H149.56V558.52H150.74V559.09H151.92V558.91H153.10V558.58H154.28V558.58H155.47V559.37H156.65V559.60H157.83V552.37H159.01V534.41H160.19V533.59H161.37V523.79H162.55V513.18H163.73V510.29H164.91V512.21H166.09V513.85H167.27V517.01H168.45V518.22H169.64V518.22H170.82V518.79H172.00V522.60H173.18V528.37H174.36V532.61H175.54V532.94H176.72V544.76H177.90V556.48H179.08V558.65H180.26V548.46H181.44V539.54H182.62V537.29H183.80V537.43H184.99V536.55H186.17V535.59H187.35V535.49H188.53V532.73H189.71V535.37H190.89V541.87H192.07V534.98H193.25V531.30H194.43V533.19H195.61V538.95H196.79V542.41H197.97V542.56H199.16V541.87H200.34V540.56H201.52V539.17H202.70V536.68H203.88V534.44H205.06V535.01H206.24V540.04H207.42V547.43H208.60V552.94H209.78V559.23H210.96V563.36H212.14V565.39H213.32V566.47H214.51V566.71H215.69V566.76H216.87V569.10H218.05V577.55H219.23V582.39H220.41V585.45H221.59V586.72H222.77V589.42H223.95V592.93H225.13V595.58H226.31V596.51H227.49V596.96H228.68V596.24H229.86V598.70H231.04V599.38H232.22V598.46H233.40V593.71H234.58V589.49H235.76V587.63H236.94V589.74H238.12V589.47H239.30V587.99H240.48V588.62H241.66V588.56H242.84V586.99H244.03V587.71H245.21V587.21H246.39V583.77H247.57V579.29H248.75V576.33H249.93V571.61H251.11V566.88H252.29V562.41H253.47V559.13H254.65V557.90H255.83V558.45H257.01V560.36H258.20V563.00H259.38V563.27H260.56V562.51H261.74V563.69H262.92V565.26H264.10V567.66H265.28V570.88H266.46V574.68H267.64V577.47H268.82V580.69H270.00V583.39H271.18V584.50H272.36V582.79H273.55V580.34H274.73V581.55H275.91V585.53H277.09V584.53H278.27V582.32H279.45V584.26H280.63V585.21H281.81V590.54H282.99V589.55H284.17V585.96H285.35V584.02H286.53V580.97H287.72V576.17H288.90V570.79H290.08V561.34H291.26V556.33H292.44V551.25H293.62V545.64H294.80V543.51H295.98V543.70H297.16V543.43H298.34V542.16H299.52V541.07H300.70V543.64H301.88V545.32H303.07V542.91H304.25V544.15H305.43V549.74H306.61V558.91H307.79V569.58H308.97V566.32H310.15V558.34H311.33V557.16H312.51V557.83H313.69V555.24H314.87V554.75H316.05V562.25H317.24V569.95H318.42V575.72H319.60V572.78H320.78V566.67H321.96V561.74H323.14V557.77H324.32V553.44H325.50V551.54H326.68V552.77H327.86V553.36H329.04V554.68H330.22V550.14H331.40V550.94H332.59V551.10H333.77V551.92H334.95V556.30H336.13V558.67H337.31V563.56H338.49V569.08H339.67V575.05H340.85V581.96H342.03V586.51H343.21V591.23H344.39V595.96H345.57V600.68H346.76V605.44H347.94V610.37H349.12V615.36H350.30V618.90H351.48V621.62H352.66V623.35H353.84V624.09H355.02V624.48H356.20V624.88H357.38V624.07H358.56V621.96H359.74V619.05H360.92V615.81H362.11V615.22H363.29V617.47H364.47V618.94H365.65V618.94H366.83V619.38H368.01V618.44H369.19V617.70H370.37V617.15H371.55V615.87H372.73V616.11H373.91V620.38H375.09V622.16H376.28V623.64H377.46V625.08H378.64V625.26H379.82V624.99H381.00V625.28H382.18V625.74H383.36V625.26H384.54V624.19H385.72V625.31H386.90V627.58H388.08V629.85H389.26V632.70H390.44V635.17H391.63V636.11H392.81V635.63H393.99V634.84H395.17V633.94H396.35V631.41H397.53V630.18H398.71V630.18H399.89V630.24H401.07V630.64H402.25V630.90H403.43V630.42H404.61V629.91H405.80V630.76H406.98V630.69H408.16V625.97H409.34V624.16H410.52V624.05H411.70V625.53H412.88V624.17H414.06V623.88H415.24V624.62H416.42V619.75H417.60V614.36H418.78V615.54H419.96V616.20H421.15V617.14H422.33V617.23H423.51V616.11H424.69V617.15H425.87V619.08H427.05V620.25H428.23V616.16H429.41V612.08H430.59V610.60H431.77V607.11H432.95V597.07H434.13V587.61H435.32V579.13H436.50V572.51H437.68V564.34H438.86V559.44H440.04V557.00H441.22V556.59H442.40V559.04H443.58V562.82H444.76V565.87H445.94V567.44H447.12V570.56H448.30V569.29H449.48V563.62H450.67V562.37H451.85V567.02H453.03V569.44H454.21V570.22H455.39V570.44H456.57V571.28H457.75V575.87H458.93V581.18H460.11V586.03H461.29V585.84H462.47V586.40H463.65V587.57H464.84V584.82H466.02V580.54H467.20V578.34H468.38V578.98H469.56V579.50H470.74V584.30H471.92V590.70H473.10V594.35H474.28V595.26H475.46V595.81H476.64V596.20H477.82V600.99H479.00V603.91H480.19V603.88H481.37V604.63H482.55V604.57H483.73V603.45H484.91V596.37H486.09V590.03H487.27V585.33H488.45V580.00H489.63V578.07H490.81V579.16H491.99V579.91H493.17V583.09H494.36V587.58H495.54V589.49H496.72V588.05H497.90V586.11H499.08V584.54H500.26V583.13H501.44V581.00H502.62V581.42H503.80V585.65H504.98V589.69H506.16V591.89H507.34V595.56H508.52V599.54H509.71V597.09H510.89V598.00H512.07V599.47H513.25V604.27H514.43V609.26H515.61V611.35H516.79V614.07H517.97V612.59H519.15V602.67H520.33V589.99H521.51V582.76H522.69V581.89H523.88V583.69H525.06V583.55H526.24V582.65H527.42V582.16H528.60V577.73H529.78V570.88H530.96V560.38H532.14V552.13H533.32V551.89H534.50V566.21H535.68V570.49H536.86V567.15H538.04V565.82H539.23V564.17H540.41V560.54H541.59V557.00H542.77V556.80H543.95V560.68H545.13V561.07H546.31V566.09H547.49V569.34H548.67V561.06H549.85V558.40H551.03V556.30H552.21V552.39H553.40V553.52H554.58V554.03H555.76V555.05H556.94V560.29H558.12V568.55H559.30V574.96H560.48V580.20H561.66V587.20H562.84V594.13H564.02V599.53H565.20V603.19H566.38V605.69H567.56V606.09H568.75V606.17H569.93V608.21H571.11V609.66H572.29V606.71H573.47V604.23H574.65V602.99H575.83V602.42H577.01V603.12H578.19V605.58H579.37V607.42H580.55V608.47H581.73V607.30H582.92V603.99H584.10V599.67H585.28V596.07H586.46V593.25H587.64V591.35H588.82V590.77H590.00V588.96H591.18V586.87H592.36V580.88H593.54V575.28H594.72V573.40H595.90V575.84H597.08V575.20H598.27V573.40H599.45V572.90H600.63V573.58H601.81V582.30H602.99V584.58H604.17V586.85H605.35V589.67H606.53V593.39H607.71V596.76H608.89V599.37H610.07V601.34H611.25V602.96H612.44V604.53H613.62V605.77H614.80V606.16H615.98V609.58H617.16V607.77H618.34V608.05H619.52V602.79H620.70V593.31H621.88V586.42H623.06V580.21H624.24V576.14H625.42V571.72H626.60V568.51H627.79V561.24H628.97V548.68H630.15V535.79H631.33V526.29H632.51V516.60H633.69V511.65H634.87V511.03H636.05V515.55H637.23V520.56H638.41V518.75H639.59V517.38H640.77V516.32H641.96V516.68H643.14V519.70H644.32V526.77H645.50V536.45H646.68V540.94H647.86V543.63H649.04V550.51H650.22V546.53H651.40V547.34H652.58V547.34H653.62V576.95Z" fill="url(#gr3)" clip-path="url(#cb3)"/>
<clipPath id="cf3"><path d="M85.30,576.95V555.52H85.80V549.90H86.98V545.50H88.16V546.19H89.34V554.74H90.52V557.76H91.70V555.52H92.88V557.93H94.06V562.11H95.24V564.55H96.43V565.05H97.61V561.51H98.79V560.73H99.97V564.04H101.15V566.95H102.33V569.28H103.51V567.96H104.69V557.74H105.87V552.33H107.05V551.64H108.23V546.92H109.41V542.40H110.60V539.36H111.78V535.85H112.96V534.45H114.14V533.47H115.32V535.33H116.50V536.70H117.68V538.35H118.86V547.52H120.04V547.71H121.22V544.05H122.40V544.67H123.58V548.21H124.76V553.46H125.95V561.22H127.13V568.07H128.31V570.84H129.49V571.25H130.67V574.67H131.85V568.47H133.03V566.11H134.21V566.72H135.39V566.48H136.57V566.66H137.75V565.97H138.93V567.00H140.12V569.47H141.30V569.82H142.48V569.82H143.66V568.54H144.84V567.54H146.02V563.79H147.20V559.75H148.38V559.27H149.56V558.52H150.74V559.09H151.92V558.91H153.10V558.58H154.28V558.58H155.47V559.37H156.65V559.60H157.83V552.37H159.01V534.41H160.19V533.59H161.37V523.79H162.55V513.18H163.73V510.29H164.91V512.21H166.09V513.85H167.27V517.01H168.45V518.22H169.64V518.22H170.82V518.79H172.00V522.60H173.18V528.37H174.36V532.61H175.54V532.94H176.72V544.76H177.90V556.48H179.08V558.65H180.26V548.46H181.44V539.54H182.62V537.29H183.80V537.43H184.99V536.55H186.17V535.59H187.35V535.49H188.53V532.73H189.71V535.37H190.89V541.87H192.07V534.98H193.25V531.30H194.43V533.19H195.61V538.95H196.79V542.41H197.97V542.56H199.16V541.87H200.34V540.56H201.52V539.17H202.70V536.68H203.88V534.44H205.06V535.01H206.24V540.04H207.42V547.43H208.60V552.94H209.78V559.23H210.96V563.36H212.14V565.39H213.32V566.47H214.51V566.71H215.69V566.76H216.87V569.10H218.05V577.55H219.23V582.39H220.41V585.45H221.59V586.72H222.77V589.42H223.95V592.93H225.13V595.58H226.31V596.51H227.49V596.96H228.68V596.24H229.86V598.70H231.04V599.38H232.22V598.46H233.40V593.71H234.58V589.49H235.76V587.63H236.94V589.74H238.12V589.47H239.30V587.99H240.48V588.62H241.66V588.56H242.84V586.99H244.03V587.71H245.21V587.21H246.39V583.77H247.57V579.29H248.75V576.33H249.93V571.61H251.11V566.88H252.29V562.41H253.47V559.13H254.65V557.90H255.83V558.45H257.01V560.36H258.20V563.00H259.38V563.27H260.56V562.51H261.74V563.69H262.92V565.26H264.10V567.66H265.28V570.88H266.46V574.68H267.64V577.47H268.82V580.69H270.00V583.39H271.18V584.50H272.36V582.79H273.55V580.34H274.73V581.55H275.91V585.53H277.09V584.53H278.27V582.32H279.45V584.26H280.63V585.21H281.81V590.54H282.99V589.55H284.17V585.96H285.35V584.02H286.53V580.97H287.72V576.17H288.90V570.79H290.08V561.34H291.26V556.33H292.44V551.25H293.62V545.64H294.80V543.51H295.98V543.70H297.16V543.43H298.34V542.16H299.52V541.07H300.70V543.64H301.88V545.32H303.07V542.91H304.25V544.15H305.43V549.74H306.61V558.91H307.79V569.58H308.97V566.32H310.15V558.34H311.33V557.16H312.51V557.83H313.69V555.24H314.87V554.75H316.05V562.25H317.24V569.95H318.42V575.72H319.60V572.78H320.78V566.67H321.96V561.74H323.14V557.77H324.32V553.44H325.50V551.54H326.68V552.77H327.86V553.36H329.04V554.68H330.22V550.14H331.40V550.94H332.59V551.10H333.77V551.92H334.95V556.30H336.13V558.67H337.31V563.56H338.49V569.08H339.67V575.05H340.85V581.96H342.03V586.51H343.21V591.23H344.39V595.96H345.57V600.68H346.76V605.44H347.94V610.37H349.12V615.36H350.30V618.90H351.48V621.62H352.66V623.35H353.84V624.09H355.02V624.48H356.20V624.88H357.38V624.07H358.56V621.96H359.74V619.05H360.92V615.81H362.11V615.22H363.29V617.47H364.47V618.94H365.65V618.94H366.83V619.38H368.01V618.44H369.19V617.70H370.37V617.15H371.55V615.87H372.73V616.11H373.91V620.38H375.09V622.16H376.28V623.64H377.46V625.08H378.64V625.26H379.82V624.99H381.00V625.28H382.18V625.74H383.36V625.26H384.54V624.19H385.72V625.31H386.90V627.58H388.08V629.85H389.26V632.70H390.44V635.17H391.63V636.11H392.81V635.63H393.99V634.84H395.17V633.94H396.35V631.41H397.53V630.18H398.71V630.18H399.89V630.24H401.07V630.64H402.25V630.90H403.43V630.42H404.61V629.91H405.80V630.76H406.98V630.69H408.16V625.97H409.34V624.16H410.52V624.05H411.70V625.53H412.88V624.17H414.06V623.88H415.24V624.62H416.42V619.75H417.60V614.36H418.78V615.54H419.96V616.20H421.15V617.14H422.33V617.23H423.51V616.11H424.69V617.15H425.87V619.08H427.05V620.25H428.23V616.16H429.41V612.08H430.59V610.60H431.77V607.11H432.95V597.07H434.13V587.61H435.32V579.13H436.50V572.51H437.68V564.34H438.86V559.44H440.04V557.00H441.22V556.59H442.40V559.04H443.58V562.82H444.76V565.87H445.94V567.44H447.12V570.56H448.30V569.29H449.48V563.62H450.67V562.37H451.85V567.02H453.03V569.44H454.21V570.22H455.39V570.44H456.57V571.28H457.75V575.87H458.93V581.18H460.11V586.03H461.29V585.84H462.47V586.40H463.65V587.57H464.84V584.82H466.02V580.54H467.20V578.34H468.38V578.98H469.56V579.50H470.74V584.30H471.92V590.70H473.10V594.35H474.28V595.26H475.46V595.81H476.64V596.20H477.82V600.99H479.00V603.91H480.19V603.88H481.37V604.63H482.55V604.57H483.73V603.45H484.91V596.37H486.09V590.03H487.27V585.33H488.45V580.00H489.63V578.07H490.81V579.16H491.99V579.91H493.17V583.09H494.36V587.58H495.54V589.49H496.72V588.05H497.90V586.11H499.08V584.54H500.26V583.13H501.44V581.00H502.62V581.42H503.80V585.65H504.98V589.69H506.16V591.89H507.34V595.56H508.52V599.54H509.71V597.09H510.89V598.00H512.07V599.47H513.25V604.27H514.43V609.26H515.61V611.35H516.79V614.07H517.97V612.59H519.15V602.67H520.33V589.99H521.51V582.76H522.69V581.89H523.88V583.69H525.06V583.55H526.24V582.65H527.42V582.16H528.60V577.73H529.78V570.88H530.96V560.38H532.14V552.13H533.32V551.89H534.50V566.21H535.68V570.49H536.86V567.15H538.04V565.82H539.23V564.17H540.41V560.54H541.59V557.00H542.77V556.80H543.95V560.68H545.13V561.07H546.31V566.09H547.49V569.34H548.67V561.06H549.85V558.40H551.03V556.30H552.21V552.39H553.40V553.52H554.58V554.03H555.76V555.05H556.94V560.29H558.12V568.55H559.30V574.96H560.48V580.20H561.66V587.20H562.84V594.13H564.02V599.53H565.20V603.19H566.38V605.69H567.56V606.09H568.75V606.17H569.93V608.21H571.11V609.66H572.29V606.71H573.47V604.23H574.65V602.99H575.83V602.42H577.01V603.12H578.19V605.58H579.37V607.42H580.55V608.47H581.73V607.30H582.92V603.99H584.10V599.67H585.28V596.07H586.46V593.25H587.64V591.35H588.82V590.77H590.00V588.96H591.18V586.87H592.36V580.88H593.54V575.28H594.72V573.40H595.90V575.84H597.08V575.20H598.27V573.40H599.45V572.90H600.63V573.58H601.81V582.30H602.99V584.58H604.17V586.85H605.35V589.67H606.53V593.39H607.71V596.76H608.89V599.37H610.07V601.34H611.25V602.96H612.44V604.53H613.62V605.77H614.80V606.16H615.98V609.58H617.16V607.77H618.34V608.05H619.52V602.79H620.70V593.31H621.88V586.42H623.06V580.21H624.24V576.14H625.42V571.72H626.60V568.51H627.79V561.24H628.97V548.68H630.15V535.79H631.33V526.29H632.51V516.60H633.69V511.65H634.87V511.03H636.05V515.55H637.23V520.56H638.41V518.75H639.59V517.38H640.77V516.32H641.96V516.68H643.14V519.70H644.32V526.77H645.50V536.45H646.68V540.94H647.86V543.63H649.04V550.51H650.22V546.53H651.40V547.34H652.58V547.34H653.62V576.95Z"/></clipPath>
<path d="M71.70,502.8V643.35 M75.62,502.8V643.35 M79.54,502.8V643.35 M83.46,502.8V643.35 M87.38,502.8V643.35 M91.30,502.8V643.35 M95.22,502.8V643.35 M99.14,502.8V643.35 M103.06,502.8V643.35 M106.98,502.8V643.35 M110.90,502.8V643.35 M114.82,502.8V643.35 M118.74,502.8V643.35 M122.66,502.8V643.35 M126.58,502.8V643.35 M130.50,502.8V643.35 M134.42,502.8V643.35 M138.34,502.8V643.35 M142.26,502.8V643.35 M146.18,502.8V643.35 M150.10,502.8V643.35 M154.02,502.8V643.35 M157.94,502.8V643.35 M161.86,502.8V643.35 M165.78,502.8V643.35 M169.70,502.8V643.35 M173.62,502.8V643.35 M177.54,502.8V643.35 M181.46,502.8V643.35 M185.38,502.8V643.35 M189.30,502.8V643.35 M193.22,502.8V643.35 M197.14,502.8V643.35 M201.06,502.8V643.35 M204.98,502.8V643.35 M208.90,502.8V643.35 M212.82,502.8V643.35 M216.74,502.8V643.35 M220.66,502.8V643.35 M224.58,502.8V643.35 M228.50,502.8V643.35 M232.42,502.8V643.35 M236.34,502.8V643.35 M240.26,502.8V643.35 M244.18,502.8V643.35 M248.10,502.8V643.35 M252.02,502.8V643.35 M255.94,502.8V643.35 M259.86,502.8V643.35 M263.78,502.8V643.35 M267.70,502.8V643.35 M271.62,502.8V643.35 M275.54,502.8V643.35 M279.46,502.8V643.35 M283.38,502.8V643.35 M287.30,502.8V643.35 M291.22,502.8V643.35 M295.14,502.8V643.35 M299.06,502.8V643.35 M302.98,502.8V643.35 M306.90,502.8V643.35 M310.82,502.8V643.35 M314.74,502.8V643.35 M318.66,502.8V643.35 M322.58,502.8V643.35 M326.50,502.8V643.35 M330.42,502.8V643.35 M334.34,502.8V643.35 M338.26,502.8V643.35 M342.18,502.8V643.35 M346.10,502.8V643.35 M350.02,502.8V643.35 M353.94,502.8V643.35 M357.86,502.8V643.35 M361.78,502.8V643.35 M365.70,502.8V643.35 M369.62,502.8V643.35 M373.54,502.8V643.35 M377.46,502.8V643.35 M381.38,502.8V643.35 M385.30,502.8V643.35 M389.22,502.8V643.35 M393.14,502.8V643.35 M397.06,502.8V643.35 M400.98,502.8V643.35 M404.90,502.8V643.35 M408.82,502.8V643.35 M412.74,502.8V643.35 M416.66,502.8V643.35 M420.58,502.8V643.35 M424.50,502.8V643.35 M428.42,502.8V643.35 M432.34,502.8V643.35 M436.26,502.8V643.35 M440.18,502.8V643.35 M444.10,502.8V643.35 M448.02,502.8V643.35 M451.94,502.8V643.35 M455.86,502.8V643.35 M459.78,502.8V643.35 M463.70,502.8V643.35 M467.62,502.8V643.35 M471.54,502.8V643.35 M475.46,502.8V643.35 M479.38,502.8V643.35 M483.30,502.8V643.35 M487.22,502.8V643.35 M491.14,502.8V643.35 M495.06,502.8V643.35 M498.98,502.8V643.35 M502.90,502.8V643.35 M506.82,502.8V643.35 M510.74,502.8V643.35 M514.66,502.8V643.35 M518.58,502.8V643.35 M522.50,502.8V643.35 M526.42,502.8V643.35 M530.34,502.8V643.35 M534.26,502.8V643.35 M538.18,502.8V643.35 M542.10,502.8V643.35 M546.02,502.8V643.35 M549.94,502.8V643.35 M553.86,502.8V643.35 M557.78,502.8V643.35 M561.70,502.8V643.35 M565.62,502.8V643.35 M569.54,502.8V643.35 M573.46,502.8V643.35 M577.38,502.8V643.35 M581.30,502.8V643.35 M585.22,502.8V643.35 M589.14,502.8V643.35 M593.06,502.8V643.35 M596.98,502.8V643.35 M600.90,502.8V643.35 M604.82,502.8V643.35 M608.74,502.8V643.35 M612.66,502.8V643.35 M616.58,502.8V643.35 M620.50,502.8V643.35 M624.42,502.8V643.35 M628.34,502.8V643.35 M632.26,502.8V643.35 M636.18,502.8V643.35 M640.10,502.8V643.35 M644.02,502.8V643.35 M647.94,502.8V643.35 M651.86,502.8V643.35 M655.78,502.8V643.35 M659.70,502.8V643.35" stroke="#fff" stroke-opacity="0.12" stroke-width="1.9" fill="none" clip-path="url(#cf3)"/>
<path d="M144.97,502.8V643.35 M148.92,502.8V643.35 M154.38,502.8V643.35 M158.09,502.8V643.35 M163.20,502.8V643.35 M166.17,502.8V643.35 M172.96,502.8V643.35 M177.63,502.8V643.35 M184.08,502.8V643.35 M188.89,502.8V643.35 M193.80,502.8V643.35 M200.21,502.8V643.35 M208.43,502.8V643.35 M213.49,502.8V643.35 M218.99,502.8V643.35 M224.84,502.8V643.35 M232.15,502.8V643.35 M238.74,502.8V643.35 M247.64,502.8V643.35 M252.83,502.8V643.35 M261.26,502.8V643.35 M296.43,502.8V643.35 M300.11,502.8V643.35 M304.07,502.8V643.35 M412.54,502.8V643.35 M416.79,502.8V643.35 M421.14,502.8V643.35 M441.64,502.8V643.35 M446.89,502.8V643.35 M452.13,502.8V643.35 M457.96,502.8V643.35 M461.28,502.8V643.35 M467.85,502.8V643.35 M475.78,502.8V643.35 M483.05,502.8V643.35 M489.55,502.8V643.35 M498.52,502.8V643.35 M507.01,502.8V643.35 M513.23,502.8V643.35 M521.11,502.8V643.35 M528.73,502.8V643.35 M534.19,502.8V643.35 M543.20,502.8V643.35 M557.07,502.8V643.35" stroke="#fff" stroke-opacity="0.55" stroke-width="0.7" fill="none" clip-path="url(#cf3)"/>
<g clip-path="url(#cf3)">
<line x1="59.15" y1="502.8" x2="59.15" y2="643.35" stroke="#dcdcf0" stroke-width="0.9" stroke-opacity="0.55"/>
<line x1="130.00" y1="502.8" x2="130.00" y2="643.35" stroke="#dcdcf0" stroke-width="0.9" stroke-opacity="0.55"/>
<line x1="200.85" y1="502.8" x2="200.85" y2="643.35" stroke="#dcdcf0" stroke-width="0.9" stroke-opacity="0.55"/>
<line x1="271.70" y1="502.8" x2="271.70" y2="643.35" stroke="#dcdcf0" stroke-width="0.9" stroke-opacity="0.55"/>
<line x1="342.55" y1="502.8" x2="342.55" y2="643.35" stroke="#dcdcf0" stroke-width="0.9" stroke-opacity="0.55"/>
<line x1="413.40" y1="502.8" x2="413.40" y2="643.35" stroke="#dcdcf0" stroke-width="0.9" stroke-opacity="0.55"/>
<line x1="484.25" y1="502.8" x2="484.25" y2="643.35" stroke="#dcdcf0" stroke-width="0.9" stroke-opacity="0.55"/>
<line x1="555.10" y1="502.8" x2="555.10" y2="643.35" stroke="#dcdcf0" stroke-width="0.9" stroke-opacity="0.55"/>
<line x1="625.95" y1="502.8" x2="625.95" y2="643.35" stroke="#dcdcf0" stroke-width="0.9" stroke-opacity="0.55"/>
<line x1="43.5" y1="517.51" x2="682.5" y2="517.51" stroke="#dcdcf0" stroke-width="0.9" stroke-opacity="0.55"/>
<line x1="43.5" y1="547.23" x2="682.5" y2="547.23" stroke="#dcdcf0" stroke-width="0.9" stroke-opacity="0.55"/>
<line x1="43.5" y1="606.67" x2="682.5" y2="606.67" stroke="#dcdcf0" stroke-width="0.9" stroke-opacity="0.55"/>
<line x1="43.5" y1="636.39" x2="682.5" y2="636.39" stroke="#dcdcf0" stroke-width="0.9" stroke-opacity="0.55"/>
</g>
<line x1="43.5" y1="576.95" x2="682.5" y2="576.95" stroke="#000" stroke-width="1"/>
<path d="M85.55,555.52 L86.77,547.34 L88.41,543.56 L89.63,552.96 L90.66,559.09 L91.88,555.52 L92.90,555.52 L94.23,561.14 L95.56,564.20 L96.79,565.74 L98.32,561.14 L99.65,560.63 L100.87,565.22 L102.41,568.29 L103.74,570.84 L104.96,561.14 L105.78,552.45 L107.52,552.14 L108.85,546.83 L109.87,542.74 L111.09,539.68 L112.12,536.10 L113.14,535.08 L114.47,533.04 L115.69,535.08 L117.02,536.61 L118.25,538.15 L119.27,546.83 L120.09,549.90 L121.11,545.81 L122.33,542.74 L123.56,546.32 L124.89,550.41 L126.22,559.09 L127.44,567.27 L128.67,570.84 L130.00,570.84 L131.02,575.95 L132.25,569.31 L133.07,565.74 L134.60,566.76 L136.13,566.45 L137.66,566.76 L138.99,565.22 L140.22,569.31 L141.75,569.82 L143.28,569.82 L144.82,567.78 L146.15,567.27 L147.37,558.07 L148.39,562.16 L149.42,557.05 L150.44,559.09 L151.97,559.09 L153.50,558.58 L155.04,558.58 L156.36,559.60 L157.59,559.60 L158.82,548.87 L159.84,529.97 L161.17,535.08 L162.50,516.17 L163.93,509.53 L165.25,512.09 L166.28,512.60 L167.60,516.69 L168.83,518.22 L170.36,518.22 L171.39,518.73 L172.41,521.80 L173.43,526.39 L174.66,533.55 L175.78,529.97 L176.80,538.66 L177.82,550.92 L179.05,561.14 L180.07,557.05 L181.09,545.81 L182.32,537.63 L183.65,537.12 L184.87,537.63 L186.20,535.59 L187.74,535.59 L188.76,535.08 L189.78,528.44 L191.01,544.79 L192.33,536.61 L193.36,531.50 L194.58,530.99 L195.91,537.63 L196.93,542.23 L198.26,542.74 L200.00,541.72 L201.23,540.19 L202.55,538.66 L203.88,535.08 L205.11,533.75 L206.34,536.61 L207.66,545.81 L209.20,552.96 L210.73,561.14 L212.06,564.71 L213.80,566.45 L215.33,566.76 L217.17,566.76 L218.39,576.67 L219.21,579.60 L220.44,585.22 L221.66,585.73 L222.99,588.28 L224.32,592.37 L225.55,595.44 L226.77,596.46 L228.10,596.97 L229.12,595.95 L230.45,598.71 L231.88,599.52 L233.21,597.99 L234.23,592.37 L235.56,588.28 L236.79,587.26 L238.01,591.35 L239.34,587.77 L240.67,588.28 L241.90,589.31 L243.12,586.75 L244.45,587.77 L245.78,587.26 L247.01,583.69 L248.03,579.60 L249.25,576.67 L250.58,571.36 L252.12,565.22 L253.65,559.60 L255.18,557.87 L256.71,558.58 L258.25,561.65 L259.27,564.20 L260.80,562.16 L262.33,563.69 L263.87,565.74 L265.40,569.31 L266.93,574.42 L267.95,576.67 L268.98,579.60 L270.00,582.15 L271.23,584.71 L272.55,584.20 L273.58,580.62 L274.60,580.11 L275.62,582.15 L276.95,587.26 L278.17,582.66 L279.20,582.15 L280.22,584.71 L281.24,585.22 L282.47,590.84 L283.80,589.31 L285.12,584.71 L286.35,583.69 L287.37,580.11 L288.19,576.67 L289.42,571.36 L290.95,559.09 L292.28,555.01 L293.50,548.87 L294.73,543.25 L296.06,543.77 L297.59,543.56 L298.61,542.74 L299.84,540.50 L301.17,543.25 L302.19,546.32 L303.21,542.74 L304.54,543.25 L305.56,546.32 L306.58,553.98 L307.60,562.16 L308.83,573.91 L310.06,561.14 L311.18,556.54 L312.41,557.56 L313.74,558.07 L314.96,551.74 L316.19,559.09 L317.52,568.29 L318.85,575.44 L319.56,576.67 L320.58,570.33 L322.12,563.18 L323.65,558.07 L325.18,552.45 L326.20,551.43 L327.43,552.96 L328.76,553.47 L329.57,555.01 L330.49,549.90 L331.82,550.92 L333.36,551.12 L334.38,551.94 L335.40,556.03 L336.93,559.09 L338.26,565.22 L340.00,573.40 L341.23,581.13 L342.55,586.24 L344.09,592.37 L345.62,598.50 L347.15,604.63 L348.38,609.74 L349.71,615.36 L351.24,619.96 L352.77,623.03 L354.31,624.05 L355.84,624.56 L357.37,625.07 L358.60,623.03 L359.93,620.47 L360.95,616.90 L362.28,614.34 L363.50,616.90 L364.83,618.94 L366.36,618.94 L367.59,619.45 L369.12,617.92 L370.66,617.41 L371.88,616.39 L372.90,614.34 L374.23,619.96 L375.56,622.01 L376.79,623.54 L378.01,625.07 L379.34,625.28 L380.87,624.87 L382.10,625.58 L383.43,625.89 L384.96,624.05 L386.19,625.07 L387.52,627.63 L388.85,630.18 L390.07,633.25 L391.60,636.31 L393.14,635.80 L394.67,634.78 L396.00,633.76 L397.43,630.18 L398.76,630.18 L400.29,630.18 L401.82,630.69 L403.36,631.00 L404.89,629.67 L406.22,630.69 L407.44,631.20 L408.67,626.09 L410.00,624.05 L411.23,624.05 L412.25,625.58 L413.58,624.05 L414.90,623.85 L416.13,624.87 L417.15,618.94 L418.17,614.34 L419.71,615.87 L421.04,616.39 L422.47,617.92 L423.80,615.87 L425.12,616.90 L426.35,618.94 L427.58,620.47 L428.90,615.87 L430.23,611.28 L431.66,610.25 L432.69,605.66 L433.71,595.44 L435.04,585.22 L436.06,578.07 L436.57,576.84 L437.59,568.29 L438.82,561.14 L440.15,557.56 L441.47,556.03 L442.70,558.07 L443.93,562.16 L445.25,565.74 L446.79,567.78 L448.32,572.38 L449.65,565.22 L450.87,560.63 L452.10,566.25 L453.43,569.31 L454.96,570.33 L457.01,570.54 L458.03,575.44 L459.05,576.84 L460.07,586.24 L461.60,585.73 L462.93,586.24 L464.16,587.77 L465.69,584.20 L466.71,580.11 L467.43,578.07 L468.76,579.09 L469.78,578.58 L470.80,581.13 L471.82,587.26 L473.15,593.90 L474.38,594.93 L475.91,595.95 L476.93,594.93 L478.26,600.55 L479.49,604.12 L480.00,603.10 L481.53,604.63 L483.07,604.63 L484.29,603.61 L485.31,597.48 L486.34,591.35 L487.66,586.24 L488.99,580.11 L490.01,577.86 L491.24,579.09 L492.47,579.60 L493.80,583.17 L494.82,587.26 L495.84,589.82 L497.17,588.28 L498.39,586.24 L499.93,584.20 L501.25,582.66 L502.69,579.60 L504.01,584.20 L505.34,589.31 L506.57,591.35 L507.79,594.93 L508.92,600.04 L510.15,596.97 L511.47,597.99 L512.70,599.52 L513.93,604.63 L515.25,610.25 L516.58,611.79 L518.01,615.87 L519.04,609.74 L520.06,599.52 L520.87,590.33 L521.90,583.17 L522.92,581.13 L524.14,583.69 L525.47,583.69 L526.80,582.66 L528.03,582.15 L529.05,578.07 L529.56,576.84 L530.58,569.31 L531.91,557.05 L532.93,550.92 L533.65,548.67 L534.67,561.14 L535.69,573.40 L536.71,568.29 L538.04,566.25 L539.47,565.22 L540.80,561.14 L542.13,557.05 L543.15,556.03 L544.38,560.63 L545.91,561.14 L546.93,566.25 L548.26,569.82 L549.49,559.09 L550.00,558.58 L551.23,558.07 L552.55,552.14 L553.88,553.47 L555.11,553.98 L556.34,555.01 L557.36,559.09 L558.38,566.25 L559.40,573.40 L560.42,576.67 L561.24,581.13 L562.26,587.26 L563.28,593.39 L564.31,598.50 L565.53,602.59 L566.86,605.66 L568.39,606.17 L569.93,606.17 L571.25,610.77 L572.48,607.70 L573.71,604.63 L575.04,603.10 L576.36,602.39 L577.59,603.10 L578.82,605.66 L580.15,607.70 L581.47,608.72 L582.70,606.68 L583.93,602.59 L585.25,597.48 L586.58,594.42 L587.81,591.35 L589.04,591.35 L590.36,589.31 L591.69,587.26 L592.71,582.15 L593.74,576.67 L594.96,572.38 L596.19,575.95 L597.52,575.44 L598.85,573.40 L600.07,572.89 L601.09,572.58 L601.60,576.67 L602.32,582.15 L603.65,584.71 L604.98,587.26 L606.20,590.33 L607.74,595.44 L609.27,599.01 L610.80,601.57 L612.33,603.61 L613.87,605.66 L615.40,606.17 L616.22,610.25 L617.55,607.70 L618.88,608.21 L619.90,604.63 L620.93,595.44 L622.15,588.28 L623.38,581.13 L624.71,576.67 L625.73,572.38 L627.06,569.31 L628.28,562.16 L629.31,551.94 L630.33,538.66 L631.35,531.50 L632.58,520.26 L633.60,513.11 L635.13,509.84 L636.46,514.64 L637.69,520.77 L639.01,518.73 L640.34,517.20 L641.77,515.97 L643.10,517.20 L644.12,521.28 L645.15,528.44 L646.17,537.12 L647.50,541.72 L648.52,543.77 L649.54,550.92 L650.56,546.32 L651.79,547.34 L653.32,547.34" fill="none" stroke="#000" stroke-width="1.5" stroke-linejoin="round" stroke-linecap="butt"/>
<rect x="43.5" y="502.8" width="639.00" height="140.55" fill="none" stroke="#1a1a1a" stroke-width="1"/>
<line x1="59.15" y1="643.35" x2="59.15" y2="647.45" stroke="#000" stroke-width="0.9"/>
<line x1="130.00" y1="643.35" x2="130.00" y2="647.45" stroke="#000" stroke-width="0.9"/>
<line x1="200.85" y1="643.35" x2="200.85" y2="647.45" stroke="#000" stroke-width="0.9"/>
<line x1="271.70" y1="643.35" x2="271.70" y2="647.45" stroke="#000" stroke-width="0.9"/>
<line x1="342.55" y1="643.35" x2="342.55" y2="647.45" stroke="#000" stroke-width="0.9"/>
<line x1="413.40" y1="643.35" x2="413.40" y2="647.45" stroke="#000" stroke-width="0.9"/>
<line x1="484.25" y1="643.35" x2="484.25" y2="647.45" stroke="#000" stroke-width="0.9"/>
<line x1="555.10" y1="643.35" x2="555.10" y2="647.45" stroke="#000" stroke-width="0.9"/>
<line x1="625.95" y1="643.35" x2="625.95" y2="647.45" stroke="#000" stroke-width="0.9"/>
<line x1="39.4" y1="517.51" x2="43.5" y2="517.51" stroke="#000" stroke-width="0.9"/>
<text x="34.5" y="521.91" font-size="12.3" text-anchor="end" textLength="7.0" lengthAdjust="spacingAndGlyphs">2</text>
<line x1="39.4" y1="547.23" x2="43.5" y2="547.23" stroke="#000" stroke-width="0.9"/>
<text x="34.5" y="551.63" font-size="12.3" text-anchor="end" textLength="7.0" lengthAdjust="spacingAndGlyphs">1</text>
<line x1="39.4" y1="576.95" x2="43.5" y2="576.95" stroke="#000" stroke-width="0.9"/>
<text x="34.5" y="581.35" font-size="12.3" text-anchor="end" textLength="7.0" lengthAdjust="spacingAndGlyphs">0</text>
<line x1="39.4" y1="606.67" x2="43.5" y2="606.67" stroke="#000" stroke-width="0.9"/>
<text x="34.5" y="611.07" font-size="12.3" text-anchor="end" textLength="16.6" lengthAdjust="spacingAndGlyphs">−1</text>
<line x1="39.4" y1="636.39" x2="43.5" y2="636.39" stroke="#000" stroke-width="0.9"/>
<text x="34.5" y="640.79" font-size="12.3" text-anchor="end" textLength="16.6" lengthAdjust="spacingAndGlyphs">−2</text>
<text transform="translate(9.8,574.28) rotate(-90)" font-size="11.9" text-anchor="middle" textLength="44.6" lengthAdjust="spacingAndGlyphs">SPEI-12</text>
<text x="59.15" y="661.3" font-size="12.3" text-anchor="middle" textLength="29.2" lengthAdjust="spacingAndGlyphs">1980</text>
<text x="130.00" y="661.3" font-size="12.3" text-anchor="middle" textLength="29.2" lengthAdjust="spacingAndGlyphs">1985</text>
<text x="200.85" y="661.3" font-size="12.3" text-anchor="middle" textLength="29.2" lengthAdjust="spacingAndGlyphs">1990</text>
<text x="271.70" y="661.3" font-size="12.3" text-anchor="middle" textLength="29.2" lengthAdjust="spacingAndGlyphs">1995</text>
<text x="342.55" y="661.3" font-size="12.3" text-anchor="middle" textLength="29.2" lengthAdjust="spacingAndGlyphs">2000</text>
<text x="413.40" y="661.3" font-size="12.3" text-anchor="middle" textLength="29.2" lengthAdjust="spacingAndGlyphs">2005</text>
<text x="484.25" y="661.3" font-size="12.3" text-anchor="middle" textLength="29.2" lengthAdjust="spacingAndGlyphs">2010</text>
<text x="555.10" y="661.3" font-size="12.3" text-anchor="middle" textLength="29.2" lengthAdjust="spacingAndGlyphs">2015</text>
<text x="625.95" y="661.3" font-size="12.3" text-anchor="middle" textLength="29.2" lengthAdjust="spacingAndGlyphs">2020</text>
<text x="362.5" y="676.6" font-size="11.7" text-anchor="middle" textLength="24" lengthAdjust="spacingAndGlyphs">Year</text>
<rect x="189.8" y="669" width="302.1" height="21.5" rx="2.3" ry="2.3" fill="#fff" fill-opacity="0.8" stroke="#cccccc" stroke-width="1"/>
<rect x="194.7" y="675.4" width="24.5" height="8.5" fill="#0000ff"/>
<text x="229.8" y="684" font-size="12.4" textLength="27" lengthAdjust="spacingAndGlyphs">Wet</text>
<rect x="278.1" y="675.4" width="24.5" height="8.5" fill="#ff0000"/>
<text x="313.1" y="684" font-size="12.4" textLength="22.5" lengthAdjust="spacingAndGlyphs">Dry</text>
<line x1="358.5" y1="679.7" x2="384.2" y2="679.7" stroke="#000" stroke-width="1.5"/>
<text x="393.6" y="684" font-size="12.4" textLength="93.8" lengthAdjust="spacingAndGlyphs">SPEI Index Line</text>
</svg></body></html>
